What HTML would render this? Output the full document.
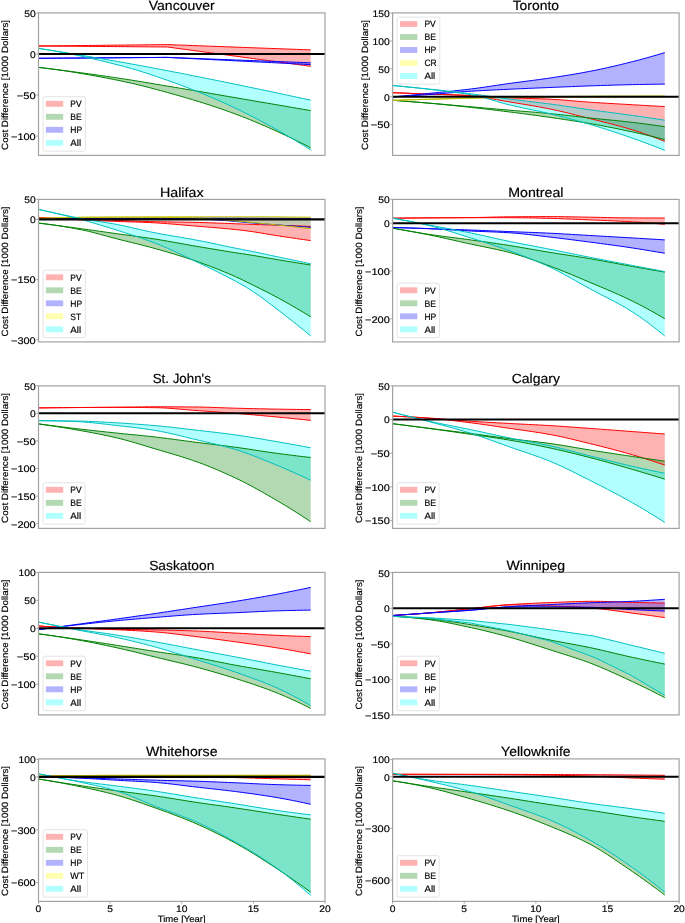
<!DOCTYPE html>
<html><head><meta charset="utf-8"><style>
html,body{margin:0;padding:0;background:#fff;}
svg{display:block;}
text{font-family:"Liberation Sans",sans-serif;fill:#000;stroke:#000;stroke-width:0.18px;text-rendering:geometricPrecision;}
svg{will-change:transform;}
</style></head><body>
<svg width="685" height="923" viewBox="0 0 685 923">
<rect x="0" y="0" width="685" height="923" fill="#fff"/>
<g>
<clipPath id="c00"><rect x="38.5" y="12.9" width="286.5" height="142.5"/></clipPath>
<g clip-path="url(#c00)">
<polygon points="38.5,46 42.08,45.96 45.66,45.92 49.24,45.88 52.83,45.84 56.41,45.81 59.99,45.77 63.57,45.73 67.15,45.69 70.73,45.65 74.31,45.61 77.89,45.57 81.47,45.53 85.06,45.49 88.64,45.46 92.22,45.42 95.8,45.38 99.38,45.34 102.96,45.3 106.54,45.26 110.12,45.22 113.71,45.18 117.29,45.14 120.87,45.11 124.45,45.07 128.03,45.03 131.61,44.99 135.19,44.95 138.77,44.91 142.36,44.87 145.94,44.83 149.52,44.79 153.1,44.76 156.68,44.72 160.26,44.68 163.84,44.64 167.42,44.6 171.01,44.73 174.59,44.87 178.17,45 181.75,45.13 185.33,45.26 188.91,45.4 192.49,45.53 196.07,45.66 199.66,45.79 203.24,45.92 206.82,46.06 210.4,46.19 213.98,46.32 217.56,46.45 221.14,46.59 224.72,46.72 228.31,46.85 231.89,46.98 235.47,47.12 239.05,47.25 242.63,47.38 246.21,47.52 249.79,47.65 253.38,47.78 256.96,47.91 260.54,48.05 264.12,48.18 267.7,48.31 271.28,48.44 274.86,48.58 278.44,48.71 282.02,48.84 285.61,48.97 289.19,49.1 292.77,49.24 296.35,49.37 299.93,49.5 303.51,49.63 307.09,49.77 310.68,49.9 310.68,66.3 307.09,65.82 303.51,65.33 299.93,64.85 296.35,64.37 292.77,63.89 289.19,63.41 285.61,62.92 282.02,62.44 278.44,61.96 274.86,61.47 271.28,60.99 267.7,60.51 264.12,60.03 260.54,59.55 256.96,59.06 253.38,58.58 249.79,58.1 246.21,57.61 242.63,57.13 239.05,56.65 235.47,56.17 231.89,55.69 228.31,55.2 224.72,54.72 221.14,54.24 217.56,53.75 213.98,53.27 210.4,52.79 206.82,52.31 203.24,51.83 199.66,51.34 196.07,50.86 192.49,50.38 188.91,49.89 185.33,49.41 181.75,48.93 178.17,48.45 174.59,47.97 171.01,47.48 167.42,47 163.84,46.97 160.26,46.94 156.68,46.92 153.1,46.89 149.52,46.86 145.94,46.83 142.36,46.81 138.77,46.78 135.19,46.75 131.61,46.72 128.03,46.69 124.45,46.67 120.87,46.64 117.29,46.61 113.71,46.58 110.12,46.56 106.54,46.53 102.96,46.5 99.38,46.47 95.8,46.44 92.22,46.42 88.64,46.39 85.06,46.36 81.47,46.33 77.89,46.31 74.31,46.28 70.73,46.25 67.15,46.22 63.57,46.19 59.99,46.17 56.41,46.14 52.83,46.11 49.24,46.08 45.66,46.06 42.08,46.03 38.5,46" fill="#ff0000" fill-opacity="0.3" stroke="none"/>
<polygon points="38.5,67.4 42.08,67.82 45.66,68.25 49.24,68.68 52.83,69.12 56.41,69.56 59.99,70.02 63.57,70.47 67.15,70.94 70.73,71.41 74.31,71.88 77.89,72.36 81.47,72.85 85.06,73.34 88.64,73.83 92.22,74.33 95.8,74.84 99.38,75.35 102.96,75.86 106.54,76.38 110.12,76.9 113.71,77.42 117.29,77.95 120.87,78.49 124.45,79.03 128.03,79.58 131.61,80.15 135.19,80.72 138.77,81.31 142.36,81.9 145.94,82.49 149.52,83.09 153.1,83.69 156.68,84.3 160.26,84.9 163.84,85.5 167.42,86.1 171.01,86.7 174.59,87.3 178.17,87.9 181.75,88.51 185.33,89.12 188.91,89.73 192.49,90.34 196.07,90.95 199.66,91.56 203.24,92.18 206.82,92.79 210.4,93.41 213.98,94.02 217.56,94.64 221.14,95.25 224.72,95.87 228.31,96.48 231.89,97.09 235.47,97.71 239.05,98.32 242.63,98.93 246.21,99.54 249.79,100.16 253.38,100.77 256.96,101.38 260.54,102 264.12,102.61 267.7,103.22 271.28,103.84 274.86,104.45 278.44,105.07 282.02,105.68 285.61,106.29 289.19,106.91 292.77,107.52 296.35,108.14 299.93,108.75 303.51,109.37 307.09,109.98 310.68,110.6 310.68,147.8 307.09,145.96 303.51,144.14 299.93,142.34 296.35,140.57 292.77,138.82 289.19,137.09 285.61,135.38 282.02,133.7 278.44,132.04 274.86,130.4 271.28,128.79 267.7,127.2 264.12,125.64 260.54,124.11 256.96,122.59 253.38,121.11 249.79,119.64 246.21,118.21 242.63,116.8 239.05,115.42 235.47,114.06 231.89,112.73 228.31,111.43 224.72,110.15 221.14,108.9 217.56,107.67 213.98,106.47 210.4,105.29 206.82,104.13 203.24,102.99 199.66,101.87 196.07,100.77 192.49,99.68 188.91,98.62 185.33,97.56 181.75,96.53 178.17,95.5 174.59,94.49 171.01,93.49 167.42,92.5 163.84,91.52 160.26,90.54 156.68,89.57 153.1,88.61 149.52,87.67 145.94,86.74 142.36,85.83 138.77,84.95 135.19,84.08 131.61,83.25 128.03,82.44 124.45,81.66 120.87,80.92 117.29,80.2 113.71,79.49 110.12,78.78 106.54,78.09 102.96,77.4 99.38,76.73 95.8,76.06 92.22,75.41 88.64,74.77 85.06,74.14 81.47,73.52 77.89,72.92 74.31,72.33 70.73,71.76 67.15,71.2 63.57,70.66 59.99,70.14 56.41,69.63 52.83,69.15 49.24,68.68 45.66,68.23 42.08,67.81 38.5,67.4" fill="#008000" fill-opacity="0.3" stroke="none"/>
<polygon points="38.5,58.3 42.08,58.27 45.66,58.25 49.24,58.22 52.83,58.2 56.41,58.17 59.99,58.15 63.57,58.12 67.15,58.1 70.73,58.07 74.31,58.05 77.89,58.02 81.47,58 85.06,57.97 88.64,57.95 92.22,57.92 95.8,57.9 99.38,57.88 102.96,57.85 106.54,57.82 110.12,57.8 113.71,57.77 117.29,57.75 120.87,57.73 124.45,57.7 128.03,57.67 131.61,57.65 135.19,57.62 138.77,57.6 142.36,57.57 145.94,57.55 149.52,57.52 153.1,57.5 156.68,57.48 160.26,57.45 163.84,57.42 167.42,57.4 171.01,57.53 174.59,57.67 178.17,57.8 181.75,57.94 185.33,58.07 188.91,58.21 192.49,58.34 196.07,58.48 199.66,58.61 203.24,58.75 206.82,58.88 210.4,59.02 213.98,59.16 217.56,59.29 221.14,59.42 224.72,59.56 228.31,59.7 231.89,59.83 235.47,59.96 239.05,60.1 242.63,60.23 246.21,60.37 249.79,60.5 253.38,60.64 256.96,60.77 260.54,60.91 264.12,61.04 267.7,61.18 271.28,61.31 274.86,61.45 278.44,61.58 282.02,61.72 285.61,61.85 289.19,61.99 292.77,62.12 296.35,62.26 299.93,62.39 303.51,62.53 307.09,62.66 310.68,62.8 310.68,64.6 307.09,64.42 303.51,64.24 299.93,64.06 296.35,63.88 292.77,63.7 289.19,63.52 285.61,63.34 282.02,63.16 278.44,62.98 274.86,62.8 271.28,62.62 267.7,62.44 264.12,62.26 260.54,62.08 256.96,61.9 253.38,61.72 249.79,61.54 246.21,61.36 242.63,61.18 239.05,61 235.47,60.82 231.89,60.64 228.31,60.46 224.72,60.28 221.14,60.1 217.56,59.92 213.98,59.74 210.4,59.56 206.82,59.38 203.24,59.2 199.66,59.02 196.07,58.84 192.49,58.66 188.91,58.48 185.33,58.3 181.75,58.12 178.17,57.94 174.59,57.76 171.01,57.58 167.42,57.4 163.84,57.42 160.26,57.45 156.68,57.48 153.1,57.5 149.52,57.52 145.94,57.55 142.36,57.57 138.77,57.6 135.19,57.62 131.61,57.65 128.03,57.67 124.45,57.7 120.87,57.73 117.29,57.75 113.71,57.77 110.12,57.8 106.54,57.82 102.96,57.85 99.38,57.88 95.8,57.9 92.22,57.92 88.64,57.95 85.06,57.97 81.47,58 77.89,58.02 74.31,58.05 70.73,58.07 67.15,58.1 63.57,58.12 59.99,58.15 56.41,58.17 52.83,58.2 49.24,58.22 45.66,58.25 42.08,58.27 38.5,58.3" fill="#0000ff" fill-opacity="0.3" stroke="none"/>
<polygon points="38.5,48.4 42.08,48.96 45.66,49.52 49.24,50.08 52.83,50.65 56.41,51.22 59.99,51.8 63.57,52.38 67.15,52.96 70.73,53.55 74.31,54.14 77.89,54.73 81.47,55.33 85.06,55.93 88.64,56.54 92.22,57.14 95.8,57.75 99.38,58.37 102.96,58.98 106.54,59.6 110.12,60.22 113.71,60.85 117.29,61.47 120.87,62.1 124.45,62.73 128.03,63.37 131.61,64.02 135.19,64.67 138.77,65.32 142.36,65.98 145.94,66.64 149.52,67.31 153.1,67.98 156.68,68.66 160.26,69.34 163.84,70.02 167.42,70.7 171.01,71.39 174.59,72.08 178.17,72.77 181.75,73.47 185.33,74.17 188.91,74.88 192.49,75.59 196.07,76.3 199.66,77.02 203.24,77.73 206.82,78.45 210.4,79.18 213.98,79.9 217.56,80.63 221.14,81.36 224.72,82.09 228.31,82.82 231.89,83.55 235.47,84.29 239.05,85.02 242.63,85.76 246.21,86.5 249.79,87.25 253.38,87.99 256.96,88.74 260.54,89.49 264.12,90.24 267.7,90.99 271.28,91.75 274.86,92.51 278.44,93.27 282.02,94.03 285.61,94.79 289.19,95.56 292.77,96.33 296.35,97.1 299.93,97.87 303.51,98.64 307.09,99.42 310.68,100.2 310.68,149.9 307.09,147.66 303.51,145.44 299.93,143.24 296.35,141.07 292.77,138.93 289.19,136.81 285.61,134.71 282.02,132.64 278.44,130.6 274.86,128.58 271.28,126.59 267.7,124.63 264.12,122.69 260.54,120.78 256.96,118.9 253.38,117.05 249.79,115.22 246.21,113.42 242.63,111.65 239.05,109.9 235.47,108.19 231.89,106.5 228.31,104.84 224.72,103.21 221.14,101.6 217.56,100.02 213.98,98.46 210.4,96.93 206.82,95.42 203.24,93.93 199.66,92.47 196.07,91.03 192.49,89.62 188.91,88.22 185.33,86.85 181.75,85.5 178.17,84.17 174.59,82.86 171.01,81.57 167.42,80.3 163.84,79.05 160.26,77.8 156.68,76.58 153.1,75.36 149.52,74.17 145.94,73 142.36,71.86 138.77,70.74 135.19,69.65 131.61,68.59 128.03,67.57 124.45,66.59 120.87,65.65 117.29,64.73 113.71,63.83 110.12,62.94 106.54,62.05 102.96,61.18 99.38,60.32 95.8,59.48 92.22,58.65 88.64,57.83 85.06,57.03 81.47,56.24 77.89,55.47 74.31,54.72 70.73,53.99 67.15,53.28 63.57,52.59 59.99,51.92 56.41,51.27 52.83,50.65 49.24,50.05 45.66,49.47 42.08,48.92 38.5,48.4" fill="#00ffff" fill-opacity="0.3" stroke="none"/>
<polyline points="38.5,46 42.08,45.96 45.66,45.92 49.24,45.88 52.83,45.84 56.41,45.81 59.99,45.77 63.57,45.73 67.15,45.69 70.73,45.65 74.31,45.61 77.89,45.57 81.47,45.53 85.06,45.49 88.64,45.46 92.22,45.42 95.8,45.38 99.38,45.34 102.96,45.3 106.54,45.26 110.12,45.22 113.71,45.18 117.29,45.14 120.87,45.11 124.45,45.07 128.03,45.03 131.61,44.99 135.19,44.95 138.77,44.91 142.36,44.87 145.94,44.83 149.52,44.79 153.1,44.76 156.68,44.72 160.26,44.68 163.84,44.64 167.42,44.6 171.01,44.73 174.59,44.87 178.17,45 181.75,45.13 185.33,45.26 188.91,45.4 192.49,45.53 196.07,45.66 199.66,45.79 203.24,45.92 206.82,46.06 210.4,46.19 213.98,46.32 217.56,46.45 221.14,46.59 224.72,46.72 228.31,46.85 231.89,46.98 235.47,47.12 239.05,47.25 242.63,47.38 246.21,47.52 249.79,47.65 253.38,47.78 256.96,47.91 260.54,48.05 264.12,48.18 267.7,48.31 271.28,48.44 274.86,48.58 278.44,48.71 282.02,48.84 285.61,48.97 289.19,49.1 292.77,49.24 296.35,49.37 299.93,49.5 303.51,49.63 307.09,49.77 310.68,49.9" fill="none" stroke="#ff0000" stroke-width="1.0" stroke-linejoin="round"/>
<polyline points="38.5,46 42.08,46.03 45.66,46.06 49.24,46.08 52.83,46.11 56.41,46.14 59.99,46.17 63.57,46.19 67.15,46.22 70.73,46.25 74.31,46.28 77.89,46.31 81.47,46.33 85.06,46.36 88.64,46.39 92.22,46.42 95.8,46.44 99.38,46.47 102.96,46.5 106.54,46.53 110.12,46.56 113.71,46.58 117.29,46.61 120.87,46.64 124.45,46.67 128.03,46.69 131.61,46.72 135.19,46.75 138.77,46.78 142.36,46.81 145.94,46.83 149.52,46.86 153.1,46.89 156.68,46.92 160.26,46.94 163.84,46.97 167.42,47 171.01,47.48 174.59,47.97 178.17,48.45 181.75,48.93 185.33,49.41 188.91,49.89 192.49,50.38 196.07,50.86 199.66,51.34 203.24,51.83 206.82,52.31 210.4,52.79 213.98,53.27 217.56,53.75 221.14,54.24 224.72,54.72 228.31,55.2 231.89,55.69 235.47,56.17 239.05,56.65 242.63,57.13 246.21,57.61 249.79,58.1 253.38,58.58 256.96,59.06 260.54,59.55 264.12,60.03 267.7,60.51 271.28,60.99 274.86,61.47 278.44,61.96 282.02,62.44 285.61,62.92 289.19,63.41 292.77,63.89 296.35,64.37 299.93,64.85 303.51,65.33 307.09,65.82 310.68,66.3" fill="none" stroke="#ff0000" stroke-width="1.0" stroke-linejoin="round"/>
<polyline points="38.5,67.4 42.08,67.82 45.66,68.25 49.24,68.68 52.83,69.12 56.41,69.56 59.99,70.02 63.57,70.47 67.15,70.94 70.73,71.41 74.31,71.88 77.89,72.36 81.47,72.85 85.06,73.34 88.64,73.83 92.22,74.33 95.8,74.84 99.38,75.35 102.96,75.86 106.54,76.38 110.12,76.9 113.71,77.42 117.29,77.95 120.87,78.49 124.45,79.03 128.03,79.58 131.61,80.15 135.19,80.72 138.77,81.31 142.36,81.9 145.94,82.49 149.52,83.09 153.1,83.69 156.68,84.3 160.26,84.9 163.84,85.5 167.42,86.1 171.01,86.7 174.59,87.3 178.17,87.9 181.75,88.51 185.33,89.12 188.91,89.73 192.49,90.34 196.07,90.95 199.66,91.56 203.24,92.18 206.82,92.79 210.4,93.41 213.98,94.02 217.56,94.64 221.14,95.25 224.72,95.87 228.31,96.48 231.89,97.09 235.47,97.71 239.05,98.32 242.63,98.93 246.21,99.54 249.79,100.16 253.38,100.77 256.96,101.38 260.54,102 264.12,102.61 267.7,103.22 271.28,103.84 274.86,104.45 278.44,105.07 282.02,105.68 285.61,106.29 289.19,106.91 292.77,107.52 296.35,108.14 299.93,108.75 303.51,109.37 307.09,109.98 310.68,110.6" fill="none" stroke="#008000" stroke-width="1.0" stroke-linejoin="round"/>
<polyline points="38.5,67.4 42.08,67.81 45.66,68.23 49.24,68.68 52.83,69.15 56.41,69.63 59.99,70.14 63.57,70.66 67.15,71.2 70.73,71.76 74.31,72.33 77.89,72.92 81.47,73.52 85.06,74.14 88.64,74.77 92.22,75.41 95.8,76.06 99.38,76.73 102.96,77.4 106.54,78.09 110.12,78.78 113.71,79.49 117.29,80.2 120.87,80.92 124.45,81.66 128.03,82.44 131.61,83.25 135.19,84.08 138.77,84.95 142.36,85.83 145.94,86.74 149.52,87.67 153.1,88.61 156.68,89.57 160.26,90.54 163.84,91.52 167.42,92.5 171.01,93.49 174.59,94.49 178.17,95.5 181.75,96.53 185.33,97.56 188.91,98.62 192.49,99.68 196.07,100.77 199.66,101.87 203.24,102.99 206.82,104.13 210.4,105.29 213.98,106.47 217.56,107.67 221.14,108.9 224.72,110.15 228.31,111.43 231.89,112.73 235.47,114.06 239.05,115.42 242.63,116.8 246.21,118.21 249.79,119.64 253.38,121.11 256.96,122.59 260.54,124.11 264.12,125.64 267.7,127.2 271.28,128.79 274.86,130.4 278.44,132.04 282.02,133.7 285.61,135.38 289.19,137.09 292.77,138.82 296.35,140.57 299.93,142.34 303.51,144.14 307.09,145.96 310.68,147.8" fill="none" stroke="#008000" stroke-width="1.0" stroke-linejoin="round"/>
<polyline points="38.5,58.3 42.08,58.27 45.66,58.25 49.24,58.22 52.83,58.2 56.41,58.17 59.99,58.15 63.57,58.12 67.15,58.1 70.73,58.07 74.31,58.05 77.89,58.02 81.47,58 85.06,57.97 88.64,57.95 92.22,57.92 95.8,57.9 99.38,57.88 102.96,57.85 106.54,57.82 110.12,57.8 113.71,57.77 117.29,57.75 120.87,57.73 124.45,57.7 128.03,57.67 131.61,57.65 135.19,57.62 138.77,57.6 142.36,57.57 145.94,57.55 149.52,57.52 153.1,57.5 156.68,57.48 160.26,57.45 163.84,57.42 167.42,57.4 171.01,57.53 174.59,57.67 178.17,57.8 181.75,57.94 185.33,58.07 188.91,58.21 192.49,58.34 196.07,58.48 199.66,58.61 203.24,58.75 206.82,58.88 210.4,59.02 213.98,59.16 217.56,59.29 221.14,59.42 224.72,59.56 228.31,59.7 231.89,59.83 235.47,59.96 239.05,60.1 242.63,60.23 246.21,60.37 249.79,60.5 253.38,60.64 256.96,60.77 260.54,60.91 264.12,61.04 267.7,61.18 271.28,61.31 274.86,61.45 278.44,61.58 282.02,61.72 285.61,61.85 289.19,61.99 292.77,62.12 296.35,62.26 299.93,62.39 303.51,62.53 307.09,62.66 310.68,62.8" fill="none" stroke="#0000ff" stroke-width="1.0" stroke-linejoin="round"/>
<polyline points="38.5,58.3 42.08,58.27 45.66,58.25 49.24,58.22 52.83,58.2 56.41,58.17 59.99,58.15 63.57,58.12 67.15,58.1 70.73,58.07 74.31,58.05 77.89,58.02 81.47,58 85.06,57.97 88.64,57.95 92.22,57.92 95.8,57.9 99.38,57.88 102.96,57.85 106.54,57.82 110.12,57.8 113.71,57.77 117.29,57.75 120.87,57.73 124.45,57.7 128.03,57.67 131.61,57.65 135.19,57.62 138.77,57.6 142.36,57.57 145.94,57.55 149.52,57.52 153.1,57.5 156.68,57.48 160.26,57.45 163.84,57.42 167.42,57.4 171.01,57.58 174.59,57.76 178.17,57.94 181.75,58.12 185.33,58.3 188.91,58.48 192.49,58.66 196.07,58.84 199.66,59.02 203.24,59.2 206.82,59.38 210.4,59.56 213.98,59.74 217.56,59.92 221.14,60.1 224.72,60.28 228.31,60.46 231.89,60.64 235.47,60.82 239.05,61 242.63,61.18 246.21,61.36 249.79,61.54 253.38,61.72 256.96,61.9 260.54,62.08 264.12,62.26 267.7,62.44 271.28,62.62 274.86,62.8 278.44,62.98 282.02,63.16 285.61,63.34 289.19,63.52 292.77,63.7 296.35,63.88 299.93,64.06 303.51,64.24 307.09,64.42 310.68,64.6" fill="none" stroke="#0000ff" stroke-width="1.0" stroke-linejoin="round"/>
<polyline points="38.5,48.4 42.08,48.96 45.66,49.52 49.24,50.08 52.83,50.65 56.41,51.22 59.99,51.8 63.57,52.38 67.15,52.96 70.73,53.55 74.31,54.14 77.89,54.73 81.47,55.33 85.06,55.93 88.64,56.54 92.22,57.14 95.8,57.75 99.38,58.37 102.96,58.98 106.54,59.6 110.12,60.22 113.71,60.85 117.29,61.47 120.87,62.1 124.45,62.73 128.03,63.37 131.61,64.02 135.19,64.67 138.77,65.32 142.36,65.98 145.94,66.64 149.52,67.31 153.1,67.98 156.68,68.66 160.26,69.34 163.84,70.02 167.42,70.7 171.01,71.39 174.59,72.08 178.17,72.77 181.75,73.47 185.33,74.17 188.91,74.88 192.49,75.59 196.07,76.3 199.66,77.02 203.24,77.73 206.82,78.45 210.4,79.18 213.98,79.9 217.56,80.63 221.14,81.36 224.72,82.09 228.31,82.82 231.89,83.55 235.47,84.29 239.05,85.02 242.63,85.76 246.21,86.5 249.79,87.25 253.38,87.99 256.96,88.74 260.54,89.49 264.12,90.24 267.7,90.99 271.28,91.75 274.86,92.51 278.44,93.27 282.02,94.03 285.61,94.79 289.19,95.56 292.77,96.33 296.35,97.1 299.93,97.87 303.51,98.64 307.09,99.42 310.68,100.2" fill="none" stroke="#00bfbf" stroke-width="1.0" stroke-linejoin="round"/>
<polyline points="38.5,48.4 42.08,48.92 45.66,49.47 49.24,50.05 52.83,50.65 56.41,51.27 59.99,51.92 63.57,52.59 67.15,53.28 70.73,53.99 74.31,54.72 77.89,55.47 81.47,56.24 85.06,57.03 88.64,57.83 92.22,58.65 95.8,59.48 99.38,60.32 102.96,61.18 106.54,62.05 110.12,62.94 113.71,63.83 117.29,64.73 120.87,65.65 124.45,66.59 128.03,67.57 131.61,68.59 135.19,69.65 138.77,70.74 142.36,71.86 145.94,73 149.52,74.17 153.1,75.36 156.68,76.58 160.26,77.8 163.84,79.05 167.42,80.3 171.01,81.57 174.59,82.86 178.17,84.17 181.75,85.5 185.33,86.85 188.91,88.22 192.49,89.62 196.07,91.03 199.66,92.47 203.24,93.93 206.82,95.42 210.4,96.93 213.98,98.46 217.56,100.02 221.14,101.6 224.72,103.21 228.31,104.84 231.89,106.5 235.47,108.19 239.05,109.9 242.63,111.65 246.21,113.42 249.79,115.22 253.38,117.05 256.96,118.9 260.54,120.78 264.12,122.69 267.7,124.63 271.28,126.59 274.86,128.58 278.44,130.6 282.02,132.64 285.61,134.71 289.19,136.81 292.77,138.93 296.35,141.07 299.93,143.24 303.51,145.44 307.09,147.66 310.68,149.9" fill="none" stroke="#00bfbf" stroke-width="1.0" stroke-linejoin="round"/>
<line x1="38.5" y1="54" x2="325" y2="54" stroke="#000" stroke-width="2.1"/>
</g>
<rect x="38.5" y="12.9" width="286.5" height="142.5" fill="none" stroke="#a2a2a2" stroke-width="1.2"/>
<line x1="36.3" y1="12.97" x2="38.5" y2="12.97" stroke="#a2a2a2" stroke-width="1"/>
<text x="35.7" y="16.77" font-size="9.54" text-anchor="end" textLength="11.45" lengthAdjust="spacingAndGlyphs">50</text>
<line x1="36.3" y1="54" x2="38.5" y2="54" stroke="#a2a2a2" stroke-width="1"/>
<text x="35.7" y="57.8" font-size="9.54" text-anchor="end" textLength="5.73" lengthAdjust="spacingAndGlyphs">0</text>
<line x1="36.3" y1="95.03" x2="38.5" y2="95.03" stroke="#a2a2a2" stroke-width="1"/>
<text x="35.7" y="98.83" font-size="9.54" text-anchor="end" textLength="18.99" lengthAdjust="spacingAndGlyphs">−50</text>
<line x1="36.3" y1="136.07" x2="38.5" y2="136.07" stroke="#a2a2a2" stroke-width="1"/>
<text x="35.7" y="139.87" font-size="9.54" text-anchor="end" textLength="24.72" lengthAdjust="spacingAndGlyphs">−100</text>
<text x="181.75" y="10.3" font-size="13.3" text-anchor="middle" textLength="66.1" lengthAdjust="spacingAndGlyphs">Vancouver</text>
<text x="7.8" y="84.95" font-size="9.09" text-anchor="middle" textLength="129.9" lengthAdjust="spacingAndGlyphs" transform="rotate(-90 7.8 84.95)">Cost Difference [1000 Dollars]</text>
<rect x="43.1" y="96.7" width="42.26" height="54.5" rx="2" ry="2" fill="#fff" fill-opacity="0.8" stroke="#d9d9d9" stroke-opacity="0.8" stroke-width="0.9"/>
<rect x="45.9" y="100.85" width="17.3" height="5.9" fill="#ff0000" fill-opacity="0.3"/>
<text x="70.3" y="107" font-size="9.28" text-anchor="start" textLength="11.26" lengthAdjust="spacingAndGlyphs">PV</text>
<rect x="45.9" y="113.85" width="17.3" height="5.9" fill="#008000" fill-opacity="0.3"/>
<text x="70.3" y="120" font-size="9.28" text-anchor="start" textLength="11.53" lengthAdjust="spacingAndGlyphs">BE</text>
<rect x="45.9" y="126.85" width="17.3" height="5.9" fill="#0000ff" fill-opacity="0.3"/>
<text x="70.3" y="133" font-size="9.28" text-anchor="start" textLength="11.86" lengthAdjust="spacingAndGlyphs">HP</text>
<rect x="45.9" y="139.85" width="17.3" height="5.9" fill="#00ffff" fill-opacity="0.3"/>
<text x="70.3" y="146" font-size="9.28" text-anchor="start" textLength="10.85" lengthAdjust="spacingAndGlyphs">All</text>
</g>
<g>
<clipPath id="c10"><rect x="392.6" y="12.9" width="286.5" height="142.5"/></clipPath>
<g clip-path="url(#c10)">
<polygon points="392.6,92.7 396.18,92.84 399.76,92.98 403.34,93.12 406.93,93.26 410.51,93.39 414.09,93.53 417.67,93.66 421.25,93.79 424.83,93.92 428.41,94.04 431.99,94.17 435.58,94.28 439.16,94.4 442.74,94.5 446.32,94.61 449.9,94.71 453.48,94.82 457.06,94.93 460.64,95.05 464.23,95.17 467.81,95.31 471.39,95.46 474.97,95.64 478.55,95.84 482.13,96.07 485.71,96.3 489.29,96.55 492.88,96.79 496.46,97.03 500.04,97.26 503.62,97.48 507.2,97.67 510.78,97.84 514.36,97.98 517.94,98.11 521.52,98.23 525.11,98.34 528.69,98.44 532.27,98.55 535.85,98.66 539.43,98.78 543.01,98.9 546.59,99.05 550.17,99.21 553.76,99.4 557.34,99.62 560.92,99.88 564.5,100.15 568.08,100.44 571.66,100.74 575.24,101.05 578.83,101.35 582.41,101.64 585.99,101.92 589.57,102.17 593.15,102.41 596.73,102.64 600.31,102.86 603.89,103.08 607.48,103.29 611.06,103.5 614.64,103.71 618.22,103.92 621.8,104.13 625.38,104.33 628.96,104.54 632.54,104.75 636.12,104.96 639.71,105.17 643.29,105.38 646.87,105.58 650.45,105.79 654.03,105.99 657.61,106.2 661.19,106.4 664.78,106.6 664.78,141.4 661.19,140 657.61,138.62 654.03,137.27 650.45,135.95 646.87,134.67 643.29,133.42 639.71,132.2 636.12,131.03 632.54,129.89 628.96,128.8 625.38,127.75 621.8,126.73 618.22,125.75 614.64,124.8 611.06,123.87 607.48,122.96 603.89,122.06 600.31,121.16 596.73,120.28 593.15,119.39 589.57,118.49 585.99,117.59 582.41,116.68 578.83,115.77 575.24,114.86 571.66,113.96 568.08,113.08 564.5,112.22 560.92,111.37 557.34,110.56 553.76,109.77 550.17,109.03 546.59,108.32 543.01,107.63 539.43,106.97 535.85,106.33 532.27,105.7 528.69,105.09 525.11,104.49 521.52,103.9 517.94,103.31 514.36,102.73 510.78,102.14 507.2,101.54 503.62,100.91 500.04,100.25 496.46,99.59 492.88,98.94 489.29,98.3 485.71,97.7 482.13,97.15 478.55,96.65 474.97,96.23 471.39,95.9 467.81,95.66 464.23,95.45 460.64,95.27 457.06,95.1 453.48,94.95 449.9,94.81 446.32,94.68 442.74,94.56 439.16,94.44 435.58,94.31 431.99,94.18 428.41,94.04 424.83,93.9 421.25,93.76 417.67,93.62 414.09,93.48 410.51,93.35 406.93,93.22 403.34,93.08 399.76,92.95 396.18,92.83 392.6,92.7" fill="#ff0000" fill-opacity="0.3" stroke="none"/>
<polygon points="392.6,100.3 396.18,100.56 399.76,100.83 403.34,101.1 406.93,101.37 410.51,101.64 414.09,101.92 417.67,102.21 421.25,102.49 424.83,102.78 428.41,103.07 431.99,103.37 435.58,103.67 439.16,103.97 442.74,104.28 446.32,104.6 449.9,104.92 453.48,105.24 457.06,105.56 460.64,105.88 464.23,106.19 467.81,106.51 471.39,106.83 474.97,107.14 478.55,107.45 482.13,107.77 485.71,108.09 489.29,108.4 492.88,108.72 496.46,109.03 500.04,109.34 503.62,109.65 507.2,109.97 510.78,110.27 514.36,110.58 517.94,110.87 521.52,111.17 525.11,111.46 528.69,111.75 532.27,112.04 535.85,112.34 539.43,112.64 543.01,112.95 546.59,113.28 550.17,113.61 553.76,113.97 557.34,114.34 560.92,114.72 564.5,115.12 568.08,115.53 571.66,115.94 575.24,116.35 578.83,116.76 582.41,117.17 585.99,117.57 589.57,117.95 593.15,118.33 596.73,118.7 600.31,119.05 603.89,119.41 607.48,119.76 611.06,120.11 614.64,120.46 618.22,120.83 621.8,121.2 625.38,121.58 628.96,121.98 632.54,122.4 636.12,122.83 639.71,123.28 643.29,123.73 646.87,124.2 650.45,124.68 654.03,125.17 657.61,125.67 661.19,126.18 664.78,126.7 664.78,139.6 661.19,138.7 657.61,137.8 654.03,136.92 650.45,136.06 646.87,135.21 643.29,134.37 639.71,133.55 636.12,132.74 632.54,131.96 628.96,131.19 625.38,130.43 621.8,129.68 618.22,128.94 614.64,128.22 611.06,127.51 607.48,126.81 603.89,126.12 600.31,125.45 596.73,124.79 593.15,124.15 589.57,123.53 585.99,122.92 582.41,122.32 578.83,121.74 575.24,121.17 571.66,120.61 568.08,120.06 564.5,119.52 560.92,118.99 557.34,118.46 553.76,117.94 550.17,117.42 546.59,116.91 543.01,116.4 539.43,115.9 535.85,115.4 532.27,114.92 528.69,114.43 525.11,113.96 521.52,113.49 517.94,113.02 514.36,112.56 510.78,112.11 507.2,111.66 503.62,111.22 500.04,110.78 496.46,110.34 492.88,109.91 489.29,109.49 485.71,109.07 482.13,108.66 478.55,108.25 474.97,107.85 471.39,107.46 467.81,107.07 464.23,106.68 460.64,106.31 457.06,105.93 453.48,105.56 449.9,105.2 446.32,104.84 442.74,104.49 439.16,104.14 435.58,103.81 431.99,103.48 428.41,103.16 424.83,102.85 421.25,102.54 417.67,102.24 414.09,101.94 410.51,101.65 406.93,101.37 403.34,101.09 399.76,100.82 396.18,100.56 392.6,100.3" fill="#008000" fill-opacity="0.3" stroke="none"/>
<polygon points="392.6,96.9 396.18,96.57 399.76,96.23 403.34,95.9 406.93,95.56 410.51,95.22 414.09,94.87 417.67,94.52 421.25,94.17 424.83,93.82 428.41,93.46 431.99,93.1 435.58,92.74 439.16,92.39 442.74,92.03 446.32,91.67 449.9,91.31 453.48,90.94 457.06,90.56 460.64,90.17 464.23,89.77 467.81,89.36 471.39,88.92 474.97,88.47 478.55,87.98 482.13,87.48 485.71,86.96 489.29,86.43 492.88,85.9 496.46,85.36 500.04,84.83 503.62,84.3 507.2,83.78 510.78,83.28 514.36,82.79 517.94,82.32 521.52,81.85 525.11,81.39 528.69,80.92 532.27,80.46 535.85,79.98 539.43,79.5 543.01,79.01 546.59,78.5 550.17,77.98 553.76,77.44 557.34,76.89 560.92,76.33 564.5,75.76 568.08,75.18 571.66,74.59 575.24,73.98 578.83,73.36 582.41,72.72 585.99,72.06 589.57,71.38 593.15,70.68 596.73,69.96 600.31,69.21 603.89,68.44 607.48,67.65 611.06,66.84 614.64,66.01 618.22,65.17 621.8,64.31 625.38,63.44 628.96,62.55 632.54,61.65 636.12,60.73 639.71,59.78 643.29,58.81 646.87,57.82 650.45,56.82 654.03,55.79 657.61,54.74 661.19,53.68 664.78,52.6 664.78,84.1 661.19,84.14 657.61,84.19 654.03,84.24 650.45,84.3 646.87,84.36 643.29,84.43 639.71,84.5 636.12,84.57 632.54,84.64 628.96,84.72 625.38,84.81 621.8,84.9 618.22,84.99 614.64,85.1 611.06,85.2 607.48,85.32 603.89,85.43 600.31,85.55 596.73,85.67 593.15,85.79 589.57,85.91 585.99,86.04 582.41,86.17 578.83,86.31 575.24,86.45 571.66,86.6 568.08,86.75 564.5,86.89 560.92,87.05 557.34,87.2 553.76,87.35 550.17,87.49 546.59,87.64 543.01,87.79 539.43,87.93 535.85,88.08 532.27,88.23 528.69,88.37 525.11,88.53 521.52,88.68 517.94,88.84 514.36,89 510.78,89.16 507.2,89.33 503.62,89.5 500.04,89.67 496.46,89.84 492.88,90.02 489.29,90.2 485.71,90.39 482.13,90.58 478.55,90.78 474.97,90.99 471.39,91.21 467.81,91.44 464.23,91.7 460.64,91.97 457.06,92.26 453.48,92.56 449.9,92.87 446.32,93.18 442.74,93.49 439.16,93.79 435.58,94.08 431.99,94.35 428.41,94.61 424.83,94.86 421.25,95.11 417.67,95.35 414.09,95.59 410.51,95.82 406.93,96.05 403.34,96.27 399.76,96.48 396.18,96.69 392.6,96.9" fill="#0000ff" fill-opacity="0.3" stroke="none"/>
<polygon points="392.6,100.3 396.18,100.18 399.76,100.06 403.34,99.94 406.93,99.82 410.51,99.7 414.09,99.59 417.67,99.48 421.25,99.36 424.83,99.25 428.41,99.15 431.99,99.04 435.58,98.94 439.16,98.84 442.74,98.74 446.32,98.64 449.9,98.54 453.48,98.44 457.06,98.35 460.64,98.25 464.23,98.15 467.81,98.06 471.39,97.96 474.97,97.86 478.55,97.74 482.13,97.63 485.71,97.52 489.29,97.41 492.88,97.3 496.46,97.21 500.04,97.12 503.62,97.05 507.2,97 510.78,96.96 514.36,96.92 517.94,96.88 521.52,96.84 525.11,96.8 528.69,96.76 532.27,96.72 535.85,96.69 539.43,96.65 543.01,96.62 546.59,96.58 550.17,96.55 553.76,96.52 557.34,96.49 560.92,96.46 564.5,96.43 568.08,96.4 571.66,96.37 575.24,96.34 578.83,96.32 582.41,96.29 585.99,96.27 589.57,96.25 593.15,96.22 596.73,96.2 600.31,96.18 603.89,96.16 607.48,96.14 611.06,96.13 614.64,96.11 618.22,96.1 621.8,96.08 625.38,96.07 628.96,96.06 632.54,96.05 636.12,96.04 639.71,96.03 643.29,96.02 646.87,96.01 650.45,96.01 654.03,96.01 657.61,96 661.19,96 664.78,96 664.78,96.8 661.19,96.8 657.61,96.8 654.03,96.8 650.45,96.8 646.87,96.81 643.29,96.81 639.71,96.81 636.12,96.82 632.54,96.82 628.96,96.83 625.38,96.84 621.8,96.84 618.22,96.85 614.64,96.86 611.06,96.87 607.48,96.88 603.89,96.89 600.31,96.9 596.73,96.91 593.15,96.92 589.57,96.93 585.99,96.95 582.41,96.96 578.83,96.98 575.24,96.99 571.66,97.01 568.08,97.02 564.5,97.04 560.92,97.06 557.34,97.08 553.76,97.09 550.17,97.11 546.59,97.13 543.01,97.16 539.43,97.18 535.85,97.2 532.27,97.22 528.69,97.25 525.11,97.27 521.52,97.29 517.94,97.32 514.36,97.35 510.78,97.37 507.2,97.4 503.62,97.44 500.04,97.5 496.46,97.57 492.88,97.66 489.29,97.75 485.71,97.85 482.13,97.96 478.55,98.07 474.97,98.17 471.39,98.26 467.81,98.35 464.23,98.44 460.64,98.53 457.06,98.62 453.48,98.71 449.9,98.8 446.32,98.88 442.74,98.97 439.16,99.07 435.58,99.16 431.99,99.25 428.41,99.34 424.83,99.43 421.25,99.53 417.67,99.62 414.09,99.72 410.51,99.81 406.93,99.91 403.34,100.01 399.76,100.1 396.18,100.2 392.6,100.3" fill="#ffff00" fill-opacity="0.3" stroke="none"/>
<polygon points="392.6,85.5 396.18,85.83 399.76,86.17 403.34,86.51 406.93,86.86 410.51,87.21 414.09,87.57 417.67,87.93 421.25,88.29 424.83,88.66 428.41,89.03 431.99,89.41 435.58,89.79 439.16,90.18 442.74,90.56 446.32,90.96 449.9,91.35 453.48,91.76 457.06,92.17 460.64,92.58 464.23,93.01 467.81,93.44 471.39,93.88 474.97,94.33 478.55,94.81 482.13,95.29 485.71,95.78 489.29,96.28 492.88,96.78 496.46,97.28 500.04,97.78 503.62,98.27 507.2,98.75 510.78,99.21 514.36,99.66 517.94,100.1 521.52,100.53 525.11,100.95 528.69,101.38 532.27,101.8 535.85,102.23 539.43,102.66 543.01,103.1 546.59,103.55 550.17,104.02 553.76,104.5 557.34,105.01 560.92,105.52 564.5,106.05 568.08,106.58 571.66,107.12 575.24,107.65 578.83,108.19 582.41,108.72 585.99,109.23 589.57,109.74 593.15,110.23 596.73,110.71 600.31,111.19 603.89,111.66 607.48,112.12 611.06,112.59 614.64,113.05 618.22,113.52 621.8,113.99 625.38,114.47 628.96,114.96 632.54,115.46 636.12,115.97 639.71,116.48 643.29,117 646.87,117.52 650.45,118.04 654.03,118.58 657.61,119.11 661.19,119.65 664.78,120.2 664.78,150.4 661.19,148.97 657.61,147.56 654.03,146.16 650.45,144.79 646.87,143.43 643.29,142.09 639.71,140.77 636.12,139.48 632.54,138.2 628.96,136.95 625.38,135.71 621.8,134.49 618.22,133.28 614.64,132.09 611.06,130.91 607.48,129.76 603.89,128.62 600.31,127.5 596.73,126.4 593.15,125.33 589.57,124.27 585.99,123.24 582.41,122.23 578.83,121.23 575.24,120.25 571.66,119.28 568.08,118.34 564.5,117.4 560.92,116.49 557.34,115.59 553.76,114.7 550.17,113.83 546.59,112.99 543.01,112.18 539.43,111.39 535.85,110.63 532.27,109.87 528.69,109.12 525.11,108.37 521.52,107.61 517.94,106.83 514.36,106.03 510.78,105.2 507.2,104.33 503.62,103.39 500.04,102.39 496.46,101.37 492.88,100.33 489.29,99.29 485.71,98.28 482.13,97.31 478.55,96.41 474.97,95.58 471.39,94.86 467.81,94.24 464.23,93.66 460.64,93.13 457.06,92.63 453.48,92.15 449.9,91.7 446.32,91.27 442.74,90.85 439.16,90.44 435.58,90.04 431.99,89.63 428.41,89.22 424.83,88.81 421.25,88.41 417.67,88.02 414.09,87.63 410.51,87.26 406.93,86.89 403.34,86.53 399.76,86.18 396.18,85.83 392.6,85.5" fill="#00ffff" fill-opacity="0.3" stroke="none"/>
<polyline points="392.6,92.7 396.18,92.84 399.76,92.98 403.34,93.12 406.93,93.26 410.51,93.39 414.09,93.53 417.67,93.66 421.25,93.79 424.83,93.92 428.41,94.04 431.99,94.17 435.58,94.28 439.16,94.4 442.74,94.5 446.32,94.61 449.9,94.71 453.48,94.82 457.06,94.93 460.64,95.05 464.23,95.17 467.81,95.31 471.39,95.46 474.97,95.64 478.55,95.84 482.13,96.07 485.71,96.3 489.29,96.55 492.88,96.79 496.46,97.03 500.04,97.26 503.62,97.48 507.2,97.67 510.78,97.84 514.36,97.98 517.94,98.11 521.52,98.23 525.11,98.34 528.69,98.44 532.27,98.55 535.85,98.66 539.43,98.78 543.01,98.9 546.59,99.05 550.17,99.21 553.76,99.4 557.34,99.62 560.92,99.88 564.5,100.15 568.08,100.44 571.66,100.74 575.24,101.05 578.83,101.35 582.41,101.64 585.99,101.92 589.57,102.17 593.15,102.41 596.73,102.64 600.31,102.86 603.89,103.08 607.48,103.29 611.06,103.5 614.64,103.71 618.22,103.92 621.8,104.13 625.38,104.33 628.96,104.54 632.54,104.75 636.12,104.96 639.71,105.17 643.29,105.38 646.87,105.58 650.45,105.79 654.03,105.99 657.61,106.2 661.19,106.4 664.78,106.6" fill="none" stroke="#ff0000" stroke-width="1.0" stroke-linejoin="round"/>
<polyline points="392.6,92.7 396.18,92.83 399.76,92.95 403.34,93.08 406.93,93.22 410.51,93.35 414.09,93.48 417.67,93.62 421.25,93.76 424.83,93.9 428.41,94.04 431.99,94.18 435.58,94.31 439.16,94.44 442.74,94.56 446.32,94.68 449.9,94.81 453.48,94.95 457.06,95.1 460.64,95.27 464.23,95.45 467.81,95.66 471.39,95.9 474.97,96.23 478.55,96.65 482.13,97.15 485.71,97.7 489.29,98.3 492.88,98.94 496.46,99.59 500.04,100.25 503.62,100.91 507.2,101.54 510.78,102.14 514.36,102.73 517.94,103.31 521.52,103.9 525.11,104.49 528.69,105.09 532.27,105.7 535.85,106.33 539.43,106.97 543.01,107.63 546.59,108.32 550.17,109.03 553.76,109.77 557.34,110.56 560.92,111.37 564.5,112.22 568.08,113.08 571.66,113.96 575.24,114.86 578.83,115.77 582.41,116.68 585.99,117.59 589.57,118.49 593.15,119.39 596.73,120.28 600.31,121.16 603.89,122.06 607.48,122.96 611.06,123.87 614.64,124.8 618.22,125.75 621.8,126.73 625.38,127.75 628.96,128.8 632.54,129.89 636.12,131.03 639.71,132.2 643.29,133.42 646.87,134.67 650.45,135.95 654.03,137.27 657.61,138.62 661.19,140 664.78,141.4" fill="none" stroke="#ff0000" stroke-width="1.0" stroke-linejoin="round"/>
<polyline points="392.6,100.3 396.18,100.56 399.76,100.83 403.34,101.1 406.93,101.37 410.51,101.64 414.09,101.92 417.67,102.21 421.25,102.49 424.83,102.78 428.41,103.07 431.99,103.37 435.58,103.67 439.16,103.97 442.74,104.28 446.32,104.6 449.9,104.92 453.48,105.24 457.06,105.56 460.64,105.88 464.23,106.19 467.81,106.51 471.39,106.83 474.97,107.14 478.55,107.45 482.13,107.77 485.71,108.09 489.29,108.4 492.88,108.72 496.46,109.03 500.04,109.34 503.62,109.65 507.2,109.97 510.78,110.27 514.36,110.58 517.94,110.87 521.52,111.17 525.11,111.46 528.69,111.75 532.27,112.04 535.85,112.34 539.43,112.64 543.01,112.95 546.59,113.28 550.17,113.61 553.76,113.97 557.34,114.34 560.92,114.72 564.5,115.12 568.08,115.53 571.66,115.94 575.24,116.35 578.83,116.76 582.41,117.17 585.99,117.57 589.57,117.95 593.15,118.33 596.73,118.7 600.31,119.05 603.89,119.41 607.48,119.76 611.06,120.11 614.64,120.46 618.22,120.83 621.8,121.2 625.38,121.58 628.96,121.98 632.54,122.4 636.12,122.83 639.71,123.28 643.29,123.73 646.87,124.2 650.45,124.68 654.03,125.17 657.61,125.67 661.19,126.18 664.78,126.7" fill="none" stroke="#008000" stroke-width="1.0" stroke-linejoin="round"/>
<polyline points="392.6,100.3 396.18,100.56 399.76,100.82 403.34,101.09 406.93,101.37 410.51,101.65 414.09,101.94 417.67,102.24 421.25,102.54 424.83,102.85 428.41,103.16 431.99,103.48 435.58,103.81 439.16,104.14 442.74,104.49 446.32,104.84 449.9,105.2 453.48,105.56 457.06,105.93 460.64,106.31 464.23,106.68 467.81,107.07 471.39,107.46 474.97,107.85 478.55,108.25 482.13,108.66 485.71,109.07 489.29,109.49 492.88,109.91 496.46,110.34 500.04,110.78 503.62,111.22 507.2,111.66 510.78,112.11 514.36,112.56 517.94,113.02 521.52,113.49 525.11,113.96 528.69,114.43 532.27,114.92 535.85,115.4 539.43,115.9 543.01,116.4 546.59,116.91 550.17,117.42 553.76,117.94 557.34,118.46 560.92,118.99 564.5,119.52 568.08,120.06 571.66,120.61 575.24,121.17 578.83,121.74 582.41,122.32 585.99,122.92 589.57,123.53 593.15,124.15 596.73,124.79 600.31,125.45 603.89,126.12 607.48,126.81 611.06,127.51 614.64,128.22 618.22,128.94 621.8,129.68 625.38,130.43 628.96,131.19 632.54,131.96 636.12,132.74 639.71,133.55 643.29,134.37 646.87,135.21 650.45,136.06 654.03,136.92 657.61,137.8 661.19,138.7 664.78,139.6" fill="none" stroke="#008000" stroke-width="1.0" stroke-linejoin="round"/>
<polyline points="392.6,96.9 396.18,96.57 399.76,96.23 403.34,95.9 406.93,95.56 410.51,95.22 414.09,94.87 417.67,94.52 421.25,94.17 424.83,93.82 428.41,93.46 431.99,93.1 435.58,92.74 439.16,92.39 442.74,92.03 446.32,91.67 449.9,91.31 453.48,90.94 457.06,90.56 460.64,90.17 464.23,89.77 467.81,89.36 471.39,88.92 474.97,88.47 478.55,87.98 482.13,87.48 485.71,86.96 489.29,86.43 492.88,85.9 496.46,85.36 500.04,84.83 503.62,84.3 507.2,83.78 510.78,83.28 514.36,82.79 517.94,82.32 521.52,81.85 525.11,81.39 528.69,80.92 532.27,80.46 535.85,79.98 539.43,79.5 543.01,79.01 546.59,78.5 550.17,77.98 553.76,77.44 557.34,76.89 560.92,76.33 564.5,75.76 568.08,75.18 571.66,74.59 575.24,73.98 578.83,73.36 582.41,72.72 585.99,72.06 589.57,71.38 593.15,70.68 596.73,69.96 600.31,69.21 603.89,68.44 607.48,67.65 611.06,66.84 614.64,66.01 618.22,65.17 621.8,64.31 625.38,63.44 628.96,62.55 632.54,61.65 636.12,60.73 639.71,59.78 643.29,58.81 646.87,57.82 650.45,56.82 654.03,55.79 657.61,54.74 661.19,53.68 664.78,52.6" fill="none" stroke="#0000ff" stroke-width="1.0" stroke-linejoin="round"/>
<polyline points="392.6,96.9 396.18,96.69 399.76,96.48 403.34,96.27 406.93,96.05 410.51,95.82 414.09,95.59 417.67,95.35 421.25,95.11 424.83,94.86 428.41,94.61 431.99,94.35 435.58,94.08 439.16,93.79 442.74,93.49 446.32,93.18 449.9,92.87 453.48,92.56 457.06,92.26 460.64,91.97 464.23,91.7 467.81,91.44 471.39,91.21 474.97,90.99 478.55,90.78 482.13,90.58 485.71,90.39 489.29,90.2 492.88,90.02 496.46,89.84 500.04,89.67 503.62,89.5 507.2,89.33 510.78,89.16 514.36,89 517.94,88.84 521.52,88.68 525.11,88.53 528.69,88.37 532.27,88.23 535.85,88.08 539.43,87.93 543.01,87.79 546.59,87.64 550.17,87.49 553.76,87.35 557.34,87.2 560.92,87.05 564.5,86.89 568.08,86.75 571.66,86.6 575.24,86.45 578.83,86.31 582.41,86.17 585.99,86.04 589.57,85.91 593.15,85.79 596.73,85.67 600.31,85.55 603.89,85.43 607.48,85.32 611.06,85.2 614.64,85.1 618.22,84.99 621.8,84.9 625.38,84.81 628.96,84.72 632.54,84.64 636.12,84.57 639.71,84.5 643.29,84.43 646.87,84.36 650.45,84.3 654.03,84.24 657.61,84.19 661.19,84.14 664.78,84.1" fill="none" stroke="#0000ff" stroke-width="1.0" stroke-linejoin="round"/>
<polyline points="392.6,100.3 396.18,100.18 399.76,100.06 403.34,99.94 406.93,99.82 410.51,99.7 414.09,99.59 417.67,99.48 421.25,99.36 424.83,99.25 428.41,99.15 431.99,99.04 435.58,98.94 439.16,98.84 442.74,98.74 446.32,98.64 449.9,98.54 453.48,98.44 457.06,98.35 460.64,98.25 464.23,98.15 467.81,98.06 471.39,97.96 474.97,97.86 478.55,97.74 482.13,97.63 485.71,97.52 489.29,97.41 492.88,97.3 496.46,97.21 500.04,97.12 503.62,97.05 507.2,97 510.78,96.96 514.36,96.92 517.94,96.88 521.52,96.84 525.11,96.8 528.69,96.76 532.27,96.72 535.85,96.69 539.43,96.65 543.01,96.62 546.59,96.58 550.17,96.55 553.76,96.52 557.34,96.49 560.92,96.46 564.5,96.43 568.08,96.4 571.66,96.37 575.24,96.34 578.83,96.32 582.41,96.29 585.99,96.27 589.57,96.25 593.15,96.22 596.73,96.2 600.31,96.18 603.89,96.16 607.48,96.14 611.06,96.13 614.64,96.11 618.22,96.1 621.8,96.08 625.38,96.07 628.96,96.06 632.54,96.05 636.12,96.04 639.71,96.03 643.29,96.02 646.87,96.01 650.45,96.01 654.03,96.01 657.61,96 661.19,96 664.78,96" fill="none" stroke="#bfbf00" stroke-width="1.0" stroke-linejoin="round"/>
<polyline points="392.6,100.3 396.18,100.2 399.76,100.1 403.34,100.01 406.93,99.91 410.51,99.81 414.09,99.72 417.67,99.62 421.25,99.53 424.83,99.43 428.41,99.34 431.99,99.25 435.58,99.16 439.16,99.07 442.74,98.97 446.32,98.88 449.9,98.8 453.48,98.71 457.06,98.62 460.64,98.53 464.23,98.44 467.81,98.35 471.39,98.26 474.97,98.17 478.55,98.07 482.13,97.96 485.71,97.85 489.29,97.75 492.88,97.66 496.46,97.57 500.04,97.5 503.62,97.44 507.2,97.4 510.78,97.37 514.36,97.35 517.94,97.32 521.52,97.29 525.11,97.27 528.69,97.25 532.27,97.22 535.85,97.2 539.43,97.18 543.01,97.16 546.59,97.13 550.17,97.11 553.76,97.09 557.34,97.08 560.92,97.06 564.5,97.04 568.08,97.02 571.66,97.01 575.24,96.99 578.83,96.98 582.41,96.96 585.99,96.95 589.57,96.93 593.15,96.92 596.73,96.91 600.31,96.9 603.89,96.89 607.48,96.88 611.06,96.87 614.64,96.86 618.22,96.85 621.8,96.84 625.38,96.84 628.96,96.83 632.54,96.82 636.12,96.82 639.71,96.81 643.29,96.81 646.87,96.81 650.45,96.8 654.03,96.8 657.61,96.8 661.19,96.8 664.78,96.8" fill="none" stroke="#bfbf00" stroke-width="1.0" stroke-linejoin="round"/>
<polyline points="392.6,85.5 396.18,85.83 399.76,86.17 403.34,86.51 406.93,86.86 410.51,87.21 414.09,87.57 417.67,87.93 421.25,88.29 424.83,88.66 428.41,89.03 431.99,89.41 435.58,89.79 439.16,90.18 442.74,90.56 446.32,90.96 449.9,91.35 453.48,91.76 457.06,92.17 460.64,92.58 464.23,93.01 467.81,93.44 471.39,93.88 474.97,94.33 478.55,94.81 482.13,95.29 485.71,95.78 489.29,96.28 492.88,96.78 496.46,97.28 500.04,97.78 503.62,98.27 507.2,98.75 510.78,99.21 514.36,99.66 517.94,100.1 521.52,100.53 525.11,100.95 528.69,101.38 532.27,101.8 535.85,102.23 539.43,102.66 543.01,103.1 546.59,103.55 550.17,104.02 553.76,104.5 557.34,105.01 560.92,105.52 564.5,106.05 568.08,106.58 571.66,107.12 575.24,107.65 578.83,108.19 582.41,108.72 585.99,109.23 589.57,109.74 593.15,110.23 596.73,110.71 600.31,111.19 603.89,111.66 607.48,112.12 611.06,112.59 614.64,113.05 618.22,113.52 621.8,113.99 625.38,114.47 628.96,114.96 632.54,115.46 636.12,115.97 639.71,116.48 643.29,117 646.87,117.52 650.45,118.04 654.03,118.58 657.61,119.11 661.19,119.65 664.78,120.2" fill="none" stroke="#00bfbf" stroke-width="1.0" stroke-linejoin="round"/>
<polyline points="392.6,85.5 396.18,85.83 399.76,86.18 403.34,86.53 406.93,86.89 410.51,87.26 414.09,87.63 417.67,88.02 421.25,88.41 424.83,88.81 428.41,89.22 431.99,89.63 435.58,90.04 439.16,90.44 442.74,90.85 446.32,91.27 449.9,91.7 453.48,92.15 457.06,92.63 460.64,93.13 464.23,93.66 467.81,94.24 471.39,94.86 474.97,95.58 478.55,96.41 482.13,97.31 485.71,98.28 489.29,99.29 492.88,100.33 496.46,101.37 500.04,102.39 503.62,103.39 507.2,104.33 510.78,105.2 514.36,106.03 517.94,106.83 521.52,107.61 525.11,108.37 528.69,109.12 532.27,109.87 535.85,110.63 539.43,111.39 543.01,112.18 546.59,112.99 550.17,113.83 553.76,114.7 557.34,115.59 560.92,116.49 564.5,117.4 568.08,118.34 571.66,119.28 575.24,120.25 578.83,121.23 582.41,122.23 585.99,123.24 589.57,124.27 593.15,125.33 596.73,126.4 600.31,127.5 603.89,128.62 607.48,129.76 611.06,130.91 614.64,132.09 618.22,133.28 621.8,134.49 625.38,135.71 628.96,136.95 632.54,138.2 636.12,139.48 639.71,140.77 643.29,142.09 646.87,143.43 650.45,144.79 654.03,146.16 657.61,147.56 661.19,148.97 664.78,150.4" fill="none" stroke="#00bfbf" stroke-width="1.0" stroke-linejoin="round"/>
<line x1="392.6" y1="96.7" x2="679.1" y2="96.7" stroke="#000" stroke-width="2.1"/>
</g>
<rect x="392.6" y="12.9" width="286.5" height="142.5" fill="none" stroke="#a2a2a2" stroke-width="1.2"/>
<line x1="390.4" y1="13" x2="392.6" y2="13" stroke="#a2a2a2" stroke-width="1"/>
<text x="389.8" y="16.8" font-size="9.54" text-anchor="end" textLength="17.18" lengthAdjust="spacingAndGlyphs">150</text>
<line x1="390.4" y1="40.9" x2="392.6" y2="40.9" stroke="#a2a2a2" stroke-width="1"/>
<text x="389.8" y="44.7" font-size="9.54" text-anchor="end" textLength="17.18" lengthAdjust="spacingAndGlyphs">100</text>
<line x1="390.4" y1="68.8" x2="392.6" y2="68.8" stroke="#a2a2a2" stroke-width="1"/>
<text x="389.8" y="72.6" font-size="9.54" text-anchor="end" textLength="11.45" lengthAdjust="spacingAndGlyphs">50</text>
<line x1="390.4" y1="96.7" x2="392.6" y2="96.7" stroke="#a2a2a2" stroke-width="1"/>
<text x="389.8" y="100.5" font-size="9.54" text-anchor="end" textLength="5.73" lengthAdjust="spacingAndGlyphs">0</text>
<line x1="390.4" y1="124.6" x2="392.6" y2="124.6" stroke="#a2a2a2" stroke-width="1"/>
<text x="389.8" y="128.4" font-size="9.54" text-anchor="end" textLength="18.99" lengthAdjust="spacingAndGlyphs">−50</text>
<text x="535.85" y="10.3" font-size="13.3" text-anchor="middle" textLength="46.33" lengthAdjust="spacingAndGlyphs">Toronto</text>
<text x="367.6" y="84.95" font-size="9.09" text-anchor="middle" textLength="129.9" lengthAdjust="spacingAndGlyphs" transform="rotate(-90 367.6 84.95)">Cost Difference [1000 Dollars]</text>
<rect x="397.2" y="17.1" width="42.59" height="67.1" rx="2" ry="2" fill="#fff" fill-opacity="0.8" stroke="#d9d9d9" stroke-opacity="0.8" stroke-width="0.9"/>
<rect x="400" y="21.05" width="17.3" height="5.9" fill="#ff0000" fill-opacity="0.3"/>
<text x="424.4" y="27.2" font-size="9.28" text-anchor="start" textLength="11.26" lengthAdjust="spacingAndGlyphs">PV</text>
<rect x="400" y="34.05" width="17.3" height="5.9" fill="#008000" fill-opacity="0.3"/>
<text x="424.4" y="40.2" font-size="9.28" text-anchor="start" textLength="11.53" lengthAdjust="spacingAndGlyphs">BE</text>
<rect x="400" y="47.05" width="17.3" height="5.9" fill="#0000ff" fill-opacity="0.3"/>
<text x="424.4" y="53.2" font-size="9.28" text-anchor="start" textLength="11.86" lengthAdjust="spacingAndGlyphs">HP</text>
<rect x="400" y="60.05" width="17.3" height="5.9" fill="#ffff00" fill-opacity="0.3"/>
<text x="424.4" y="66.2" font-size="9.28" text-anchor="start" textLength="12.19" lengthAdjust="spacingAndGlyphs">CR</text>
<rect x="400" y="73.05" width="17.3" height="5.9" fill="#00ffff" fill-opacity="0.3"/>
<text x="424.4" y="79.2" font-size="9.28" text-anchor="start" textLength="10.85" lengthAdjust="spacingAndGlyphs">All</text>
</g>
<g>
<clipPath id="c01"><rect x="38.5" y="199.4" width="286.5" height="142.5"/></clipPath>
<g clip-path="url(#c01)">
<polygon points="38.5,217.6 42.08,217.72 45.66,217.84 49.24,217.95 52.83,218.07 56.41,218.2 59.99,218.32 63.57,218.44 67.15,218.56 70.73,218.69 74.31,218.81 77.89,218.94 81.47,219.06 85.06,219.19 88.64,219.31 92.22,219.44 95.8,219.57 99.38,219.7 102.96,219.83 106.54,219.96 110.12,220.09 113.71,220.22 117.29,220.35 120.87,220.49 124.45,220.64 128.03,220.79 131.61,220.94 135.19,221.09 138.77,221.23 142.36,221.36 145.94,221.48 149.52,221.58 153.1,221.67 156.68,221.74 160.26,221.81 163.84,221.87 167.42,221.92 171.01,221.98 174.59,222.03 178.17,222.08 181.75,222.13 185.33,222.19 188.91,222.25 192.49,222.32 196.07,222.4 199.66,222.49 203.24,222.59 206.82,222.7 210.4,222.82 213.98,222.94 217.56,223.07 221.14,223.2 224.72,223.34 228.31,223.48 231.89,223.62 235.47,223.76 239.05,223.9 242.63,224.03 246.21,224.17 249.79,224.29 253.38,224.42 256.96,224.54 260.54,224.67 264.12,224.79 267.7,224.92 271.28,225.04 274.86,225.17 278.44,225.29 282.02,225.41 285.61,225.54 289.19,225.66 292.77,225.78 296.35,225.91 299.93,226.03 303.51,226.15 307.09,226.28 310.68,226.4 310.68,240.6 307.09,240.1 303.51,239.59 299.93,239.08 296.35,238.56 292.77,238.03 289.19,237.5 285.61,236.96 282.02,236.42 278.44,235.87 274.86,235.32 271.28,234.74 267.7,234.15 264.12,233.54 260.54,232.94 256.96,232.35 253.38,231.79 249.79,231.28 246.21,230.8 242.63,230.35 239.05,229.93 235.47,229.54 231.89,229.18 228.31,228.83 224.72,228.5 221.14,228.18 217.56,227.87 213.98,227.57 210.4,227.27 206.82,226.98 203.24,226.69 199.66,226.4 196.07,226.11 192.49,225.81 188.91,225.51 185.33,225.2 181.75,224.89 178.17,224.58 174.59,224.28 171.01,223.98 167.42,223.7 163.84,223.43 160.26,223.18 156.68,222.95 153.1,222.74 149.52,222.57 145.94,222.41 142.36,222.27 138.77,222.15 135.19,222.03 131.61,221.92 128.03,221.81 124.45,221.7 120.87,221.58 117.29,221.45 113.71,221.31 110.12,221.16 106.54,221.01 102.96,220.86 99.38,220.7 95.8,220.55 92.22,220.39 88.64,220.22 85.06,220.06 81.47,219.89 77.89,219.71 74.31,219.54 70.73,219.36 67.15,219.18 63.57,218.99 59.99,218.8 56.41,218.61 52.83,218.41 49.24,218.22 45.66,218.01 42.08,217.81 38.5,217.6" fill="#ff0000" fill-opacity="0.3" stroke="none"/>
<polygon points="38.5,223.1 42.08,223.55 45.66,224 49.24,224.46 52.83,224.92 56.41,225.39 59.99,225.85 63.57,226.32 67.15,226.8 70.73,227.28 74.31,227.76 77.89,228.24 81.47,228.72 85.06,229.21 88.64,229.71 92.22,230.21 95.8,230.72 99.38,231.23 102.96,231.74 106.54,232.26 110.12,232.77 113.71,233.28 117.29,233.78 120.87,234.28 124.45,234.77 128.03,235.25 131.61,235.73 135.19,236.22 138.77,236.71 142.36,237.2 145.94,237.71 149.52,238.23 153.1,238.76 156.68,239.31 160.26,239.89 163.84,240.49 167.42,241.11 171.01,241.74 174.59,242.38 178.17,243.03 181.75,243.69 185.33,244.33 188.91,244.98 192.49,245.61 196.07,246.22 199.66,246.83 203.24,247.44 206.82,248.04 210.4,248.64 213.98,249.23 217.56,249.83 221.14,250.41 224.72,251 228.31,251.57 231.89,252.15 235.47,252.71 239.05,253.26 242.63,253.79 246.21,254.32 249.79,254.88 253.38,255.46 256.96,256.07 260.54,256.7 264.12,257.33 267.7,257.96 271.28,258.59 274.86,259.21 278.44,259.81 282.02,260.4 285.61,260.99 289.19,261.58 292.77,262.16 296.35,262.74 299.93,263.31 303.51,263.88 307.09,264.44 310.68,265 310.68,316.8 307.09,314.6 303.51,312.44 299.93,310.31 296.35,308.2 292.77,306.13 289.19,304.08 285.61,302.06 282.02,300.07 278.44,298.12 274.86,296.19 271.28,294.3 267.7,292.45 264.12,290.63 260.54,288.84 256.96,287.06 253.38,285.29 249.79,283.53 246.21,281.75 242.63,279.98 239.05,278.27 235.47,276.65 231.89,275.09 228.31,273.56 224.72,272.06 221.14,270.59 217.56,269.15 213.98,267.74 210.4,266.36 206.82,265.01 203.24,263.69 199.66,262.4 196.07,261.15 192.49,259.93 188.91,258.73 185.33,257.56 181.75,256.42 178.17,255.3 174.59,254.2 171.01,253.13 167.42,252.07 163.84,251.03 160.26,250.01 156.68,249 153.1,248.01 149.52,247.05 145.94,246.11 142.36,245.19 138.77,244.28 135.19,243.39 131.61,242.5 128.03,241.61 124.45,240.72 120.87,239.83 117.29,238.93 113.71,238.01 110.12,237.05 106.54,236.07 102.96,235.09 99.38,234.11 95.8,233.16 92.22,232.24 88.64,231.37 85.06,230.57 81.47,229.85 77.89,229.15 74.31,228.47 70.73,227.81 67.15,227.17 63.57,226.56 59.99,225.97 56.41,225.41 52.83,224.88 49.24,224.38 45.66,223.91 42.08,223.49 38.5,223.1" fill="#008000" fill-opacity="0.3" stroke="none"/>
<polygon points="38.5,219.4 42.08,219.32 45.66,219.24 49.24,219.15 52.83,219.07 56.41,219 59.99,218.92 63.57,218.85 67.15,218.78 70.73,218.71 74.31,218.65 77.89,218.59 81.47,218.54 85.06,218.5 88.64,218.46 92.22,218.43 95.8,218.4 99.38,218.38 102.96,218.36 106.54,218.34 110.12,218.32 113.71,218.3 117.29,218.28 120.87,218.26 124.45,218.24 128.03,218.23 131.61,218.21 135.19,218.2 138.77,218.18 142.36,218.17 145.94,218.16 149.52,218.15 153.1,218.14 156.68,218.13 160.26,218.12 163.84,218.12 167.42,218.11 171.01,218.11 174.59,218.1 178.17,218.1 181.75,218.1 185.33,218.1 188.91,218.1 192.49,218.1 196.07,218.1 199.66,218.1 203.24,218.1 206.82,218.11 210.4,218.11 213.98,218.11 217.56,218.11 221.14,218.12 224.72,218.12 228.31,218.13 231.89,218.13 235.47,218.14 239.05,218.14 242.63,218.15 246.21,218.16 249.79,218.16 253.38,218.17 256.96,218.18 260.54,218.19 264.12,218.2 267.7,218.21 271.28,218.22 274.86,218.23 278.44,218.25 282.02,218.26 285.61,218.28 289.19,218.29 292.77,218.31 296.35,218.32 299.93,218.34 303.51,218.36 307.09,218.38 310.68,218.4 310.68,227.3 307.09,227.06 303.51,226.82 299.93,226.57 296.35,226.32 292.77,226.07 289.19,225.81 285.61,225.55 282.02,225.29 278.44,225.02 274.86,224.75 271.28,224.48 267.7,224.2 264.12,223.92 260.54,223.64 256.96,223.36 253.38,223.08 249.79,222.79 246.21,222.48 242.63,222.15 239.05,221.81 235.47,221.46 231.89,221.12 228.31,220.79 224.72,220.49 221.14,220.22 217.56,220 213.98,219.8 210.4,219.61 206.82,219.41 203.24,219.23 199.66,219.06 196.07,218.91 192.49,218.78 188.91,218.68 185.33,218.62 181.75,218.6 178.17,218.6 174.59,218.6 171.01,218.6 167.42,218.6 163.84,218.6 160.26,218.6 156.68,218.6 153.1,218.6 149.52,218.6 145.94,218.6 142.36,218.6 138.77,218.6 135.19,218.6 131.61,218.6 128.03,218.6 124.45,218.6 120.87,218.6 117.29,218.6 113.71,218.6 110.12,218.6 106.54,218.6 102.96,218.6 99.38,218.6 95.8,218.6 92.22,218.6 88.64,218.62 85.06,218.64 81.47,218.67 77.89,218.71 74.31,218.75 70.73,218.8 67.15,218.86 63.57,218.92 59.99,218.98 56.41,219.05 52.83,219.12 49.24,219.19 45.66,219.26 42.08,219.33 38.5,219.4" fill="#0000ff" fill-opacity="0.3" stroke="none"/>
<polygon points="38.5,218.4 42.08,218.29 45.66,218.18 49.24,218.08 52.83,217.97 56.41,217.87 59.99,217.77 63.57,217.67 67.15,217.58 70.73,217.49 74.31,217.41 77.89,217.34 81.47,217.27 85.06,217.22 88.64,217.17 92.22,217.13 95.8,217.1 99.38,217.08 102.96,217.06 106.54,217.03 110.12,217.01 113.71,216.99 117.29,216.98 120.87,216.96 124.45,216.94 128.03,216.92 131.61,216.91 135.19,216.9 138.77,216.88 142.36,216.87 145.94,216.86 149.52,216.85 153.1,216.84 156.68,216.83 160.26,216.82 163.84,216.81 167.42,216.81 171.01,216.81 174.59,216.8 178.17,216.8 181.75,216.8 185.33,216.8 188.91,216.8 192.49,216.8 196.07,216.8 199.66,216.8 203.24,216.8 206.82,216.8 210.4,216.8 213.98,216.8 217.56,216.8 221.14,216.8 224.72,216.8 228.31,216.8 231.89,216.8 235.47,216.8 239.05,216.8 242.63,216.8 246.21,216.8 249.79,216.8 253.38,216.8 256.96,216.8 260.54,216.8 264.12,216.8 267.7,216.81 271.28,216.83 274.86,216.85 278.44,216.87 282.02,216.9 285.61,216.93 289.19,216.96 292.77,217 296.35,217.04 299.93,217.08 303.51,217.12 307.09,217.16 310.68,217.2 310.68,228.7 307.09,228.28 303.51,227.86 299.93,227.45 296.35,227.05 292.77,226.65 289.19,226.26 285.61,225.87 282.02,225.48 278.44,225.11 274.86,224.73 271.28,224.37 267.7,224.01 264.12,223.65 260.54,223.3 256.96,222.95 253.38,222.6 249.79,222.25 246.21,221.91 242.63,221.57 239.05,221.23 235.47,220.91 231.89,220.6 228.31,220.3 224.72,220.01 221.14,219.75 217.56,219.5 213.98,219.26 210.4,219.01 206.82,218.76 203.24,218.52 199.66,218.29 196.07,218.08 192.49,217.9 188.91,217.76 185.33,217.65 181.75,217.6 178.17,217.57 174.59,217.55 171.01,217.53 167.42,217.5 163.84,217.48 160.26,217.46 156.68,217.44 153.1,217.43 149.52,217.41 145.94,217.4 142.36,217.38 138.77,217.37 135.19,217.36 131.61,217.35 128.03,217.34 124.45,217.33 120.87,217.32 117.29,217.32 113.71,217.31 110.12,217.31 106.54,217.3 102.96,217.3 99.38,217.3 95.8,217.3 92.22,217.31 88.64,217.33 85.06,217.36 81.47,217.4 77.89,217.45 74.31,217.51 70.73,217.57 67.15,217.65 63.57,217.73 59.99,217.81 56.41,217.91 52.83,218 49.24,218.1 45.66,218.2 42.08,218.3 38.5,218.4" fill="#ffff00" fill-opacity="0.3" stroke="none"/>
<polygon points="38.5,209.4 42.08,210.25 45.66,211.08 49.24,211.9 52.83,212.7 56.41,213.49 59.99,214.26 63.57,215.02 67.15,215.76 70.73,216.48 74.31,217.19 77.89,217.88 81.47,218.56 85.06,219.21 88.64,219.83 92.22,220.42 95.8,220.98 99.38,221.54 102.96,222.1 106.54,222.67 110.12,223.26 113.71,223.88 117.29,224.54 120.87,225.26 124.45,226.01 128.03,226.8 131.61,227.61 135.19,228.43 138.77,229.26 142.36,230.08 145.94,230.89 149.52,231.68 153.1,232.43 156.68,233.14 160.26,233.81 163.84,234.46 167.42,235.08 171.01,235.69 174.59,236.29 178.17,236.89 181.75,237.49 185.33,238.1 188.91,238.72 192.49,239.36 196.07,240.03 199.66,240.72 203.24,241.44 206.82,242.17 210.4,242.92 213.98,243.67 217.56,244.44 221.14,245.2 224.72,245.96 228.31,246.72 231.89,247.46 235.47,248.19 239.05,248.89 242.63,249.58 246.21,250.27 249.79,250.97 253.38,251.7 256.96,252.45 260.54,253.2 264.12,253.96 267.7,254.73 271.28,255.5 274.86,256.26 278.44,257.01 282.02,257.77 285.61,258.52 289.19,259.28 292.77,260.03 296.35,260.79 299.93,261.54 303.51,262.29 307.09,263.05 310.68,263.8 310.68,335.9 307.09,332.93 303.51,330 299.93,327.09 296.35,324.21 292.77,321.37 289.19,318.54 285.61,315.75 282.02,312.99 278.44,310.25 274.86,307.53 271.28,304.81 267.7,302.09 264.12,299.4 260.54,296.77 256.96,294.21 253.38,291.75 249.79,289.41 246.21,287.21 242.63,285.13 239.05,283.14 235.47,281.19 231.89,279.28 228.31,277.4 224.72,275.55 221.14,273.74 217.56,271.94 213.98,270.17 210.4,268.42 206.82,266.69 203.24,264.97 199.66,263.27 196.07,261.57 192.49,259.87 188.91,258.17 185.33,256.47 181.75,254.77 178.17,253.1 174.59,251.45 171.01,249.83 167.42,248.24 163.84,246.7 160.26,245.21 156.68,243.78 153.1,242.4 149.52,241.07 145.94,239.78 142.36,238.52 138.77,237.29 135.19,236.08 131.61,234.9 128.03,233.74 124.45,232.59 120.87,231.45 117.29,230.31 113.71,229.17 110.12,228.05 106.54,226.93 102.96,225.83 99.38,224.74 95.8,223.67 92.22,222.63 88.64,221.61 85.06,220.62 81.47,219.66 77.89,218.71 74.31,217.78 70.73,216.86 67.15,215.96 63.57,215.08 59.99,214.21 56.41,213.36 52.83,212.53 49.24,211.71 45.66,210.92 42.08,210.15 38.5,209.4" fill="#00ffff" fill-opacity="0.3" stroke="none"/>
<polyline points="38.5,217.6 42.08,217.72 45.66,217.84 49.24,217.95 52.83,218.07 56.41,218.2 59.99,218.32 63.57,218.44 67.15,218.56 70.73,218.69 74.31,218.81 77.89,218.94 81.47,219.06 85.06,219.19 88.64,219.31 92.22,219.44 95.8,219.57 99.38,219.7 102.96,219.83 106.54,219.96 110.12,220.09 113.71,220.22 117.29,220.35 120.87,220.49 124.45,220.64 128.03,220.79 131.61,220.94 135.19,221.09 138.77,221.23 142.36,221.36 145.94,221.48 149.52,221.58 153.1,221.67 156.68,221.74 160.26,221.81 163.84,221.87 167.42,221.92 171.01,221.98 174.59,222.03 178.17,222.08 181.75,222.13 185.33,222.19 188.91,222.25 192.49,222.32 196.07,222.4 199.66,222.49 203.24,222.59 206.82,222.7 210.4,222.82 213.98,222.94 217.56,223.07 221.14,223.2 224.72,223.34 228.31,223.48 231.89,223.62 235.47,223.76 239.05,223.9 242.63,224.03 246.21,224.17 249.79,224.29 253.38,224.42 256.96,224.54 260.54,224.67 264.12,224.79 267.7,224.92 271.28,225.04 274.86,225.17 278.44,225.29 282.02,225.41 285.61,225.54 289.19,225.66 292.77,225.78 296.35,225.91 299.93,226.03 303.51,226.15 307.09,226.28 310.68,226.4" fill="none" stroke="#ff0000" stroke-width="1.0" stroke-linejoin="round"/>
<polyline points="38.5,217.6 42.08,217.81 45.66,218.01 49.24,218.22 52.83,218.41 56.41,218.61 59.99,218.8 63.57,218.99 67.15,219.18 70.73,219.36 74.31,219.54 77.89,219.71 81.47,219.89 85.06,220.06 88.64,220.22 92.22,220.39 95.8,220.55 99.38,220.7 102.96,220.86 106.54,221.01 110.12,221.16 113.71,221.31 117.29,221.45 120.87,221.58 124.45,221.7 128.03,221.81 131.61,221.92 135.19,222.03 138.77,222.15 142.36,222.27 145.94,222.41 149.52,222.57 153.1,222.74 156.68,222.95 160.26,223.18 163.84,223.43 167.42,223.7 171.01,223.98 174.59,224.28 178.17,224.58 181.75,224.89 185.33,225.2 188.91,225.51 192.49,225.81 196.07,226.11 199.66,226.4 203.24,226.69 206.82,226.98 210.4,227.27 213.98,227.57 217.56,227.87 221.14,228.18 224.72,228.5 228.31,228.83 231.89,229.18 235.47,229.54 239.05,229.93 242.63,230.35 246.21,230.8 249.79,231.28 253.38,231.79 256.96,232.35 260.54,232.94 264.12,233.54 267.7,234.15 271.28,234.74 274.86,235.32 278.44,235.87 282.02,236.42 285.61,236.96 289.19,237.5 292.77,238.03 296.35,238.56 299.93,239.08 303.51,239.59 307.09,240.1 310.68,240.6" fill="none" stroke="#ff0000" stroke-width="1.0" stroke-linejoin="round"/>
<polyline points="38.5,223.1 42.08,223.55 45.66,224 49.24,224.46 52.83,224.92 56.41,225.39 59.99,225.85 63.57,226.32 67.15,226.8 70.73,227.28 74.31,227.76 77.89,228.24 81.47,228.72 85.06,229.21 88.64,229.71 92.22,230.21 95.8,230.72 99.38,231.23 102.96,231.74 106.54,232.26 110.12,232.77 113.71,233.28 117.29,233.78 120.87,234.28 124.45,234.77 128.03,235.25 131.61,235.73 135.19,236.22 138.77,236.71 142.36,237.2 145.94,237.71 149.52,238.23 153.1,238.76 156.68,239.31 160.26,239.89 163.84,240.49 167.42,241.11 171.01,241.74 174.59,242.38 178.17,243.03 181.75,243.69 185.33,244.33 188.91,244.98 192.49,245.61 196.07,246.22 199.66,246.83 203.24,247.44 206.82,248.04 210.4,248.64 213.98,249.23 217.56,249.83 221.14,250.41 224.72,251 228.31,251.57 231.89,252.15 235.47,252.71 239.05,253.26 242.63,253.79 246.21,254.32 249.79,254.88 253.38,255.46 256.96,256.07 260.54,256.7 264.12,257.33 267.7,257.96 271.28,258.59 274.86,259.21 278.44,259.81 282.02,260.4 285.61,260.99 289.19,261.58 292.77,262.16 296.35,262.74 299.93,263.31 303.51,263.88 307.09,264.44 310.68,265" fill="none" stroke="#008000" stroke-width="1.0" stroke-linejoin="round"/>
<polyline points="38.5,223.1 42.08,223.49 45.66,223.91 49.24,224.38 52.83,224.88 56.41,225.41 59.99,225.97 63.57,226.56 67.15,227.17 70.73,227.81 74.31,228.47 77.89,229.15 81.47,229.85 85.06,230.57 88.64,231.37 92.22,232.24 95.8,233.16 99.38,234.11 102.96,235.09 106.54,236.07 110.12,237.05 113.71,238.01 117.29,238.93 120.87,239.83 124.45,240.72 128.03,241.61 131.61,242.5 135.19,243.39 138.77,244.28 142.36,245.19 145.94,246.11 149.52,247.05 153.1,248.01 156.68,249 160.26,250.01 163.84,251.03 167.42,252.07 171.01,253.13 174.59,254.2 178.17,255.3 181.75,256.42 185.33,257.56 188.91,258.73 192.49,259.93 196.07,261.15 199.66,262.4 203.24,263.69 206.82,265.01 210.4,266.36 213.98,267.74 217.56,269.15 221.14,270.59 224.72,272.06 228.31,273.56 231.89,275.09 235.47,276.65 239.05,278.27 242.63,279.98 246.21,281.75 249.79,283.53 253.38,285.29 256.96,287.06 260.54,288.84 264.12,290.63 267.7,292.45 271.28,294.3 274.86,296.19 278.44,298.12 282.02,300.07 285.61,302.06 289.19,304.08 292.77,306.13 296.35,308.2 299.93,310.31 303.51,312.44 307.09,314.6 310.68,316.8" fill="none" stroke="#008000" stroke-width="1.0" stroke-linejoin="round"/>
<polyline points="38.5,219.4 42.08,219.32 45.66,219.24 49.24,219.15 52.83,219.07 56.41,219 59.99,218.92 63.57,218.85 67.15,218.78 70.73,218.71 74.31,218.65 77.89,218.59 81.47,218.54 85.06,218.5 88.64,218.46 92.22,218.43 95.8,218.4 99.38,218.38 102.96,218.36 106.54,218.34 110.12,218.32 113.71,218.3 117.29,218.28 120.87,218.26 124.45,218.24 128.03,218.23 131.61,218.21 135.19,218.2 138.77,218.18 142.36,218.17 145.94,218.16 149.52,218.15 153.1,218.14 156.68,218.13 160.26,218.12 163.84,218.12 167.42,218.11 171.01,218.11 174.59,218.1 178.17,218.1 181.75,218.1 185.33,218.1 188.91,218.1 192.49,218.1 196.07,218.1 199.66,218.1 203.24,218.1 206.82,218.11 210.4,218.11 213.98,218.11 217.56,218.11 221.14,218.12 224.72,218.12 228.31,218.13 231.89,218.13 235.47,218.14 239.05,218.14 242.63,218.15 246.21,218.16 249.79,218.16 253.38,218.17 256.96,218.18 260.54,218.19 264.12,218.2 267.7,218.21 271.28,218.22 274.86,218.23 278.44,218.25 282.02,218.26 285.61,218.28 289.19,218.29 292.77,218.31 296.35,218.32 299.93,218.34 303.51,218.36 307.09,218.38 310.68,218.4" fill="none" stroke="#0000ff" stroke-width="1.0" stroke-linejoin="round"/>
<polyline points="38.5,219.4 42.08,219.33 45.66,219.26 49.24,219.19 52.83,219.12 56.41,219.05 59.99,218.98 63.57,218.92 67.15,218.86 70.73,218.8 74.31,218.75 77.89,218.71 81.47,218.67 85.06,218.64 88.64,218.62 92.22,218.6 95.8,218.6 99.38,218.6 102.96,218.6 106.54,218.6 110.12,218.6 113.71,218.6 117.29,218.6 120.87,218.6 124.45,218.6 128.03,218.6 131.61,218.6 135.19,218.6 138.77,218.6 142.36,218.6 145.94,218.6 149.52,218.6 153.1,218.6 156.68,218.6 160.26,218.6 163.84,218.6 167.42,218.6 171.01,218.6 174.59,218.6 178.17,218.6 181.75,218.6 185.33,218.62 188.91,218.68 192.49,218.78 196.07,218.91 199.66,219.06 203.24,219.23 206.82,219.41 210.4,219.61 213.98,219.8 217.56,220 221.14,220.22 224.72,220.49 228.31,220.79 231.89,221.12 235.47,221.46 239.05,221.81 242.63,222.15 246.21,222.48 249.79,222.79 253.38,223.08 256.96,223.36 260.54,223.64 264.12,223.92 267.7,224.2 271.28,224.48 274.86,224.75 278.44,225.02 282.02,225.29 285.61,225.55 289.19,225.81 292.77,226.07 296.35,226.32 299.93,226.57 303.51,226.82 307.09,227.06 310.68,227.3" fill="none" stroke="#0000ff" stroke-width="1.0" stroke-linejoin="round"/>
<polyline points="38.5,218.4 42.08,218.29 45.66,218.18 49.24,218.08 52.83,217.97 56.41,217.87 59.99,217.77 63.57,217.67 67.15,217.58 70.73,217.49 74.31,217.41 77.89,217.34 81.47,217.27 85.06,217.22 88.64,217.17 92.22,217.13 95.8,217.1 99.38,217.08 102.96,217.06 106.54,217.03 110.12,217.01 113.71,216.99 117.29,216.98 120.87,216.96 124.45,216.94 128.03,216.92 131.61,216.91 135.19,216.9 138.77,216.88 142.36,216.87 145.94,216.86 149.52,216.85 153.1,216.84 156.68,216.83 160.26,216.82 163.84,216.81 167.42,216.81 171.01,216.81 174.59,216.8 178.17,216.8 181.75,216.8 185.33,216.8 188.91,216.8 192.49,216.8 196.07,216.8 199.66,216.8 203.24,216.8 206.82,216.8 210.4,216.8 213.98,216.8 217.56,216.8 221.14,216.8 224.72,216.8 228.31,216.8 231.89,216.8 235.47,216.8 239.05,216.8 242.63,216.8 246.21,216.8 249.79,216.8 253.38,216.8 256.96,216.8 260.54,216.8 264.12,216.8 267.7,216.81 271.28,216.83 274.86,216.85 278.44,216.87 282.02,216.9 285.61,216.93 289.19,216.96 292.77,217 296.35,217.04 299.93,217.08 303.51,217.12 307.09,217.16 310.68,217.2" fill="none" stroke="#bfbf00" stroke-width="1.0" stroke-linejoin="round"/>
<polyline points="38.5,218.4 42.08,218.3 45.66,218.2 49.24,218.1 52.83,218 56.41,217.91 59.99,217.81 63.57,217.73 67.15,217.65 70.73,217.57 74.31,217.51 77.89,217.45 81.47,217.4 85.06,217.36 88.64,217.33 92.22,217.31 95.8,217.3 99.38,217.3 102.96,217.3 106.54,217.3 110.12,217.31 113.71,217.31 117.29,217.32 120.87,217.32 124.45,217.33 128.03,217.34 131.61,217.35 135.19,217.36 138.77,217.37 142.36,217.38 145.94,217.4 149.52,217.41 153.1,217.43 156.68,217.44 160.26,217.46 163.84,217.48 167.42,217.5 171.01,217.53 174.59,217.55 178.17,217.57 181.75,217.6 185.33,217.65 188.91,217.76 192.49,217.9 196.07,218.08 199.66,218.29 203.24,218.52 206.82,218.76 210.4,219.01 213.98,219.26 217.56,219.5 221.14,219.75 224.72,220.01 228.31,220.3 231.89,220.6 235.47,220.91 239.05,221.23 242.63,221.57 246.21,221.91 249.79,222.25 253.38,222.6 256.96,222.95 260.54,223.3 264.12,223.65 267.7,224.01 271.28,224.37 274.86,224.73 278.44,225.11 282.02,225.48 285.61,225.87 289.19,226.26 292.77,226.65 296.35,227.05 299.93,227.45 303.51,227.86 307.09,228.28 310.68,228.7" fill="none" stroke="#bfbf00" stroke-width="1.0" stroke-linejoin="round"/>
<polyline points="38.5,209.4 42.08,210.25 45.66,211.08 49.24,211.9 52.83,212.7 56.41,213.49 59.99,214.26 63.57,215.02 67.15,215.76 70.73,216.48 74.31,217.19 77.89,217.88 81.47,218.56 85.06,219.21 88.64,219.83 92.22,220.42 95.8,220.98 99.38,221.54 102.96,222.1 106.54,222.67 110.12,223.26 113.71,223.88 117.29,224.54 120.87,225.26 124.45,226.01 128.03,226.8 131.61,227.61 135.19,228.43 138.77,229.26 142.36,230.08 145.94,230.89 149.52,231.68 153.1,232.43 156.68,233.14 160.26,233.81 163.84,234.46 167.42,235.08 171.01,235.69 174.59,236.29 178.17,236.89 181.75,237.49 185.33,238.1 188.91,238.72 192.49,239.36 196.07,240.03 199.66,240.72 203.24,241.44 206.82,242.17 210.4,242.92 213.98,243.67 217.56,244.44 221.14,245.2 224.72,245.96 228.31,246.72 231.89,247.46 235.47,248.19 239.05,248.89 242.63,249.58 246.21,250.27 249.79,250.97 253.38,251.7 256.96,252.45 260.54,253.2 264.12,253.96 267.7,254.73 271.28,255.5 274.86,256.26 278.44,257.01 282.02,257.77 285.61,258.52 289.19,259.28 292.77,260.03 296.35,260.79 299.93,261.54 303.51,262.29 307.09,263.05 310.68,263.8" fill="none" stroke="#00bfbf" stroke-width="1.0" stroke-linejoin="round"/>
<polyline points="38.5,209.4 42.08,210.15 45.66,210.92 49.24,211.71 52.83,212.53 56.41,213.36 59.99,214.21 63.57,215.08 67.15,215.96 70.73,216.86 74.31,217.78 77.89,218.71 81.47,219.66 85.06,220.62 88.64,221.61 92.22,222.63 95.8,223.67 99.38,224.74 102.96,225.83 106.54,226.93 110.12,228.05 113.71,229.17 117.29,230.31 120.87,231.45 124.45,232.59 128.03,233.74 131.61,234.9 135.19,236.08 138.77,237.29 142.36,238.52 145.94,239.78 149.52,241.07 153.1,242.4 156.68,243.78 160.26,245.21 163.84,246.7 167.42,248.24 171.01,249.83 174.59,251.45 178.17,253.1 181.75,254.77 185.33,256.47 188.91,258.17 192.49,259.87 196.07,261.57 199.66,263.27 203.24,264.97 206.82,266.69 210.4,268.42 213.98,270.17 217.56,271.94 221.14,273.74 224.72,275.55 228.31,277.4 231.89,279.28 235.47,281.19 239.05,283.14 242.63,285.13 246.21,287.21 249.79,289.41 253.38,291.75 256.96,294.21 260.54,296.77 264.12,299.4 267.7,302.09 271.28,304.81 274.86,307.53 278.44,310.25 282.02,312.99 285.61,315.75 289.19,318.54 292.77,321.37 296.35,324.21 299.93,327.09 303.51,330 307.09,332.93 310.68,335.9" fill="none" stroke="#00bfbf" stroke-width="1.0" stroke-linejoin="round"/>
<line x1="38.5" y1="219.4" x2="325" y2="219.4" stroke="#000" stroke-width="2.1"/>
</g>
<rect x="38.5" y="199.4" width="286.5" height="142.5" fill="none" stroke="#a2a2a2" stroke-width="1.2"/>
<line x1="36.3" y1="199.34" x2="38.5" y2="199.34" stroke="#a2a2a2" stroke-width="1"/>
<text x="35.7" y="203.14" font-size="9.54" text-anchor="end" textLength="11.45" lengthAdjust="spacingAndGlyphs">50</text>
<line x1="36.3" y1="219.4" x2="38.5" y2="219.4" stroke="#a2a2a2" stroke-width="1"/>
<text x="35.7" y="223.2" font-size="9.54" text-anchor="end" textLength="5.73" lengthAdjust="spacingAndGlyphs">0</text>
<line x1="36.3" y1="279.6" x2="38.5" y2="279.6" stroke="#a2a2a2" stroke-width="1"/>
<text x="35.7" y="283.4" font-size="9.54" text-anchor="end" textLength="24.72" lengthAdjust="spacingAndGlyphs">−150</text>
<line x1="36.3" y1="339.79" x2="38.5" y2="339.79" stroke="#a2a2a2" stroke-width="1"/>
<text x="35.7" y="343.59" font-size="9.54" text-anchor="end" textLength="24.72" lengthAdjust="spacingAndGlyphs">−300</text>
<text x="181.75" y="196.8" font-size="13.3" text-anchor="middle" textLength="43.64" lengthAdjust="spacingAndGlyphs">Halifax</text>
<text x="7.8" y="271.45" font-size="9.09" text-anchor="middle" textLength="129.9" lengthAdjust="spacingAndGlyphs" transform="rotate(-90 7.8 271.45)">Cost Difference [1000 Dollars]</text>
<rect x="43.1" y="270.2" width="42.26" height="67.5" rx="2" ry="2" fill="#fff" fill-opacity="0.8" stroke="#d9d9d9" stroke-opacity="0.8" stroke-width="0.9"/>
<rect x="45.9" y="274.35" width="17.3" height="5.9" fill="#ff0000" fill-opacity="0.3"/>
<text x="70.3" y="280.5" font-size="9.28" text-anchor="start" textLength="11.26" lengthAdjust="spacingAndGlyphs">PV</text>
<rect x="45.9" y="287.35" width="17.3" height="5.9" fill="#008000" fill-opacity="0.3"/>
<text x="70.3" y="293.5" font-size="9.28" text-anchor="start" textLength="11.53" lengthAdjust="spacingAndGlyphs">BE</text>
<rect x="45.9" y="300.35" width="17.3" height="5.9" fill="#0000ff" fill-opacity="0.3"/>
<text x="70.3" y="306.5" font-size="9.28" text-anchor="start" textLength="11.86" lengthAdjust="spacingAndGlyphs">HP</text>
<rect x="45.9" y="313.35" width="17.3" height="5.9" fill="#ffff00" fill-opacity="0.3"/>
<text x="70.3" y="319.5" font-size="9.28" text-anchor="start" textLength="10.9" lengthAdjust="spacingAndGlyphs">ST</text>
<rect x="45.9" y="326.35" width="17.3" height="5.9" fill="#00ffff" fill-opacity="0.3"/>
<text x="70.3" y="332.5" font-size="9.28" text-anchor="start" textLength="10.85" lengthAdjust="spacingAndGlyphs">All</text>
</g>
<g>
<clipPath id="c11"><rect x="392.6" y="199.4" width="286.5" height="142.5"/></clipPath>
<g clip-path="url(#c11)">
<polygon points="392.6,218.2 396.18,218.17 399.76,218.14 403.34,218.11 406.93,218.08 410.51,218.05 414.09,218.03 417.67,218 421.25,217.97 424.83,217.94 428.41,217.91 431.99,217.88 435.58,217.86 439.16,217.84 442.74,217.81 446.32,217.79 449.9,217.77 453.48,217.74 457.06,217.72 460.64,217.69 464.23,217.66 467.81,217.62 471.39,217.58 474.97,217.53 478.55,217.46 482.13,217.38 485.71,217.29 489.29,217.2 492.88,217.11 496.46,217.03 500.04,216.95 503.62,216.88 507.2,216.83 510.78,216.79 514.36,216.77 517.94,216.74 521.52,216.71 525.11,216.69 528.69,216.67 532.27,216.65 535.85,216.63 539.43,216.62 543.01,216.61 546.59,216.6 550.17,216.6 553.76,216.61 557.34,216.64 560.92,216.67 564.5,216.72 568.08,216.78 571.66,216.85 575.24,216.92 578.83,216.99 582.41,217.06 585.99,217.13 589.57,217.19 593.15,217.25 596.73,217.32 600.31,217.4 603.89,217.48 607.48,217.55 611.06,217.63 614.64,217.7 618.22,217.77 621.8,217.82 625.38,217.86 628.96,217.89 632.54,217.91 636.12,217.93 639.71,217.94 643.29,217.96 646.87,217.97 650.45,217.98 654.03,217.99 657.61,217.99 661.19,218 664.78,218 664.78,224.3 661.19,223.99 657.61,223.68 654.03,223.38 650.45,223.1 646.87,222.82 643.29,222.56 639.71,222.31 636.12,222.07 632.54,221.85 628.96,221.64 625.38,221.45 621.8,221.27 618.22,221.09 614.64,220.93 611.06,220.77 607.48,220.62 603.89,220.47 600.31,220.32 596.73,220.17 593.15,220.03 589.57,219.88 585.99,219.73 582.41,219.58 578.83,219.43 575.24,219.28 571.66,219.13 568.08,218.99 564.5,218.85 560.92,218.72 557.34,218.6 553.76,218.5 550.17,218.4 546.59,218.32 543.01,218.23 539.43,218.14 535.85,218.06 532.27,217.98 528.69,217.9 525.11,217.84 521.52,217.78 517.94,217.74 514.36,217.71 510.78,217.7 507.2,217.7 503.62,217.7 500.04,217.7 496.46,217.7 492.88,217.7 489.29,217.7 485.71,217.7 482.13,217.7 478.55,217.7 474.97,217.7 471.39,217.7 467.81,217.7 464.23,217.7 460.64,217.71 457.06,217.72 453.48,217.73 449.9,217.74 446.32,217.76 442.74,217.78 439.16,217.8 435.58,217.82 431.99,217.84 428.41,217.87 424.83,217.89 421.25,217.92 417.67,217.95 414.09,217.99 410.51,218.02 406.93,218.05 403.34,218.09 399.76,218.12 396.18,218.16 392.6,218.2" fill="#ff0000" fill-opacity="0.3" stroke="none"/>
<polygon points="392.6,228.1 396.18,228.77 399.76,229.44 403.34,230.09 406.93,230.73 410.51,231.35 414.09,231.96 417.67,232.56 421.25,233.14 424.83,233.71 428.41,234.26 431.99,234.8 435.58,235.31 439.16,235.8 442.74,236.27 446.32,236.74 449.9,237.2 453.48,237.65 457.06,238.1 460.64,238.56 464.23,239.03 467.81,239.51 471.39,240 474.97,240.5 478.55,241 482.13,241.5 485.71,242.01 489.29,242.52 492.88,243.04 496.46,243.56 500.04,244.09 503.62,244.63 507.2,245.18 510.78,245.73 514.36,246.31 517.94,246.9 521.52,247.5 525.11,248.12 528.69,248.74 532.27,249.36 535.85,249.99 539.43,250.61 543.01,251.23 546.59,251.83 550.17,252.42 553.76,253 557.34,253.57 560.92,254.12 564.5,254.68 568.08,255.22 571.66,255.77 575.24,256.33 578.83,256.88 582.41,257.45 585.99,258.03 589.57,258.63 593.15,259.24 596.73,259.87 600.31,260.52 603.89,261.17 607.48,261.83 611.06,262.5 614.64,263.17 618.22,263.84 621.8,264.51 625.38,265.17 628.96,265.82 632.54,266.46 636.12,267.1 639.71,267.73 643.29,268.36 646.87,268.99 650.45,269.62 654.03,270.24 657.61,270.86 661.19,271.48 664.78,272.1 664.78,318.7 661.19,316.61 657.61,314.55 654.03,312.53 650.45,310.54 646.87,308.58 643.29,306.66 639.71,304.79 636.12,302.95 632.54,301.16 628.96,299.42 625.38,297.72 621.8,296.06 618.22,294.44 614.64,292.86 611.06,291.3 607.48,289.76 603.89,288.24 600.31,286.74 596.73,285.23 593.15,283.73 589.57,282.22 585.99,280.7 582.41,279.19 578.83,277.67 575.24,276.16 571.66,274.67 568.08,273.18 564.5,271.72 560.92,270.28 557.34,268.87 553.76,267.49 550.17,266.15 546.59,264.83 543.01,263.51 539.43,262.2 535.85,260.9 532.27,259.63 528.69,258.38 525.11,257.17 521.52,256.01 517.94,254.89 514.36,253.83 510.78,252.83 507.2,251.9 503.62,251.02 500.04,250.19 496.46,249.4 492.88,248.63 489.29,247.89 485.71,247.16 482.13,246.44 478.55,245.71 474.97,244.97 471.39,244.21 467.81,243.43 464.23,242.63 460.64,241.83 457.06,241.02 453.48,240.21 449.9,239.4 446.32,238.6 442.74,237.8 439.16,237.02 435.58,236.26 431.99,235.51 428.41,234.78 424.83,234.07 421.25,233.36 417.67,232.67 414.09,231.98 410.51,231.31 406.93,230.64 403.34,229.99 399.76,229.35 396.18,228.72 392.6,228.1" fill="#008000" fill-opacity="0.3" stroke="none"/>
<polygon points="392.6,227.5 396.18,227.61 399.76,227.73 403.34,227.84 406.93,227.96 410.51,228.07 414.09,228.19 417.67,228.3 421.25,228.42 424.83,228.53 428.41,228.65 431.99,228.76 435.58,228.88 439.16,228.99 442.74,229.1 446.32,229.22 449.9,229.33 453.48,229.44 457.06,229.56 460.64,229.68 464.23,229.8 467.81,229.92 471.39,230.05 474.97,230.18 478.55,230.32 482.13,230.46 485.71,230.61 489.29,230.75 492.88,230.9 496.46,231.05 500.04,231.2 503.62,231.34 507.2,231.49 510.78,231.63 514.36,231.77 517.94,231.91 521.52,232.05 525.11,232.18 528.69,232.32 532.27,232.45 535.85,232.59 539.43,232.74 543.01,232.89 546.59,233.04 550.17,233.21 553.76,233.38 557.34,233.57 560.92,233.77 564.5,233.97 568.08,234.18 571.66,234.4 575.24,234.62 578.83,234.83 582.41,235.05 585.99,235.27 589.57,235.48 593.15,235.68 596.73,235.89 600.31,236.09 603.89,236.3 607.48,236.5 611.06,236.7 614.64,236.91 618.22,237.12 621.8,237.32 625.38,237.53 628.96,237.74 632.54,237.95 636.12,238.16 639.71,238.38 643.29,238.59 646.87,238.81 650.45,239.02 654.03,239.24 657.61,239.46 661.19,239.68 664.78,239.9 664.78,253.3 661.19,252.67 657.61,252.06 654.03,251.45 650.45,250.85 646.87,250.25 643.29,249.67 639.71,249.1 636.12,248.54 632.54,247.99 628.96,247.45 625.38,246.92 621.8,246.4 618.22,245.9 614.64,245.4 611.06,244.9 607.48,244.42 603.89,243.93 600.31,243.46 596.73,242.98 593.15,242.51 589.57,242.04 585.99,241.58 582.41,241.11 578.83,240.65 575.24,240.19 571.66,239.73 568.08,239.28 564.5,238.83 560.92,238.39 557.34,237.96 553.76,237.53 550.17,237.12 546.59,236.7 543.01,236.26 539.43,235.83 535.85,235.39 532.27,234.96 528.69,234.54 525.11,234.14 521.52,233.77 517.94,233.42 514.36,233.12 510.78,232.86 507.2,232.63 503.62,232.44 500.04,232.26 496.46,232.1 492.88,231.95 489.29,231.81 485.71,231.67 482.13,231.53 478.55,231.39 474.97,231.24 471.39,231.07 467.81,230.89 464.23,230.69 460.64,230.48 457.06,230.25 453.48,230.03 449.9,229.8 446.32,229.57 442.74,229.36 439.16,229.15 435.58,228.96 431.99,228.79 428.41,228.64 424.83,228.49 421.25,228.35 417.67,228.22 414.09,228.09 410.51,227.97 406.93,227.86 403.34,227.76 399.76,227.66 396.18,227.58 392.6,227.5" fill="#0000ff" fill-opacity="0.3" stroke="none"/>
<polygon points="392.6,218.2 396.18,218.87 399.76,219.53 403.34,220.2 406.93,220.87 410.51,221.54 414.09,222.21 417.67,222.88 421.25,223.55 424.83,224.23 428.41,224.9 431.99,225.58 435.58,226.25 439.16,226.91 442.74,227.58 446.32,228.25 449.9,228.92 453.48,229.59 457.06,230.27 460.64,230.96 464.23,231.66 467.81,232.37 471.39,233.09 474.97,233.84 478.55,234.61 482.13,235.4 485.71,236.19 489.29,236.99 492.88,237.8 496.46,238.6 500.04,239.39 503.62,240.17 507.2,240.93 510.78,241.68 514.36,242.4 517.94,243.11 521.52,243.81 525.11,244.51 528.69,245.19 532.27,245.88 535.85,246.56 539.43,247.25 543.01,247.93 546.59,248.63 550.17,249.33 553.76,250.04 557.34,250.75 560.92,251.47 564.5,252.19 568.08,252.91 571.66,253.64 575.24,254.36 578.83,255.08 582.41,255.8 585.99,256.51 589.57,257.22 593.15,257.92 596.73,258.62 600.31,259.31 603.89,260 607.48,260.69 611.06,261.38 614.64,262.07 618.22,262.76 621.8,263.44 625.38,264.12 628.96,264.81 632.54,265.49 636.12,266.18 639.71,266.86 643.29,267.54 646.87,268.22 650.45,268.9 654.03,269.57 657.61,270.25 661.19,270.93 664.78,271.6 664.78,336 661.19,333.07 657.61,330.19 654.03,327.38 650.45,324.63 646.87,321.96 643.29,319.35 639.71,316.83 636.12,314.39 632.54,312.04 628.96,309.78 625.38,307.62 621.8,305.55 618.22,303.56 614.64,301.62 611.06,299.74 607.48,297.88 603.89,296.04 600.31,294.21 596.73,292.36 593.15,290.48 589.57,288.57 585.99,286.6 582.41,284.61 578.83,282.59 575.24,280.56 571.66,278.54 568.08,276.54 564.5,274.57 560.92,272.64 557.34,270.78 553.76,268.98 550.17,267.27 546.59,265.63 543.01,264.03 539.43,262.48 535.85,260.96 532.27,259.48 528.69,258.03 525.11,256.62 521.52,255.23 517.94,253.87 514.36,252.53 510.78,251.21 507.2,249.92 503.62,248.65 500.04,247.41 496.46,246.2 492.88,245.01 489.29,243.83 485.71,242.68 482.13,241.53 478.55,240.4 474.97,239.27 471.39,238.15 467.81,237.02 464.23,235.89 460.64,234.75 457.06,233.61 453.48,232.48 449.9,231.37 446.32,230.28 442.74,229.22 439.16,228.2 435.58,227.22 431.99,226.29 428.41,225.42 424.83,224.58 421.25,223.76 417.67,222.96 414.09,222.19 410.51,221.45 406.93,220.73 403.34,220.05 399.76,219.4 396.18,218.78 392.6,218.2" fill="#00ffff" fill-opacity="0.3" stroke="none"/>
<polyline points="392.6,218.2 396.18,218.17 399.76,218.14 403.34,218.11 406.93,218.08 410.51,218.05 414.09,218.03 417.67,218 421.25,217.97 424.83,217.94 428.41,217.91 431.99,217.88 435.58,217.86 439.16,217.84 442.74,217.81 446.32,217.79 449.9,217.77 453.48,217.74 457.06,217.72 460.64,217.69 464.23,217.66 467.81,217.62 471.39,217.58 474.97,217.53 478.55,217.46 482.13,217.38 485.71,217.29 489.29,217.2 492.88,217.11 496.46,217.03 500.04,216.95 503.62,216.88 507.2,216.83 510.78,216.79 514.36,216.77 517.94,216.74 521.52,216.71 525.11,216.69 528.69,216.67 532.27,216.65 535.85,216.63 539.43,216.62 543.01,216.61 546.59,216.6 550.17,216.6 553.76,216.61 557.34,216.64 560.92,216.67 564.5,216.72 568.08,216.78 571.66,216.85 575.24,216.92 578.83,216.99 582.41,217.06 585.99,217.13 589.57,217.19 593.15,217.25 596.73,217.32 600.31,217.4 603.89,217.48 607.48,217.55 611.06,217.63 614.64,217.7 618.22,217.77 621.8,217.82 625.38,217.86 628.96,217.89 632.54,217.91 636.12,217.93 639.71,217.94 643.29,217.96 646.87,217.97 650.45,217.98 654.03,217.99 657.61,217.99 661.19,218 664.78,218" fill="none" stroke="#ff0000" stroke-width="1.0" stroke-linejoin="round"/>
<polyline points="392.6,218.2 396.18,218.16 399.76,218.12 403.34,218.09 406.93,218.05 410.51,218.02 414.09,217.99 417.67,217.95 421.25,217.92 424.83,217.89 428.41,217.87 431.99,217.84 435.58,217.82 439.16,217.8 442.74,217.78 446.32,217.76 449.9,217.74 453.48,217.73 457.06,217.72 460.64,217.71 464.23,217.7 467.81,217.7 471.39,217.7 474.97,217.7 478.55,217.7 482.13,217.7 485.71,217.7 489.29,217.7 492.88,217.7 496.46,217.7 500.04,217.7 503.62,217.7 507.2,217.7 510.78,217.7 514.36,217.71 517.94,217.74 521.52,217.78 525.11,217.84 528.69,217.9 532.27,217.98 535.85,218.06 539.43,218.14 543.01,218.23 546.59,218.32 550.17,218.4 553.76,218.5 557.34,218.6 560.92,218.72 564.5,218.85 568.08,218.99 571.66,219.13 575.24,219.28 578.83,219.43 582.41,219.58 585.99,219.73 589.57,219.88 593.15,220.03 596.73,220.17 600.31,220.32 603.89,220.47 607.48,220.62 611.06,220.77 614.64,220.93 618.22,221.09 621.8,221.27 625.38,221.45 628.96,221.64 632.54,221.85 636.12,222.07 639.71,222.31 643.29,222.56 646.87,222.82 650.45,223.1 654.03,223.38 657.61,223.68 661.19,223.99 664.78,224.3" fill="none" stroke="#ff0000" stroke-width="1.0" stroke-linejoin="round"/>
<polyline points="392.6,228.1 396.18,228.77 399.76,229.44 403.34,230.09 406.93,230.73 410.51,231.35 414.09,231.96 417.67,232.56 421.25,233.14 424.83,233.71 428.41,234.26 431.99,234.8 435.58,235.31 439.16,235.8 442.74,236.27 446.32,236.74 449.9,237.2 453.48,237.65 457.06,238.1 460.64,238.56 464.23,239.03 467.81,239.51 471.39,240 474.97,240.5 478.55,241 482.13,241.5 485.71,242.01 489.29,242.52 492.88,243.04 496.46,243.56 500.04,244.09 503.62,244.63 507.2,245.18 510.78,245.73 514.36,246.31 517.94,246.9 521.52,247.5 525.11,248.12 528.69,248.74 532.27,249.36 535.85,249.99 539.43,250.61 543.01,251.23 546.59,251.83 550.17,252.42 553.76,253 557.34,253.57 560.92,254.12 564.5,254.68 568.08,255.22 571.66,255.77 575.24,256.33 578.83,256.88 582.41,257.45 585.99,258.03 589.57,258.63 593.15,259.24 596.73,259.87 600.31,260.52 603.89,261.17 607.48,261.83 611.06,262.5 614.64,263.17 618.22,263.84 621.8,264.51 625.38,265.17 628.96,265.82 632.54,266.46 636.12,267.1 639.71,267.73 643.29,268.36 646.87,268.99 650.45,269.62 654.03,270.24 657.61,270.86 661.19,271.48 664.78,272.1" fill="none" stroke="#008000" stroke-width="1.0" stroke-linejoin="round"/>
<polyline points="392.6,228.1 396.18,228.72 399.76,229.35 403.34,229.99 406.93,230.64 410.51,231.31 414.09,231.98 417.67,232.67 421.25,233.36 424.83,234.07 428.41,234.78 431.99,235.51 435.58,236.26 439.16,237.02 442.74,237.8 446.32,238.6 449.9,239.4 453.48,240.21 457.06,241.02 460.64,241.83 464.23,242.63 467.81,243.43 471.39,244.21 474.97,244.97 478.55,245.71 482.13,246.44 485.71,247.16 489.29,247.89 492.88,248.63 496.46,249.4 500.04,250.19 503.62,251.02 507.2,251.9 510.78,252.83 514.36,253.83 517.94,254.89 521.52,256.01 525.11,257.17 528.69,258.38 532.27,259.63 535.85,260.9 539.43,262.2 543.01,263.51 546.59,264.83 550.17,266.15 553.76,267.49 557.34,268.87 560.92,270.28 564.5,271.72 568.08,273.18 571.66,274.67 575.24,276.16 578.83,277.67 582.41,279.19 585.99,280.7 589.57,282.22 593.15,283.73 596.73,285.23 600.31,286.74 603.89,288.24 607.48,289.76 611.06,291.3 614.64,292.86 618.22,294.44 621.8,296.06 625.38,297.72 628.96,299.42 632.54,301.16 636.12,302.95 639.71,304.79 643.29,306.66 646.87,308.58 650.45,310.54 654.03,312.53 657.61,314.55 661.19,316.61 664.78,318.7" fill="none" stroke="#008000" stroke-width="1.0" stroke-linejoin="round"/>
<polyline points="392.6,227.5 396.18,227.61 399.76,227.73 403.34,227.84 406.93,227.96 410.51,228.07 414.09,228.19 417.67,228.3 421.25,228.42 424.83,228.53 428.41,228.65 431.99,228.76 435.58,228.88 439.16,228.99 442.74,229.1 446.32,229.22 449.9,229.33 453.48,229.44 457.06,229.56 460.64,229.68 464.23,229.8 467.81,229.92 471.39,230.05 474.97,230.18 478.55,230.32 482.13,230.46 485.71,230.61 489.29,230.75 492.88,230.9 496.46,231.05 500.04,231.2 503.62,231.34 507.2,231.49 510.78,231.63 514.36,231.77 517.94,231.91 521.52,232.05 525.11,232.18 528.69,232.32 532.27,232.45 535.85,232.59 539.43,232.74 543.01,232.89 546.59,233.04 550.17,233.21 553.76,233.38 557.34,233.57 560.92,233.77 564.5,233.97 568.08,234.18 571.66,234.4 575.24,234.62 578.83,234.83 582.41,235.05 585.99,235.27 589.57,235.48 593.15,235.68 596.73,235.89 600.31,236.09 603.89,236.3 607.48,236.5 611.06,236.7 614.64,236.91 618.22,237.12 621.8,237.32 625.38,237.53 628.96,237.74 632.54,237.95 636.12,238.16 639.71,238.38 643.29,238.59 646.87,238.81 650.45,239.02 654.03,239.24 657.61,239.46 661.19,239.68 664.78,239.9" fill="none" stroke="#0000ff" stroke-width="1.0" stroke-linejoin="round"/>
<polyline points="392.6,227.5 396.18,227.58 399.76,227.66 403.34,227.76 406.93,227.86 410.51,227.97 414.09,228.09 417.67,228.22 421.25,228.35 424.83,228.49 428.41,228.64 431.99,228.79 435.58,228.96 439.16,229.15 442.74,229.36 446.32,229.57 449.9,229.8 453.48,230.03 457.06,230.25 460.64,230.48 464.23,230.69 467.81,230.89 471.39,231.07 474.97,231.24 478.55,231.39 482.13,231.53 485.71,231.67 489.29,231.81 492.88,231.95 496.46,232.1 500.04,232.26 503.62,232.44 507.2,232.63 510.78,232.86 514.36,233.12 517.94,233.42 521.52,233.77 525.11,234.14 528.69,234.54 532.27,234.96 535.85,235.39 539.43,235.83 543.01,236.26 546.59,236.7 550.17,237.12 553.76,237.53 557.34,237.96 560.92,238.39 564.5,238.83 568.08,239.28 571.66,239.73 575.24,240.19 578.83,240.65 582.41,241.11 585.99,241.58 589.57,242.04 593.15,242.51 596.73,242.98 600.31,243.46 603.89,243.93 607.48,244.42 611.06,244.9 614.64,245.4 618.22,245.9 621.8,246.4 625.38,246.92 628.96,247.45 632.54,247.99 636.12,248.54 639.71,249.1 643.29,249.67 646.87,250.25 650.45,250.85 654.03,251.45 657.61,252.06 661.19,252.67 664.78,253.3" fill="none" stroke="#0000ff" stroke-width="1.0" stroke-linejoin="round"/>
<polyline points="392.6,218.2 396.18,218.87 399.76,219.53 403.34,220.2 406.93,220.87 410.51,221.54 414.09,222.21 417.67,222.88 421.25,223.55 424.83,224.23 428.41,224.9 431.99,225.58 435.58,226.25 439.16,226.91 442.74,227.58 446.32,228.25 449.9,228.92 453.48,229.59 457.06,230.27 460.64,230.96 464.23,231.66 467.81,232.37 471.39,233.09 474.97,233.84 478.55,234.61 482.13,235.4 485.71,236.19 489.29,236.99 492.88,237.8 496.46,238.6 500.04,239.39 503.62,240.17 507.2,240.93 510.78,241.68 514.36,242.4 517.94,243.11 521.52,243.81 525.11,244.51 528.69,245.19 532.27,245.88 535.85,246.56 539.43,247.25 543.01,247.93 546.59,248.63 550.17,249.33 553.76,250.04 557.34,250.75 560.92,251.47 564.5,252.19 568.08,252.91 571.66,253.64 575.24,254.36 578.83,255.08 582.41,255.8 585.99,256.51 589.57,257.22 593.15,257.92 596.73,258.62 600.31,259.31 603.89,260 607.48,260.69 611.06,261.38 614.64,262.07 618.22,262.76 621.8,263.44 625.38,264.12 628.96,264.81 632.54,265.49 636.12,266.18 639.71,266.86 643.29,267.54 646.87,268.22 650.45,268.9 654.03,269.57 657.61,270.25 661.19,270.93 664.78,271.6" fill="none" stroke="#00bfbf" stroke-width="1.0" stroke-linejoin="round"/>
<polyline points="392.6,218.2 396.18,218.78 399.76,219.4 403.34,220.05 406.93,220.73 410.51,221.45 414.09,222.19 417.67,222.96 421.25,223.76 424.83,224.58 428.41,225.42 431.99,226.29 435.58,227.22 439.16,228.2 442.74,229.22 446.32,230.28 449.9,231.37 453.48,232.48 457.06,233.61 460.64,234.75 464.23,235.89 467.81,237.02 471.39,238.15 474.97,239.27 478.55,240.4 482.13,241.53 485.71,242.68 489.29,243.83 492.88,245.01 496.46,246.2 500.04,247.41 503.62,248.65 507.2,249.92 510.78,251.21 514.36,252.53 517.94,253.87 521.52,255.23 525.11,256.62 528.69,258.03 532.27,259.48 535.85,260.96 539.43,262.48 543.01,264.03 546.59,265.63 550.17,267.27 553.76,268.98 557.34,270.78 560.92,272.64 564.5,274.57 568.08,276.54 571.66,278.54 575.24,280.56 578.83,282.59 582.41,284.61 585.99,286.6 589.57,288.57 593.15,290.48 596.73,292.36 600.31,294.21 603.89,296.04 607.48,297.88 611.06,299.74 614.64,301.62 618.22,303.56 621.8,305.55 625.38,307.62 628.96,309.78 632.54,312.04 636.12,314.39 639.71,316.83 643.29,319.35 646.87,321.96 650.45,324.63 654.03,327.38 657.61,330.19 661.19,333.07 664.78,336" fill="none" stroke="#00bfbf" stroke-width="1.0" stroke-linejoin="round"/>
<line x1="392.6" y1="223.2" x2="679.1" y2="223.2" stroke="#000" stroke-width="2.1"/>
</g>
<rect x="392.6" y="199.4" width="286.5" height="142.5" fill="none" stroke="#a2a2a2" stroke-width="1.2"/>
<line x1="390.4" y1="199.3" x2="392.6" y2="199.3" stroke="#a2a2a2" stroke-width="1"/>
<text x="389.8" y="203.1" font-size="9.54" text-anchor="end" textLength="11.45" lengthAdjust="spacingAndGlyphs">50</text>
<line x1="390.4" y1="223.2" x2="392.6" y2="223.2" stroke="#a2a2a2" stroke-width="1"/>
<text x="389.8" y="227" font-size="9.54" text-anchor="end" textLength="5.73" lengthAdjust="spacingAndGlyphs">0</text>
<line x1="390.4" y1="271" x2="392.6" y2="271" stroke="#a2a2a2" stroke-width="1"/>
<text x="389.8" y="274.8" font-size="9.54" text-anchor="end" textLength="24.72" lengthAdjust="spacingAndGlyphs">−100</text>
<line x1="390.4" y1="318.8" x2="392.6" y2="318.8" stroke="#a2a2a2" stroke-width="1"/>
<text x="389.8" y="322.6" font-size="9.54" text-anchor="end" textLength="24.72" lengthAdjust="spacingAndGlyphs">−200</text>
<text x="535.85" y="196.8" font-size="13.3" text-anchor="middle" textLength="55.16" lengthAdjust="spacingAndGlyphs">Montreal</text>
<text x="361.9" y="271.45" font-size="9.09" text-anchor="middle" textLength="129.9" lengthAdjust="spacingAndGlyphs" transform="rotate(-90 361.9 271.45)">Cost Difference [1000 Dollars]</text>
<rect x="397.2" y="283.2" width="42.26" height="54.5" rx="2" ry="2" fill="#fff" fill-opacity="0.8" stroke="#d9d9d9" stroke-opacity="0.8" stroke-width="0.9"/>
<rect x="400" y="287.35" width="17.3" height="5.9" fill="#ff0000" fill-opacity="0.3"/>
<text x="424.4" y="293.5" font-size="9.28" text-anchor="start" textLength="11.26" lengthAdjust="spacingAndGlyphs">PV</text>
<rect x="400" y="300.35" width="17.3" height="5.9" fill="#008000" fill-opacity="0.3"/>
<text x="424.4" y="306.5" font-size="9.28" text-anchor="start" textLength="11.53" lengthAdjust="spacingAndGlyphs">BE</text>
<rect x="400" y="313.35" width="17.3" height="5.9" fill="#0000ff" fill-opacity="0.3"/>
<text x="424.4" y="319.5" font-size="9.28" text-anchor="start" textLength="11.86" lengthAdjust="spacingAndGlyphs">HP</text>
<rect x="400" y="326.35" width="17.3" height="5.9" fill="#00ffff" fill-opacity="0.3"/>
<text x="424.4" y="332.5" font-size="9.28" text-anchor="start" textLength="10.85" lengthAdjust="spacingAndGlyphs">All</text>
</g>
<g>
<clipPath id="c02"><rect x="38.5" y="385.9" width="286.5" height="142.5"/></clipPath>
<g clip-path="url(#c02)">
<polygon points="38.5,407.9 42.08,407.87 45.66,407.85 49.24,407.82 52.83,407.79 56.41,407.77 59.99,407.74 63.57,407.71 67.15,407.68 70.73,407.65 74.31,407.62 77.89,407.58 81.47,407.55 85.06,407.52 88.64,407.48 92.22,407.44 95.8,407.41 99.38,407.37 102.96,407.33 106.54,407.3 110.12,407.26 113.71,407.22 117.29,407.19 120.87,407.15 124.45,407.1 128.03,407.05 131.61,407.01 135.19,406.96 138.77,406.92 142.36,406.88 145.94,406.84 149.52,406.82 153.1,406.8 156.68,406.8 160.26,406.8 163.84,406.81 167.42,406.82 171.01,406.83 174.59,406.85 178.17,406.87 181.75,406.89 185.33,406.92 188.91,406.94 192.49,406.97 196.07,407 199.66,407.05 203.24,407.12 206.82,407.21 210.4,407.32 213.98,407.44 217.56,407.57 221.14,407.71 224.72,407.84 228.31,407.97 231.89,408.09 235.47,408.19 239.05,408.28 242.63,408.37 246.21,408.46 249.79,408.55 253.38,408.63 256.96,408.72 260.54,408.8 264.12,408.87 267.7,408.95 271.28,409.02 274.86,409.08 278.44,409.14 282.02,409.2 285.61,409.26 289.19,409.32 292.77,409.37 296.35,409.42 299.93,409.47 303.51,409.52 307.09,409.56 310.68,409.6 310.68,420.4 307.09,420.02 303.51,419.64 299.93,419.27 296.35,418.91 292.77,418.54 289.19,418.19 285.61,417.83 282.02,417.49 278.44,417.14 274.86,416.81 271.28,416.47 267.7,416.14 264.12,415.82 260.54,415.49 256.96,415.17 253.38,414.86 249.79,414.55 246.21,414.24 242.63,413.95 239.05,413.65 235.47,413.37 231.89,413.09 228.31,412.81 224.72,412.55 221.14,412.29 217.56,412.03 213.98,411.77 210.4,411.52 206.82,411.27 203.24,411.02 199.66,410.76 196.07,410.51 192.49,410.24 188.91,409.94 185.33,409.63 181.75,409.32 178.17,409 174.59,408.7 171.01,408.42 167.42,408.17 163.84,407.96 160.26,407.81 156.68,407.71 153.1,407.66 149.52,407.62 145.94,407.58 142.36,407.54 138.77,407.51 135.19,407.48 131.61,407.45 128.03,407.43 124.45,407.42 120.87,407.41 117.29,407.4 113.71,407.4 110.12,407.4 106.54,407.4 102.96,407.41 99.38,407.42 95.8,407.42 92.22,407.43 88.64,407.45 85.06,407.46 81.47,407.48 77.89,407.49 74.31,407.52 70.73,407.54 67.15,407.57 63.57,407.6 59.99,407.63 56.41,407.67 52.83,407.71 49.24,407.75 45.66,407.8 42.08,407.85 38.5,407.9" fill="#ff0000" fill-opacity="0.3" stroke="none"/>
<polygon points="38.5,423.9 42.08,424.37 45.66,424.84 49.24,425.3 52.83,425.76 56.41,426.21 59.99,426.66 63.57,427.1 67.15,427.54 70.73,427.97 74.31,428.4 77.89,428.82 81.47,429.23 85.06,429.64 88.64,430.04 92.22,430.44 95.8,430.83 99.38,431.22 102.96,431.61 106.54,431.99 110.12,432.38 113.71,432.76 117.29,433.14 120.87,433.51 124.45,433.87 128.03,434.22 131.61,434.58 135.19,434.93 138.77,435.28 142.36,435.64 145.94,436.01 149.52,436.39 153.1,436.78 156.68,437.18 160.26,437.61 163.84,438.05 167.42,438.51 171.01,438.98 174.59,439.45 178.17,439.94 181.75,440.42 185.33,440.9 188.91,441.38 192.49,441.86 196.07,442.32 199.66,442.77 203.24,443.21 206.82,443.65 210.4,444.09 213.98,444.53 217.56,444.96 221.14,445.4 224.72,445.85 228.31,446.3 231.89,446.77 235.47,447.24 239.05,447.74 242.63,448.25 246.21,448.78 249.79,449.32 253.38,449.87 256.96,450.42 260.54,450.97 264.12,451.51 267.7,452.05 271.28,452.57 274.86,453.06 278.44,453.54 282.02,454.02 285.61,454.48 289.19,454.94 292.77,455.38 296.35,455.82 299.93,456.25 303.51,456.68 307.09,457.09 310.68,457.5 310.68,521.7 307.09,519.33 303.51,516.99 299.93,514.67 296.35,512.38 292.77,510.13 289.19,507.9 285.61,505.7 282.02,503.54 278.44,501.41 274.86,499.32 271.28,497.24 267.7,495.17 264.12,493.12 260.54,491.09 256.96,489.09 253.38,487.13 249.79,485.2 246.21,483.32 242.63,481.49 239.05,479.71 235.47,478 231.89,476.33 228.31,474.68 224.72,473.08 221.14,471.5 217.56,469.97 213.98,468.46 210.4,467 206.82,465.58 203.24,464.19 199.66,462.85 196.07,461.55 192.49,460.3 188.91,459.09 185.33,457.92 181.75,456.79 178.17,455.68 174.59,454.6 171.01,453.53 167.42,452.47 163.84,451.42 160.26,450.37 156.68,449.31 153.1,448.24 149.52,447.16 145.94,446.07 142.36,444.99 138.77,443.91 135.19,442.85 131.61,441.81 128.03,440.8 124.45,439.82 120.87,438.89 117.29,438 113.71,437.17 110.12,436.37 106.54,435.59 102.96,434.85 99.38,434.12 95.8,433.42 92.22,432.73 88.64,432.06 85.06,431.4 81.47,430.76 77.89,430.13 74.31,429.5 70.73,428.88 67.15,428.28 63.57,427.69 59.99,427.11 56.41,426.54 52.83,425.98 49.24,425.44 45.66,424.91 42.08,424.4 38.5,423.9" fill="#008000" fill-opacity="0.3" stroke="none"/>
<polygon points="38.5,420.7 42.08,420.7 45.66,420.71 49.24,420.73 52.83,420.75 56.41,420.78 59.99,420.81 63.57,420.85 67.15,420.89 70.73,420.93 74.31,420.98 77.89,421.03 81.47,421.11 85.06,421.22 88.64,421.35 92.22,421.51 95.8,421.68 99.38,421.86 102.96,422.06 106.54,422.26 110.12,422.47 113.71,422.67 117.29,422.87 120.87,423.08 124.45,423.3 128.03,423.54 131.61,423.78 135.19,424.03 138.77,424.3 142.36,424.57 145.94,424.86 149.52,425.15 153.1,425.45 156.68,425.76 160.26,426.09 163.84,426.45 167.42,426.82 171.01,427.2 174.59,427.6 178.17,428.01 181.75,428.43 185.33,428.85 188.91,429.28 192.49,429.7 196.07,430.12 199.66,430.53 203.24,430.94 206.82,431.36 210.4,431.78 213.98,432.2 217.56,432.63 221.14,433.07 224.72,433.52 228.31,433.98 231.89,434.45 235.47,434.94 239.05,435.45 242.63,435.98 246.21,436.53 249.79,437.1 253.38,437.68 256.96,438.27 260.54,438.87 264.12,439.48 267.7,440.1 271.28,440.71 274.86,441.33 278.44,441.94 282.02,442.57 285.61,443.2 289.19,443.84 292.77,444.48 296.35,445.13 299.93,445.79 303.51,446.45 307.09,447.12 310.68,447.8 310.68,480.2 307.09,478.52 303.51,476.86 299.93,475.22 296.35,473.61 292.77,472.01 289.19,470.44 285.61,468.89 282.02,467.36 278.44,465.86 274.86,464.39 271.28,462.91 267.7,461.44 264.12,459.97 260.54,458.51 256.96,457.08 253.38,455.69 249.79,454.33 246.21,453.02 242.63,451.77 239.05,450.58 235.47,449.47 231.89,448.42 228.31,447.43 224.72,446.48 221.14,445.56 217.56,444.67 213.98,443.81 210.4,442.97 206.82,442.14 203.24,441.31 199.66,440.48 196.07,439.63 192.49,438.78 188.91,437.9 185.33,437.02 181.75,436.14 178.17,435.27 174.59,434.42 171.01,433.59 167.42,432.8 163.84,432.05 160.26,431.36 156.68,430.72 153.1,430.14 149.52,429.59 145.94,429.06 142.36,428.56 138.77,428.08 135.19,427.63 131.61,427.18 128.03,426.76 124.45,426.34 120.87,425.94 117.29,425.54 113.71,425.14 110.12,424.74 106.54,424.32 102.96,423.91 99.38,423.51 95.8,423.12 92.22,422.75 88.64,422.42 85.06,422.13 81.47,421.88 77.89,421.68 74.31,421.53 70.73,421.4 67.15,421.28 63.57,421.16 59.99,421.05 56.41,420.95 52.83,420.86 49.24,420.8 45.66,420.74 42.08,420.71 38.5,420.7" fill="#00ffff" fill-opacity="0.3" stroke="none"/>
<polyline points="38.5,407.9 42.08,407.87 45.66,407.85 49.24,407.82 52.83,407.79 56.41,407.77 59.99,407.74 63.57,407.71 67.15,407.68 70.73,407.65 74.31,407.62 77.89,407.58 81.47,407.55 85.06,407.52 88.64,407.48 92.22,407.44 95.8,407.41 99.38,407.37 102.96,407.33 106.54,407.3 110.12,407.26 113.71,407.22 117.29,407.19 120.87,407.15 124.45,407.1 128.03,407.05 131.61,407.01 135.19,406.96 138.77,406.92 142.36,406.88 145.94,406.84 149.52,406.82 153.1,406.8 156.68,406.8 160.26,406.8 163.84,406.81 167.42,406.82 171.01,406.83 174.59,406.85 178.17,406.87 181.75,406.89 185.33,406.92 188.91,406.94 192.49,406.97 196.07,407 199.66,407.05 203.24,407.12 206.82,407.21 210.4,407.32 213.98,407.44 217.56,407.57 221.14,407.71 224.72,407.84 228.31,407.97 231.89,408.09 235.47,408.19 239.05,408.28 242.63,408.37 246.21,408.46 249.79,408.55 253.38,408.63 256.96,408.72 260.54,408.8 264.12,408.87 267.7,408.95 271.28,409.02 274.86,409.08 278.44,409.14 282.02,409.2 285.61,409.26 289.19,409.32 292.77,409.37 296.35,409.42 299.93,409.47 303.51,409.52 307.09,409.56 310.68,409.6" fill="none" stroke="#ff0000" stroke-width="1.0" stroke-linejoin="round"/>
<polyline points="38.5,407.9 42.08,407.85 45.66,407.8 49.24,407.75 52.83,407.71 56.41,407.67 59.99,407.63 63.57,407.6 67.15,407.57 70.73,407.54 74.31,407.52 77.89,407.49 81.47,407.48 85.06,407.46 88.64,407.45 92.22,407.43 95.8,407.42 99.38,407.42 102.96,407.41 106.54,407.4 110.12,407.4 113.71,407.4 117.29,407.4 120.87,407.41 124.45,407.42 128.03,407.43 131.61,407.45 135.19,407.48 138.77,407.51 142.36,407.54 145.94,407.58 149.52,407.62 153.1,407.66 156.68,407.71 160.26,407.81 163.84,407.96 167.42,408.17 171.01,408.42 174.59,408.7 178.17,409 181.75,409.32 185.33,409.63 188.91,409.94 192.49,410.24 196.07,410.51 199.66,410.76 203.24,411.02 206.82,411.27 210.4,411.52 213.98,411.77 217.56,412.03 221.14,412.29 224.72,412.55 228.31,412.81 231.89,413.09 235.47,413.37 239.05,413.65 242.63,413.95 246.21,414.24 249.79,414.55 253.38,414.86 256.96,415.17 260.54,415.49 264.12,415.82 267.7,416.14 271.28,416.47 274.86,416.81 278.44,417.14 282.02,417.49 285.61,417.83 289.19,418.19 292.77,418.54 296.35,418.91 299.93,419.27 303.51,419.64 307.09,420.02 310.68,420.4" fill="none" stroke="#ff0000" stroke-width="1.0" stroke-linejoin="round"/>
<polyline points="38.5,423.9 42.08,424.37 45.66,424.84 49.24,425.3 52.83,425.76 56.41,426.21 59.99,426.66 63.57,427.1 67.15,427.54 70.73,427.97 74.31,428.4 77.89,428.82 81.47,429.23 85.06,429.64 88.64,430.04 92.22,430.44 95.8,430.83 99.38,431.22 102.96,431.61 106.54,431.99 110.12,432.38 113.71,432.76 117.29,433.14 120.87,433.51 124.45,433.87 128.03,434.22 131.61,434.58 135.19,434.93 138.77,435.28 142.36,435.64 145.94,436.01 149.52,436.39 153.1,436.78 156.68,437.18 160.26,437.61 163.84,438.05 167.42,438.51 171.01,438.98 174.59,439.45 178.17,439.94 181.75,440.42 185.33,440.9 188.91,441.38 192.49,441.86 196.07,442.32 199.66,442.77 203.24,443.21 206.82,443.65 210.4,444.09 213.98,444.53 217.56,444.96 221.14,445.4 224.72,445.85 228.31,446.3 231.89,446.77 235.47,447.24 239.05,447.74 242.63,448.25 246.21,448.78 249.79,449.32 253.38,449.87 256.96,450.42 260.54,450.97 264.12,451.51 267.7,452.05 271.28,452.57 274.86,453.06 278.44,453.54 282.02,454.02 285.61,454.48 289.19,454.94 292.77,455.38 296.35,455.82 299.93,456.25 303.51,456.68 307.09,457.09 310.68,457.5" fill="none" stroke="#008000" stroke-width="1.0" stroke-linejoin="round"/>
<polyline points="38.5,423.9 42.08,424.4 45.66,424.91 49.24,425.44 52.83,425.98 56.41,426.54 59.99,427.11 63.57,427.69 67.15,428.28 70.73,428.88 74.31,429.5 77.89,430.13 81.47,430.76 85.06,431.4 88.64,432.06 92.22,432.73 95.8,433.42 99.38,434.12 102.96,434.85 106.54,435.59 110.12,436.37 113.71,437.17 117.29,438 120.87,438.89 124.45,439.82 128.03,440.8 131.61,441.81 135.19,442.85 138.77,443.91 142.36,444.99 145.94,446.07 149.52,447.16 153.1,448.24 156.68,449.31 160.26,450.37 163.84,451.42 167.42,452.47 171.01,453.53 174.59,454.6 178.17,455.68 181.75,456.79 185.33,457.92 188.91,459.09 192.49,460.3 196.07,461.55 199.66,462.85 203.24,464.19 206.82,465.58 210.4,467 213.98,468.46 217.56,469.97 221.14,471.5 224.72,473.08 228.31,474.68 231.89,476.33 235.47,478 239.05,479.71 242.63,481.49 246.21,483.32 249.79,485.2 253.38,487.13 256.96,489.09 260.54,491.09 264.12,493.12 267.7,495.17 271.28,497.24 274.86,499.32 278.44,501.41 282.02,503.54 285.61,505.7 289.19,507.9 292.77,510.13 296.35,512.38 299.93,514.67 303.51,516.99 307.09,519.33 310.68,521.7" fill="none" stroke="#008000" stroke-width="1.0" stroke-linejoin="round"/>
<polyline points="38.5,420.7 42.08,420.7 45.66,420.71 49.24,420.73 52.83,420.75 56.41,420.78 59.99,420.81 63.57,420.85 67.15,420.89 70.73,420.93 74.31,420.98 77.89,421.03 81.47,421.11 85.06,421.22 88.64,421.35 92.22,421.51 95.8,421.68 99.38,421.86 102.96,422.06 106.54,422.26 110.12,422.47 113.71,422.67 117.29,422.87 120.87,423.08 124.45,423.3 128.03,423.54 131.61,423.78 135.19,424.03 138.77,424.3 142.36,424.57 145.94,424.86 149.52,425.15 153.1,425.45 156.68,425.76 160.26,426.09 163.84,426.45 167.42,426.82 171.01,427.2 174.59,427.6 178.17,428.01 181.75,428.43 185.33,428.85 188.91,429.28 192.49,429.7 196.07,430.12 199.66,430.53 203.24,430.94 206.82,431.36 210.4,431.78 213.98,432.2 217.56,432.63 221.14,433.07 224.72,433.52 228.31,433.98 231.89,434.45 235.47,434.94 239.05,435.45 242.63,435.98 246.21,436.53 249.79,437.1 253.38,437.68 256.96,438.27 260.54,438.87 264.12,439.48 267.7,440.1 271.28,440.71 274.86,441.33 278.44,441.94 282.02,442.57 285.61,443.2 289.19,443.84 292.77,444.48 296.35,445.13 299.93,445.79 303.51,446.45 307.09,447.12 310.68,447.8" fill="none" stroke="#00bfbf" stroke-width="1.0" stroke-linejoin="round"/>
<polyline points="38.5,420.7 42.08,420.71 45.66,420.74 49.24,420.8 52.83,420.86 56.41,420.95 59.99,421.05 63.57,421.16 67.15,421.28 70.73,421.4 74.31,421.53 77.89,421.68 81.47,421.88 85.06,422.13 88.64,422.42 92.22,422.75 95.8,423.12 99.38,423.51 102.96,423.91 106.54,424.32 110.12,424.74 113.71,425.14 117.29,425.54 120.87,425.94 124.45,426.34 128.03,426.76 131.61,427.18 135.19,427.63 138.77,428.08 142.36,428.56 145.94,429.06 149.52,429.59 153.1,430.14 156.68,430.72 160.26,431.36 163.84,432.05 167.42,432.8 171.01,433.59 174.59,434.42 178.17,435.27 181.75,436.14 185.33,437.02 188.91,437.9 192.49,438.78 196.07,439.63 199.66,440.48 203.24,441.31 206.82,442.14 210.4,442.97 213.98,443.81 217.56,444.67 221.14,445.56 224.72,446.48 228.31,447.43 231.89,448.42 235.47,449.47 239.05,450.58 242.63,451.77 246.21,453.02 249.79,454.33 253.38,455.69 256.96,457.08 260.54,458.51 264.12,459.97 267.7,461.44 271.28,462.91 274.86,464.39 278.44,465.86 282.02,467.36 285.61,468.89 289.19,470.44 292.77,472.01 296.35,473.61 299.93,475.22 303.51,476.86 307.09,478.52 310.68,480.2" fill="none" stroke="#00bfbf" stroke-width="1.0" stroke-linejoin="round"/>
<line x1="38.5" y1="413.3" x2="325" y2="413.3" stroke="#000" stroke-width="2.1"/>
</g>
<rect x="38.5" y="385.9" width="286.5" height="142.5" fill="none" stroke="#a2a2a2" stroke-width="1.2"/>
<line x1="36.3" y1="385.7" x2="38.5" y2="385.7" stroke="#a2a2a2" stroke-width="1"/>
<text x="35.7" y="389.5" font-size="9.54" text-anchor="end" textLength="11.45" lengthAdjust="spacingAndGlyphs">50</text>
<line x1="36.3" y1="413.3" x2="38.5" y2="413.3" stroke="#a2a2a2" stroke-width="1"/>
<text x="35.7" y="417.1" font-size="9.54" text-anchor="end" textLength="5.73" lengthAdjust="spacingAndGlyphs">0</text>
<line x1="36.3" y1="440.9" x2="38.5" y2="440.9" stroke="#a2a2a2" stroke-width="1"/>
<text x="35.7" y="444.7" font-size="9.54" text-anchor="end" textLength="18.99" lengthAdjust="spacingAndGlyphs">−50</text>
<line x1="36.3" y1="468.5" x2="38.5" y2="468.5" stroke="#a2a2a2" stroke-width="1"/>
<text x="35.7" y="472.3" font-size="9.54" text-anchor="end" textLength="24.72" lengthAdjust="spacingAndGlyphs">−100</text>
<line x1="36.3" y1="496.1" x2="38.5" y2="496.1" stroke="#a2a2a2" stroke-width="1"/>
<text x="35.7" y="499.9" font-size="9.54" text-anchor="end" textLength="24.72" lengthAdjust="spacingAndGlyphs">−150</text>
<line x1="36.3" y1="523.7" x2="38.5" y2="523.7" stroke="#a2a2a2" stroke-width="1"/>
<text x="35.7" y="527.5" font-size="9.54" text-anchor="end" textLength="24.72" lengthAdjust="spacingAndGlyphs">−200</text>
<text x="181.75" y="383.3" font-size="13.3" text-anchor="middle" textLength="58.14" lengthAdjust="spacingAndGlyphs">St. John's</text>
<text x="7.8" y="457.95" font-size="9.09" text-anchor="middle" textLength="129.9" lengthAdjust="spacingAndGlyphs" transform="rotate(-90 7.8 457.95)">Cost Difference [1000 Dollars]</text>
<rect x="43.1" y="482.7" width="41.93" height="41.5" rx="2" ry="2" fill="#fff" fill-opacity="0.8" stroke="#d9d9d9" stroke-opacity="0.8" stroke-width="0.9"/>
<rect x="45.9" y="486.85" width="17.3" height="5.9" fill="#ff0000" fill-opacity="0.3"/>
<text x="70.3" y="493" font-size="9.28" text-anchor="start" textLength="11.26" lengthAdjust="spacingAndGlyphs">PV</text>
<rect x="45.9" y="499.85" width="17.3" height="5.9" fill="#008000" fill-opacity="0.3"/>
<text x="70.3" y="506" font-size="9.28" text-anchor="start" textLength="11.53" lengthAdjust="spacingAndGlyphs">BE</text>
<rect x="45.9" y="512.85" width="17.3" height="5.9" fill="#00ffff" fill-opacity="0.3"/>
<text x="70.3" y="519" font-size="9.28" text-anchor="start" textLength="10.85" lengthAdjust="spacingAndGlyphs">All</text>
</g>
<g>
<clipPath id="c12"><rect x="392.6" y="385.9" width="286.5" height="142.5"/></clipPath>
<g clip-path="url(#c12)">
<polygon points="392.6,416.1 396.18,416.25 399.76,416.42 403.34,416.59 406.93,416.77 410.51,416.96 414.09,417.15 417.67,417.36 421.25,417.56 424.83,417.78 428.41,418 431.99,418.23 435.58,418.48 439.16,418.75 442.74,419.04 446.32,419.33 449.9,419.63 453.48,419.93 457.06,420.23 460.64,420.52 464.23,420.79 467.81,421.05 471.39,421.29 474.97,421.52 478.55,421.74 482.13,421.96 485.71,422.17 489.29,422.37 492.88,422.57 496.46,422.77 500.04,422.96 503.62,423.16 507.2,423.35 510.78,423.55 514.36,423.74 517.94,423.92 521.52,424.1 525.11,424.28 528.69,424.46 532.27,424.64 535.85,424.82 539.43,425.01 543.01,425.2 546.59,425.4 550.17,425.61 553.76,425.83 557.34,426.06 560.92,426.3 564.5,426.55 568.08,426.8 571.66,427.06 575.24,427.32 578.83,427.58 582.41,427.84 585.99,428.11 589.57,428.37 593.15,428.63 596.73,428.89 600.31,429.16 603.89,429.43 607.48,429.7 611.06,429.97 614.64,430.24 618.22,430.51 621.8,430.78 625.38,431.06 628.96,431.32 632.54,431.59 636.12,431.86 639.71,432.13 643.29,432.4 646.87,432.66 650.45,432.93 654.03,433.2 657.61,433.47 661.19,433.73 664.78,434 664.78,465.1 661.19,463.89 657.61,462.69 654.03,461.51 650.45,460.35 646.87,459.21 643.29,458.09 639.71,456.99 636.12,455.91 632.54,454.85 628.96,453.81 625.38,452.8 621.8,451.8 618.22,450.82 614.64,449.86 611.06,448.91 607.48,447.98 603.89,447.06 600.31,446.15 596.73,445.26 593.15,444.37 589.57,443.5 585.99,442.62 582.41,441.74 578.83,440.86 575.24,439.99 571.66,439.13 568.08,438.29 564.5,437.47 560.92,436.68 557.34,435.92 553.76,435.2 550.17,434.53 546.59,433.89 543.01,433.28 539.43,432.7 535.85,432.15 532.27,431.61 528.69,431.09 525.11,430.57 521.52,430.06 517.94,429.56 514.36,429.04 510.78,428.53 507.2,428 503.62,427.47 500.04,426.93 496.46,426.4 492.88,425.87 489.29,425.34 485.71,424.82 482.13,424.32 478.55,423.82 474.97,423.34 471.39,422.88 467.81,422.43 464.23,421.99 460.64,421.54 457.06,421.1 453.48,420.67 449.9,420.25 446.32,419.85 442.74,419.47 439.16,419.1 435.58,418.77 431.99,418.46 428.41,418.18 424.83,417.91 421.25,417.66 417.67,417.41 414.09,417.18 410.51,416.95 406.93,416.75 403.34,416.56 399.76,416.39 396.18,416.23 392.6,416.1" fill="#ff0000" fill-opacity="0.3" stroke="none"/>
<polygon points="392.6,423.7 396.18,424.15 399.76,424.6 403.34,425.05 406.93,425.5 410.51,425.95 414.09,426.4 417.67,426.85 421.25,427.3 424.83,427.75 428.41,428.2 431.99,428.65 435.58,429.1 439.16,429.54 442.74,429.99 446.32,430.43 449.9,430.87 453.48,431.32 457.06,431.77 460.64,432.22 464.23,432.67 467.81,433.12 471.39,433.59 474.97,434.05 478.55,434.53 482.13,435.01 485.71,435.49 489.29,435.98 492.88,436.46 496.46,436.94 500.04,437.42 503.62,437.89 507.2,438.35 510.78,438.81 514.36,439.25 517.94,439.67 521.52,440.08 525.11,440.49 528.69,440.89 532.27,441.3 535.85,441.71 539.43,442.14 543.01,442.58 546.59,443.04 550.17,443.52 553.76,444.03 557.34,444.57 560.92,445.14 564.5,445.72 568.08,446.32 571.66,446.93 575.24,447.55 578.83,448.16 582.41,448.76 585.99,449.36 589.57,449.93 593.15,450.49 596.73,451.05 600.31,451.61 603.89,452.16 607.48,452.71 611.06,453.25 614.64,453.8 618.22,454.34 621.8,454.88 625.38,455.41 628.96,455.95 632.54,456.48 636.12,457.02 639.71,457.55 643.29,458.08 646.87,458.6 650.45,459.13 654.03,459.65 657.61,460.17 661.19,460.68 664.78,461.2 664.78,479.2 661.19,478.08 657.61,476.97 654.03,475.87 650.45,474.78 646.87,473.7 643.29,472.62 639.71,471.55 636.12,470.5 632.54,469.45 628.96,468.41 625.38,467.38 621.8,466.34 618.22,465.32 614.64,464.3 611.06,463.29 607.48,462.29 603.89,461.3 600.31,460.33 596.73,459.37 593.15,458.42 589.57,457.49 585.99,456.57 582.41,455.66 578.83,454.76 575.24,453.87 571.66,452.99 568.08,452.12 564.5,451.27 560.92,450.43 557.34,449.61 553.76,448.81 550.17,448.03 546.59,447.27 543.01,446.51 539.43,445.77 535.85,445.04 532.27,444.32 528.69,443.62 525.11,442.93 521.52,442.26 517.94,441.61 514.36,440.97 510.78,440.35 507.2,439.74 503.62,439.16 500.04,438.6 496.46,438.05 492.88,437.51 489.29,436.98 485.71,436.46 482.13,435.95 478.55,435.43 474.97,434.92 471.39,434.41 467.81,433.89 464.23,433.37 460.64,432.86 457.06,432.35 453.48,431.85 449.9,431.34 446.32,430.84 442.74,430.35 439.16,429.85 435.58,429.36 431.99,428.87 428.41,428.39 424.83,427.9 421.25,427.43 417.67,426.95 414.09,426.48 410.51,426.01 406.93,425.54 403.34,425.07 399.76,424.61 396.18,424.16 392.6,423.7" fill="#008000" fill-opacity="0.3" stroke="none"/>
<polygon points="392.6,412.2 396.18,413.15 399.76,414.09 403.34,415.01 406.93,415.92 410.51,416.81 414.09,417.69 417.67,418.56 421.25,419.4 424.83,420.23 428.41,421.05 431.99,421.84 435.58,422.61 439.16,423.36 442.74,424.09 446.32,424.8 449.9,425.51 453.48,426.21 457.06,426.91 460.64,427.62 464.23,428.33 467.81,429.06 471.39,429.8 474.97,430.55 478.55,431.31 482.13,432.08 485.71,432.86 489.29,433.63 492.88,434.41 496.46,435.18 500.04,435.94 503.62,436.7 507.2,437.44 510.78,438.17 514.36,438.88 517.94,439.57 521.52,440.25 525.11,440.91 528.69,441.58 532.27,442.24 535.85,442.92 539.43,443.61 543.01,444.32 546.59,445.06 550.17,445.83 553.76,446.64 557.34,447.49 560.92,448.37 564.5,449.27 568.08,450.19 571.66,451.13 575.24,452.07 578.83,453.02 582.41,453.96 585.99,454.88 589.57,455.79 593.15,456.69 596.73,457.6 600.31,458.5 603.89,459.41 607.48,460.32 611.06,461.22 614.64,462.11 618.22,463 621.8,463.87 625.38,464.73 628.96,465.57 632.54,466.39 636.12,467.2 639.71,468 643.29,468.79 646.87,469.57 650.45,470.34 654.03,471.1 657.61,471.84 661.19,472.58 664.78,473.3 664.78,522.4 661.19,520.12 657.61,517.87 654.03,515.64 650.45,513.44 646.87,511.26 643.29,509.12 639.71,507 636.12,504.91 632.54,502.86 628.96,500.84 625.38,498.85 621.8,496.88 618.22,494.95 614.64,493.04 611.06,491.15 607.48,489.29 603.89,487.44 600.31,485.6 596.73,483.79 593.15,481.98 589.57,480.18 585.99,478.38 582.41,476.58 578.83,474.77 575.24,472.98 571.66,471.2 568.08,469.45 564.5,467.73 560.92,466.05 557.34,464.43 553.76,462.86 550.17,461.36 546.59,459.92 543.01,458.55 539.43,457.22 535.85,455.93 532.27,454.67 528.69,453.43 525.11,452.21 521.52,450.99 517.94,449.78 514.36,448.55 510.78,447.3 507.2,446.03 503.62,444.74 500.04,443.45 496.46,442.14 492.88,440.84 489.29,439.55 485.71,438.27 482.13,437.02 478.55,435.79 474.97,434.6 471.39,433.45 467.81,432.34 464.23,431.27 460.64,430.22 457.06,429.2 453.48,428.2 449.9,427.22 446.32,426.25 442.74,425.3 439.16,424.34 435.58,423.39 431.99,422.44 428.41,421.48 424.83,420.52 421.25,419.57 417.67,418.63 414.09,417.69 410.51,416.76 406.93,415.84 403.34,414.92 399.76,414.01 396.18,413.1 392.6,412.2" fill="#00ffff" fill-opacity="0.3" stroke="none"/>
<polyline points="392.6,416.1 396.18,416.25 399.76,416.42 403.34,416.59 406.93,416.77 410.51,416.96 414.09,417.15 417.67,417.36 421.25,417.56 424.83,417.78 428.41,418 431.99,418.23 435.58,418.48 439.16,418.75 442.74,419.04 446.32,419.33 449.9,419.63 453.48,419.93 457.06,420.23 460.64,420.52 464.23,420.79 467.81,421.05 471.39,421.29 474.97,421.52 478.55,421.74 482.13,421.96 485.71,422.17 489.29,422.37 492.88,422.57 496.46,422.77 500.04,422.96 503.62,423.16 507.2,423.35 510.78,423.55 514.36,423.74 517.94,423.92 521.52,424.1 525.11,424.28 528.69,424.46 532.27,424.64 535.85,424.82 539.43,425.01 543.01,425.2 546.59,425.4 550.17,425.61 553.76,425.83 557.34,426.06 560.92,426.3 564.5,426.55 568.08,426.8 571.66,427.06 575.24,427.32 578.83,427.58 582.41,427.84 585.99,428.11 589.57,428.37 593.15,428.63 596.73,428.89 600.31,429.16 603.89,429.43 607.48,429.7 611.06,429.97 614.64,430.24 618.22,430.51 621.8,430.78 625.38,431.06 628.96,431.32 632.54,431.59 636.12,431.86 639.71,432.13 643.29,432.4 646.87,432.66 650.45,432.93 654.03,433.2 657.61,433.47 661.19,433.73 664.78,434" fill="none" stroke="#ff0000" stroke-width="1.0" stroke-linejoin="round"/>
<polyline points="392.6,416.1 396.18,416.23 399.76,416.39 403.34,416.56 406.93,416.75 410.51,416.95 414.09,417.18 417.67,417.41 421.25,417.66 424.83,417.91 428.41,418.18 431.99,418.46 435.58,418.77 439.16,419.1 442.74,419.47 446.32,419.85 449.9,420.25 453.48,420.67 457.06,421.1 460.64,421.54 464.23,421.99 467.81,422.43 471.39,422.88 474.97,423.34 478.55,423.82 482.13,424.32 485.71,424.82 489.29,425.34 492.88,425.87 496.46,426.4 500.04,426.93 503.62,427.47 507.2,428 510.78,428.53 514.36,429.04 517.94,429.56 521.52,430.06 525.11,430.57 528.69,431.09 532.27,431.61 535.85,432.15 539.43,432.7 543.01,433.28 546.59,433.89 550.17,434.53 553.76,435.2 557.34,435.92 560.92,436.68 564.5,437.47 568.08,438.29 571.66,439.13 575.24,439.99 578.83,440.86 582.41,441.74 585.99,442.62 589.57,443.5 593.15,444.37 596.73,445.26 600.31,446.15 603.89,447.06 607.48,447.98 611.06,448.91 614.64,449.86 618.22,450.82 621.8,451.8 625.38,452.8 628.96,453.81 632.54,454.85 636.12,455.91 639.71,456.99 643.29,458.09 646.87,459.21 650.45,460.35 654.03,461.51 657.61,462.69 661.19,463.89 664.78,465.1" fill="none" stroke="#ff0000" stroke-width="1.0" stroke-linejoin="round"/>
<polyline points="392.6,423.7 396.18,424.15 399.76,424.6 403.34,425.05 406.93,425.5 410.51,425.95 414.09,426.4 417.67,426.85 421.25,427.3 424.83,427.75 428.41,428.2 431.99,428.65 435.58,429.1 439.16,429.54 442.74,429.99 446.32,430.43 449.9,430.87 453.48,431.32 457.06,431.77 460.64,432.22 464.23,432.67 467.81,433.12 471.39,433.59 474.97,434.05 478.55,434.53 482.13,435.01 485.71,435.49 489.29,435.98 492.88,436.46 496.46,436.94 500.04,437.42 503.62,437.89 507.2,438.35 510.78,438.81 514.36,439.25 517.94,439.67 521.52,440.08 525.11,440.49 528.69,440.89 532.27,441.3 535.85,441.71 539.43,442.14 543.01,442.58 546.59,443.04 550.17,443.52 553.76,444.03 557.34,444.57 560.92,445.14 564.5,445.72 568.08,446.32 571.66,446.93 575.24,447.55 578.83,448.16 582.41,448.76 585.99,449.36 589.57,449.93 593.15,450.49 596.73,451.05 600.31,451.61 603.89,452.16 607.48,452.71 611.06,453.25 614.64,453.8 618.22,454.34 621.8,454.88 625.38,455.41 628.96,455.95 632.54,456.48 636.12,457.02 639.71,457.55 643.29,458.08 646.87,458.6 650.45,459.13 654.03,459.65 657.61,460.17 661.19,460.68 664.78,461.2" fill="none" stroke="#008000" stroke-width="1.0" stroke-linejoin="round"/>
<polyline points="392.6,423.7 396.18,424.16 399.76,424.61 403.34,425.07 406.93,425.54 410.51,426.01 414.09,426.48 417.67,426.95 421.25,427.43 424.83,427.9 428.41,428.39 431.99,428.87 435.58,429.36 439.16,429.85 442.74,430.35 446.32,430.84 449.9,431.34 453.48,431.85 457.06,432.35 460.64,432.86 464.23,433.37 467.81,433.89 471.39,434.41 474.97,434.92 478.55,435.43 482.13,435.95 485.71,436.46 489.29,436.98 492.88,437.51 496.46,438.05 500.04,438.6 503.62,439.16 507.2,439.74 510.78,440.35 514.36,440.97 517.94,441.61 521.52,442.26 525.11,442.93 528.69,443.62 532.27,444.32 535.85,445.04 539.43,445.77 543.01,446.51 546.59,447.27 550.17,448.03 553.76,448.81 557.34,449.61 560.92,450.43 564.5,451.27 568.08,452.12 571.66,452.99 575.24,453.87 578.83,454.76 582.41,455.66 585.99,456.57 589.57,457.49 593.15,458.42 596.73,459.37 600.31,460.33 603.89,461.3 607.48,462.29 611.06,463.29 614.64,464.3 618.22,465.32 621.8,466.34 625.38,467.38 628.96,468.41 632.54,469.45 636.12,470.5 639.71,471.55 643.29,472.62 646.87,473.7 650.45,474.78 654.03,475.87 657.61,476.97 661.19,478.08 664.78,479.2" fill="none" stroke="#008000" stroke-width="1.0" stroke-linejoin="round"/>
<polyline points="392.6,412.2 396.18,413.15 399.76,414.09 403.34,415.01 406.93,415.92 410.51,416.81 414.09,417.69 417.67,418.56 421.25,419.4 424.83,420.23 428.41,421.05 431.99,421.84 435.58,422.61 439.16,423.36 442.74,424.09 446.32,424.8 449.9,425.51 453.48,426.21 457.06,426.91 460.64,427.62 464.23,428.33 467.81,429.06 471.39,429.8 474.97,430.55 478.55,431.31 482.13,432.08 485.71,432.86 489.29,433.63 492.88,434.41 496.46,435.18 500.04,435.94 503.62,436.7 507.2,437.44 510.78,438.17 514.36,438.88 517.94,439.57 521.52,440.25 525.11,440.91 528.69,441.58 532.27,442.24 535.85,442.92 539.43,443.61 543.01,444.32 546.59,445.06 550.17,445.83 553.76,446.64 557.34,447.49 560.92,448.37 564.5,449.27 568.08,450.19 571.66,451.13 575.24,452.07 578.83,453.02 582.41,453.96 585.99,454.88 589.57,455.79 593.15,456.69 596.73,457.6 600.31,458.5 603.89,459.41 607.48,460.32 611.06,461.22 614.64,462.11 618.22,463 621.8,463.87 625.38,464.73 628.96,465.57 632.54,466.39 636.12,467.2 639.71,468 643.29,468.79 646.87,469.57 650.45,470.34 654.03,471.1 657.61,471.84 661.19,472.58 664.78,473.3" fill="none" stroke="#00bfbf" stroke-width="1.0" stroke-linejoin="round"/>
<polyline points="392.6,412.2 396.18,413.1 399.76,414.01 403.34,414.92 406.93,415.84 410.51,416.76 414.09,417.69 417.67,418.63 421.25,419.57 424.83,420.52 428.41,421.48 431.99,422.44 435.58,423.39 439.16,424.34 442.74,425.3 446.32,426.25 449.9,427.22 453.48,428.2 457.06,429.2 460.64,430.22 464.23,431.27 467.81,432.34 471.39,433.45 474.97,434.6 478.55,435.79 482.13,437.02 485.71,438.27 489.29,439.55 492.88,440.84 496.46,442.14 500.04,443.45 503.62,444.74 507.2,446.03 510.78,447.3 514.36,448.55 517.94,449.78 521.52,450.99 525.11,452.21 528.69,453.43 532.27,454.67 535.85,455.93 539.43,457.22 543.01,458.55 546.59,459.92 550.17,461.36 553.76,462.86 557.34,464.43 560.92,466.05 564.5,467.73 568.08,469.45 571.66,471.2 575.24,472.98 578.83,474.77 582.41,476.58 585.99,478.38 589.57,480.18 593.15,481.98 596.73,483.79 600.31,485.6 603.89,487.44 607.48,489.29 611.06,491.15 614.64,493.04 618.22,494.95 621.8,496.88 625.38,498.85 628.96,500.84 632.54,502.86 636.12,504.91 639.71,507 643.29,509.12 646.87,511.26 650.45,513.44 654.03,515.64 657.61,517.87 661.19,520.12 664.78,522.4" fill="none" stroke="#00bfbf" stroke-width="1.0" stroke-linejoin="round"/>
<line x1="392.6" y1="419.5" x2="679.1" y2="419.5" stroke="#000" stroke-width="2.1"/>
</g>
<rect x="392.6" y="385.9" width="286.5" height="142.5" fill="none" stroke="#a2a2a2" stroke-width="1.2"/>
<line x1="390.4" y1="385.8" x2="392.6" y2="385.8" stroke="#a2a2a2" stroke-width="1"/>
<text x="389.8" y="389.6" font-size="9.54" text-anchor="end" textLength="11.45" lengthAdjust="spacingAndGlyphs">50</text>
<line x1="390.4" y1="419.5" x2="392.6" y2="419.5" stroke="#a2a2a2" stroke-width="1"/>
<text x="389.8" y="423.3" font-size="9.54" text-anchor="end" textLength="5.73" lengthAdjust="spacingAndGlyphs">0</text>
<line x1="390.4" y1="453.2" x2="392.6" y2="453.2" stroke="#a2a2a2" stroke-width="1"/>
<text x="389.8" y="457" font-size="9.54" text-anchor="end" textLength="18.99" lengthAdjust="spacingAndGlyphs">−50</text>
<line x1="390.4" y1="486.9" x2="392.6" y2="486.9" stroke="#a2a2a2" stroke-width="1"/>
<text x="389.8" y="490.7" font-size="9.54" text-anchor="end" textLength="24.72" lengthAdjust="spacingAndGlyphs">−100</text>
<line x1="390.4" y1="520.6" x2="392.6" y2="520.6" stroke="#a2a2a2" stroke-width="1"/>
<text x="389.8" y="524.4" font-size="9.54" text-anchor="end" textLength="24.72" lengthAdjust="spacingAndGlyphs">−150</text>
<text x="535.85" y="383.3" font-size="13.3" text-anchor="middle" textLength="48.18" lengthAdjust="spacingAndGlyphs">Calgary</text>
<text x="361.9" y="457.95" font-size="9.09" text-anchor="middle" textLength="129.9" lengthAdjust="spacingAndGlyphs" transform="rotate(-90 361.9 457.95)">Cost Difference [1000 Dollars]</text>
<rect x="397.2" y="482.7" width="41.93" height="41.5" rx="2" ry="2" fill="#fff" fill-opacity="0.8" stroke="#d9d9d9" stroke-opacity="0.8" stroke-width="0.9"/>
<rect x="400" y="486.85" width="17.3" height="5.9" fill="#ff0000" fill-opacity="0.3"/>
<text x="424.4" y="493" font-size="9.28" text-anchor="start" textLength="11.26" lengthAdjust="spacingAndGlyphs">PV</text>
<rect x="400" y="499.85" width="17.3" height="5.9" fill="#008000" fill-opacity="0.3"/>
<text x="424.4" y="506" font-size="9.28" text-anchor="start" textLength="11.53" lengthAdjust="spacingAndGlyphs">BE</text>
<rect x="400" y="512.85" width="17.3" height="5.9" fill="#00ffff" fill-opacity="0.3"/>
<text x="424.4" y="519" font-size="9.28" text-anchor="start" textLength="10.85" lengthAdjust="spacingAndGlyphs">All</text>
</g>
<g>
<clipPath id="c03"><rect x="38.5" y="572.4" width="286.5" height="142.5"/></clipPath>
<g clip-path="url(#c03)">
<polygon points="38.5,626 42.08,626.22 45.66,626.44 49.24,626.66 52.83,626.86 56.41,627.06 59.99,627.25 63.57,627.43 67.15,627.61 70.73,627.77 74.31,627.93 77.89,628.08 81.47,628.22 85.06,628.36 88.64,628.49 92.22,628.62 95.8,628.74 99.38,628.86 102.96,628.97 106.54,629.07 110.12,629.17 113.71,629.25 117.29,629.33 120.87,629.39 124.45,629.45 128.03,629.5 131.61,629.55 135.19,629.6 138.77,629.64 142.36,629.69 145.94,629.74 149.52,629.79 153.1,629.85 156.68,629.91 160.26,629.99 163.84,630.07 167.42,630.15 171.01,630.24 174.59,630.33 178.17,630.43 181.75,630.53 185.33,630.64 188.91,630.76 192.49,630.88 196.07,631.01 199.66,631.15 203.24,631.3 206.82,631.47 210.4,631.66 213.98,631.85 217.56,632.06 221.14,632.26 224.72,632.47 228.31,632.68 231.89,632.88 235.47,633.08 239.05,633.27 242.63,633.47 246.21,633.68 249.79,633.89 253.38,634.1 256.96,634.31 260.54,634.51 264.12,634.71 267.7,634.9 271.28,635.09 274.86,635.26 278.44,635.41 282.02,635.57 285.61,635.72 289.19,635.86 292.77,636 296.35,636.13 299.93,636.26 303.51,636.38 307.09,636.49 310.68,636.6 310.68,653.9 307.09,653.21 303.51,652.53 299.93,651.87 296.35,651.21 292.77,650.57 289.19,649.93 285.61,649.31 282.02,648.71 278.44,648.12 274.86,647.54 271.28,646.98 267.7,646.43 264.12,645.89 260.54,645.36 256.96,644.85 253.38,644.33 249.79,643.83 246.21,643.33 242.63,642.83 239.05,642.34 235.47,641.84 231.89,641.35 228.31,640.85 224.72,640.36 221.14,639.88 217.56,639.39 213.98,638.92 210.4,638.44 206.82,637.98 203.24,637.52 199.66,637.06 196.07,636.62 192.49,636.17 188.91,635.71 185.33,635.25 181.75,634.8 178.17,634.34 174.59,633.9 171.01,633.48 167.42,633.08 163.84,632.7 160.26,632.36 156.68,632.06 153.1,631.79 149.52,631.53 145.94,631.29 142.36,631.07 138.77,630.85 135.19,630.65 131.61,630.46 128.03,630.27 124.45,630.1 120.87,629.92 117.29,629.76 113.71,629.6 110.12,629.45 106.54,629.32 102.96,629.19 99.38,629.07 95.8,628.94 92.22,628.82 88.64,628.7 85.06,628.57 81.47,628.43 77.89,628.28 74.31,628.12 70.73,627.95 67.15,627.76 63.57,627.57 59.99,627.37 56.41,627.16 52.83,626.94 49.24,626.71 45.66,626.48 42.08,626.24 38.5,626" fill="#ff0000" fill-opacity="0.3" stroke="none"/>
<polygon points="38.5,633.8 42.08,634.29 45.66,634.78 49.24,635.28 52.83,635.77 56.41,636.28 59.99,636.78 63.57,637.29 67.15,637.81 70.73,638.33 74.31,638.85 77.89,639.37 81.47,639.9 85.06,640.44 88.64,640.98 92.22,641.52 95.8,642.07 99.38,642.62 102.96,643.17 106.54,643.73 110.12,644.28 113.71,644.84 117.29,645.4 120.87,645.97 124.45,646.54 128.03,647.12 131.61,647.7 135.19,648.28 138.77,648.86 142.36,649.44 145.94,650.02 149.52,650.59 153.1,651.15 156.68,651.71 160.26,652.25 163.84,652.78 167.42,653.31 171.01,653.82 174.59,654.34 178.17,654.85 181.75,655.38 185.33,655.91 188.91,656.46 192.49,657.03 196.07,657.62 199.66,658.25 203.24,658.9 206.82,659.58 210.4,660.28 213.98,660.99 217.56,661.71 221.14,662.43 224.72,663.15 228.31,663.86 231.89,664.55 235.47,665.22 239.05,665.87 242.63,666.51 246.21,667.14 249.79,667.76 253.38,668.38 256.96,669 260.54,669.61 264.12,670.23 267.7,670.85 271.28,671.48 274.86,672.12 278.44,672.77 282.02,673.42 285.61,674.08 289.19,674.74 292.77,675.41 296.35,676.08 299.93,676.75 303.51,677.43 307.09,678.11 310.68,678.8 310.68,708.4 307.09,706.6 303.51,704.83 299.93,703.09 296.35,701.39 292.77,699.74 289.19,698.12 285.61,696.54 282.02,695.02 278.44,693.53 274.86,692.1 271.28,690.72 267.7,689.37 264.12,688.06 260.54,686.77 256.96,685.52 253.38,684.3 249.79,683.09 246.21,681.91 242.63,680.75 239.05,679.6 235.47,678.46 231.89,677.34 228.31,676.24 224.72,675.15 221.14,674.08 217.56,673.03 213.98,671.99 210.4,670.97 206.82,669.96 203.24,668.97 199.66,668 196.07,667.04 192.49,666.1 188.91,665.18 185.33,664.28 181.75,663.39 178.17,662.52 174.59,661.66 171.01,660.8 167.42,659.95 163.84,659.09 160.26,658.24 156.68,657.37 153.1,656.5 149.52,655.62 145.94,654.74 142.36,653.85 138.77,652.97 135.19,652.09 131.61,651.21 128.03,650.36 124.45,649.51 120.87,648.69 117.29,647.88 113.71,647.1 110.12,646.33 106.54,645.56 102.96,644.81 99.38,644.07 95.8,643.34 92.22,642.62 88.64,641.92 85.06,641.24 81.47,640.57 77.89,639.93 74.31,639.3 70.73,638.69 67.15,638.09 63.57,637.5 59.99,636.93 56.41,636.37 52.83,635.83 49.24,635.3 45.66,634.78 42.08,634.28 38.5,633.8" fill="#008000" fill-opacity="0.3" stroke="none"/>
<polygon points="38.5,629.7 42.08,629.2 45.66,628.7 49.24,628.2 52.83,627.7 56.41,627.2 59.99,626.71 63.57,626.21 67.15,625.72 70.73,625.23 74.31,624.74 77.89,624.25 81.47,623.76 85.06,623.28 88.64,622.8 92.22,622.32 95.8,621.84 99.38,621.36 102.96,620.88 106.54,620.39 110.12,619.91 113.71,619.42 117.29,618.92 120.87,618.42 124.45,617.92 128.03,617.42 131.61,616.91 135.19,616.4 138.77,615.89 142.36,615.38 145.94,614.86 149.52,614.34 153.1,613.82 156.68,613.29 160.26,612.76 163.84,612.23 167.42,611.69 171.01,611.15 174.59,610.6 178.17,610.06 181.75,609.51 185.33,608.96 188.91,608.42 192.49,607.87 196.07,607.33 199.66,606.79 203.24,606.25 206.82,605.72 210.4,605.19 213.98,604.66 217.56,604.13 221.14,603.59 224.72,603.05 228.31,602.5 231.89,601.94 235.47,601.37 239.05,600.79 242.63,600.2 246.21,599.61 249.79,599.01 253.38,598.4 256.96,597.79 260.54,597.17 264.12,596.53 267.7,595.89 271.28,595.25 274.86,594.59 278.44,593.92 282.02,593.24 285.61,592.54 289.19,591.84 292.77,591.12 296.35,590.4 299.93,589.66 303.51,588.92 307.09,588.16 310.68,587.4 310.68,610.1 307.09,610.15 303.51,610.21 299.93,610.28 296.35,610.35 292.77,610.44 289.19,610.52 285.61,610.62 282.02,610.72 278.44,610.82 274.86,610.93 271.28,611.05 267.7,611.19 264.12,611.35 260.54,611.51 256.96,611.68 253.38,611.86 249.79,612.04 246.21,612.21 242.63,612.39 239.05,612.56 235.47,612.72 231.89,612.87 228.31,613.02 224.72,613.16 221.14,613.29 217.56,613.43 213.98,613.57 210.4,613.72 206.82,613.87 203.24,614.03 199.66,614.21 196.07,614.39 192.49,614.6 188.91,614.82 185.33,615.07 181.75,615.33 178.17,615.6 174.59,615.88 171.01,616.17 167.42,616.46 163.84,616.76 160.26,617.05 156.68,617.34 153.1,617.63 149.52,617.92 145.94,618.21 142.36,618.5 138.77,618.79 135.19,619.1 131.61,619.4 128.03,619.71 124.45,620.03 120.87,620.35 117.29,620.68 113.71,621.02 110.12,621.36 106.54,621.72 102.96,622.08 99.38,622.45 95.8,622.82 92.22,623.2 88.64,623.59 85.06,623.98 81.47,624.38 77.89,624.79 74.31,625.2 70.73,625.62 67.15,626.04 63.57,626.47 59.99,626.91 56.41,627.36 52.83,627.82 49.24,628.28 45.66,628.75 42.08,629.22 38.5,629.7" fill="#0000ff" fill-opacity="0.3" stroke="none"/>
<polygon points="38.5,622.1 42.08,622.83 45.66,623.55 49.24,624.25 52.83,624.95 56.41,625.63 59.99,626.29 63.57,626.95 67.15,627.59 70.73,628.21 74.31,628.81 77.89,629.4 81.47,629.97 85.06,630.51 88.64,631.03 92.22,631.54 95.8,632.05 99.38,632.55 102.96,633.06 106.54,633.57 110.12,634.1 113.71,634.64 117.29,635.21 120.87,635.79 124.45,636.38 128.03,636.98 131.61,637.59 135.19,638.2 138.77,638.83 142.36,639.46 145.94,640.1 149.52,640.74 153.1,641.38 156.68,642.03 160.26,642.69 163.84,643.35 167.42,644.03 171.01,644.71 174.59,645.4 178.17,646.09 181.75,646.78 185.33,647.47 188.91,648.16 192.49,648.85 196.07,649.53 199.66,650.2 203.24,650.87 206.82,651.54 210.4,652.21 213.98,652.88 217.56,653.55 221.14,654.21 224.72,654.88 228.31,655.56 231.89,656.24 235.47,656.92 239.05,657.61 242.63,658.3 246.21,659 249.79,659.71 253.38,660.42 256.96,661.12 260.54,661.83 264.12,662.53 267.7,663.23 271.28,663.92 274.86,664.61 278.44,665.29 282.02,665.96 285.61,666.63 289.19,667.29 292.77,667.95 296.35,668.61 299.93,669.26 303.51,669.91 307.09,670.56 310.68,671.2 310.68,705.6 307.09,703.52 303.51,701.49 299.93,699.5 296.35,697.55 292.77,695.66 289.19,693.82 285.61,692.04 282.02,690.31 278.44,688.65 274.86,687.06 271.28,685.52 267.7,684.04 264.12,682.6 260.54,681.2 256.96,679.84 253.38,678.51 249.79,677.21 246.21,675.93 242.63,674.66 239.05,673.4 235.47,672.15 231.89,670.92 228.31,669.71 224.72,668.52 221.14,667.35 217.56,666.2 213.98,665.06 210.4,663.93 206.82,662.81 203.24,661.69 199.66,660.57 196.07,659.44 192.49,658.32 188.91,657.18 185.33,656.05 181.75,654.92 178.17,653.79 174.59,652.68 171.01,651.58 167.42,650.49 163.84,649.43 160.26,648.4 156.68,647.4 153.1,646.42 149.52,645.46 145.94,644.51 142.36,643.58 138.77,642.66 135.19,641.76 131.61,640.88 128.03,640.02 124.45,639.19 120.87,638.37 117.29,637.58 113.71,636.81 110.12,636.08 106.54,635.37 102.96,634.69 99.38,634.02 95.8,633.37 92.22,632.72 88.64,632.06 85.06,631.41 81.47,630.74 77.89,630.06 74.31,629.36 70.73,628.66 67.15,627.94 63.57,627.23 59.99,626.51 56.41,625.78 52.83,625.05 49.24,624.32 45.66,623.59 42.08,622.84 38.5,622.1" fill="#00ffff" fill-opacity="0.3" stroke="none"/>
<polyline points="38.5,626 42.08,626.22 45.66,626.44 49.24,626.66 52.83,626.86 56.41,627.06 59.99,627.25 63.57,627.43 67.15,627.61 70.73,627.77 74.31,627.93 77.89,628.08 81.47,628.22 85.06,628.36 88.64,628.49 92.22,628.62 95.8,628.74 99.38,628.86 102.96,628.97 106.54,629.07 110.12,629.17 113.71,629.25 117.29,629.33 120.87,629.39 124.45,629.45 128.03,629.5 131.61,629.55 135.19,629.6 138.77,629.64 142.36,629.69 145.94,629.74 149.52,629.79 153.1,629.85 156.68,629.91 160.26,629.99 163.84,630.07 167.42,630.15 171.01,630.24 174.59,630.33 178.17,630.43 181.75,630.53 185.33,630.64 188.91,630.76 192.49,630.88 196.07,631.01 199.66,631.15 203.24,631.3 206.82,631.47 210.4,631.66 213.98,631.85 217.56,632.06 221.14,632.26 224.72,632.47 228.31,632.68 231.89,632.88 235.47,633.08 239.05,633.27 242.63,633.47 246.21,633.68 249.79,633.89 253.38,634.1 256.96,634.31 260.54,634.51 264.12,634.71 267.7,634.9 271.28,635.09 274.86,635.26 278.44,635.41 282.02,635.57 285.61,635.72 289.19,635.86 292.77,636 296.35,636.13 299.93,636.26 303.51,636.38 307.09,636.49 310.68,636.6" fill="none" stroke="#ff0000" stroke-width="1.0" stroke-linejoin="round"/>
<polyline points="38.5,626 42.08,626.24 45.66,626.48 49.24,626.71 52.83,626.94 56.41,627.16 59.99,627.37 63.57,627.57 67.15,627.76 70.73,627.95 74.31,628.12 77.89,628.28 81.47,628.43 85.06,628.57 88.64,628.7 92.22,628.82 95.8,628.94 99.38,629.07 102.96,629.19 106.54,629.32 110.12,629.45 113.71,629.6 117.29,629.76 120.87,629.92 124.45,630.1 128.03,630.27 131.61,630.46 135.19,630.65 138.77,630.85 142.36,631.07 145.94,631.29 149.52,631.53 153.1,631.79 156.68,632.06 160.26,632.36 163.84,632.7 167.42,633.08 171.01,633.48 174.59,633.9 178.17,634.34 181.75,634.8 185.33,635.25 188.91,635.71 192.49,636.17 196.07,636.62 199.66,637.06 203.24,637.52 206.82,637.98 210.4,638.44 213.98,638.92 217.56,639.39 221.14,639.88 224.72,640.36 228.31,640.85 231.89,641.35 235.47,641.84 239.05,642.34 242.63,642.83 246.21,643.33 249.79,643.83 253.38,644.33 256.96,644.85 260.54,645.36 264.12,645.89 267.7,646.43 271.28,646.98 274.86,647.54 278.44,648.12 282.02,648.71 285.61,649.31 289.19,649.93 292.77,650.57 296.35,651.21 299.93,651.87 303.51,652.53 307.09,653.21 310.68,653.9" fill="none" stroke="#ff0000" stroke-width="1.0" stroke-linejoin="round"/>
<polyline points="38.5,633.8 42.08,634.29 45.66,634.78 49.24,635.28 52.83,635.77 56.41,636.28 59.99,636.78 63.57,637.29 67.15,637.81 70.73,638.33 74.31,638.85 77.89,639.37 81.47,639.9 85.06,640.44 88.64,640.98 92.22,641.52 95.8,642.07 99.38,642.62 102.96,643.17 106.54,643.73 110.12,644.28 113.71,644.84 117.29,645.4 120.87,645.97 124.45,646.54 128.03,647.12 131.61,647.7 135.19,648.28 138.77,648.86 142.36,649.44 145.94,650.02 149.52,650.59 153.1,651.15 156.68,651.71 160.26,652.25 163.84,652.78 167.42,653.31 171.01,653.82 174.59,654.34 178.17,654.85 181.75,655.38 185.33,655.91 188.91,656.46 192.49,657.03 196.07,657.62 199.66,658.25 203.24,658.9 206.82,659.58 210.4,660.28 213.98,660.99 217.56,661.71 221.14,662.43 224.72,663.15 228.31,663.86 231.89,664.55 235.47,665.22 239.05,665.87 242.63,666.51 246.21,667.14 249.79,667.76 253.38,668.38 256.96,669 260.54,669.61 264.12,670.23 267.7,670.85 271.28,671.48 274.86,672.12 278.44,672.77 282.02,673.42 285.61,674.08 289.19,674.74 292.77,675.41 296.35,676.08 299.93,676.75 303.51,677.43 307.09,678.11 310.68,678.8" fill="none" stroke="#008000" stroke-width="1.0" stroke-linejoin="round"/>
<polyline points="38.5,633.8 42.08,634.28 45.66,634.78 49.24,635.3 52.83,635.83 56.41,636.37 59.99,636.93 63.57,637.5 67.15,638.09 70.73,638.69 74.31,639.3 77.89,639.93 81.47,640.57 85.06,641.24 88.64,641.92 92.22,642.62 95.8,643.34 99.38,644.07 102.96,644.81 106.54,645.56 110.12,646.33 113.71,647.1 117.29,647.88 120.87,648.69 124.45,649.51 128.03,650.36 131.61,651.21 135.19,652.09 138.77,652.97 142.36,653.85 145.94,654.74 149.52,655.62 153.1,656.5 156.68,657.37 160.26,658.24 163.84,659.09 167.42,659.95 171.01,660.8 174.59,661.66 178.17,662.52 181.75,663.39 185.33,664.28 188.91,665.18 192.49,666.1 196.07,667.04 199.66,668 203.24,668.97 206.82,669.96 210.4,670.97 213.98,671.99 217.56,673.03 221.14,674.08 224.72,675.15 228.31,676.24 231.89,677.34 235.47,678.46 239.05,679.6 242.63,680.75 246.21,681.91 249.79,683.09 253.38,684.3 256.96,685.52 260.54,686.77 264.12,688.06 267.7,689.37 271.28,690.72 274.86,692.1 278.44,693.53 282.02,695.02 285.61,696.54 289.19,698.12 292.77,699.74 296.35,701.39 299.93,703.09 303.51,704.83 307.09,706.6 310.68,708.4" fill="none" stroke="#008000" stroke-width="1.0" stroke-linejoin="round"/>
<polyline points="38.5,629.7 42.08,629.2 45.66,628.7 49.24,628.2 52.83,627.7 56.41,627.2 59.99,626.71 63.57,626.21 67.15,625.72 70.73,625.23 74.31,624.74 77.89,624.25 81.47,623.76 85.06,623.28 88.64,622.8 92.22,622.32 95.8,621.84 99.38,621.36 102.96,620.88 106.54,620.39 110.12,619.91 113.71,619.42 117.29,618.92 120.87,618.42 124.45,617.92 128.03,617.42 131.61,616.91 135.19,616.4 138.77,615.89 142.36,615.38 145.94,614.86 149.52,614.34 153.1,613.82 156.68,613.29 160.26,612.76 163.84,612.23 167.42,611.69 171.01,611.15 174.59,610.6 178.17,610.06 181.75,609.51 185.33,608.96 188.91,608.42 192.49,607.87 196.07,607.33 199.66,606.79 203.24,606.25 206.82,605.72 210.4,605.19 213.98,604.66 217.56,604.13 221.14,603.59 224.72,603.05 228.31,602.5 231.89,601.94 235.47,601.37 239.05,600.79 242.63,600.2 246.21,599.61 249.79,599.01 253.38,598.4 256.96,597.79 260.54,597.17 264.12,596.53 267.7,595.89 271.28,595.25 274.86,594.59 278.44,593.92 282.02,593.24 285.61,592.54 289.19,591.84 292.77,591.12 296.35,590.4 299.93,589.66 303.51,588.92 307.09,588.16 310.68,587.4" fill="none" stroke="#0000ff" stroke-width="1.0" stroke-linejoin="round"/>
<polyline points="38.5,629.7 42.08,629.22 45.66,628.75 49.24,628.28 52.83,627.82 56.41,627.36 59.99,626.91 63.57,626.47 67.15,626.04 70.73,625.62 74.31,625.2 77.89,624.79 81.47,624.38 85.06,623.98 88.64,623.59 92.22,623.2 95.8,622.82 99.38,622.45 102.96,622.08 106.54,621.72 110.12,621.36 113.71,621.02 117.29,620.68 120.87,620.35 124.45,620.03 128.03,619.71 131.61,619.4 135.19,619.1 138.77,618.79 142.36,618.5 145.94,618.21 149.52,617.92 153.1,617.63 156.68,617.34 160.26,617.05 163.84,616.76 167.42,616.46 171.01,616.17 174.59,615.88 178.17,615.6 181.75,615.33 185.33,615.07 188.91,614.82 192.49,614.6 196.07,614.39 199.66,614.21 203.24,614.03 206.82,613.87 210.4,613.72 213.98,613.57 217.56,613.43 221.14,613.29 224.72,613.16 228.31,613.02 231.89,612.87 235.47,612.72 239.05,612.56 242.63,612.39 246.21,612.21 249.79,612.04 253.38,611.86 256.96,611.68 260.54,611.51 264.12,611.35 267.7,611.19 271.28,611.05 274.86,610.93 278.44,610.82 282.02,610.72 285.61,610.62 289.19,610.52 292.77,610.44 296.35,610.35 299.93,610.28 303.51,610.21 307.09,610.15 310.68,610.1" fill="none" stroke="#0000ff" stroke-width="1.0" stroke-linejoin="round"/>
<polyline points="38.5,622.1 42.08,622.83 45.66,623.55 49.24,624.25 52.83,624.95 56.41,625.63 59.99,626.29 63.57,626.95 67.15,627.59 70.73,628.21 74.31,628.81 77.89,629.4 81.47,629.97 85.06,630.51 88.64,631.03 92.22,631.54 95.8,632.05 99.38,632.55 102.96,633.06 106.54,633.57 110.12,634.1 113.71,634.64 117.29,635.21 120.87,635.79 124.45,636.38 128.03,636.98 131.61,637.59 135.19,638.2 138.77,638.83 142.36,639.46 145.94,640.1 149.52,640.74 153.1,641.38 156.68,642.03 160.26,642.69 163.84,643.35 167.42,644.03 171.01,644.71 174.59,645.4 178.17,646.09 181.75,646.78 185.33,647.47 188.91,648.16 192.49,648.85 196.07,649.53 199.66,650.2 203.24,650.87 206.82,651.54 210.4,652.21 213.98,652.88 217.56,653.55 221.14,654.21 224.72,654.88 228.31,655.56 231.89,656.24 235.47,656.92 239.05,657.61 242.63,658.3 246.21,659 249.79,659.71 253.38,660.42 256.96,661.12 260.54,661.83 264.12,662.53 267.7,663.23 271.28,663.92 274.86,664.61 278.44,665.29 282.02,665.96 285.61,666.63 289.19,667.29 292.77,667.95 296.35,668.61 299.93,669.26 303.51,669.91 307.09,670.56 310.68,671.2" fill="none" stroke="#00bfbf" stroke-width="1.0" stroke-linejoin="round"/>
<polyline points="38.5,622.1 42.08,622.84 45.66,623.59 49.24,624.32 52.83,625.05 56.41,625.78 59.99,626.51 63.57,627.23 67.15,627.94 70.73,628.66 74.31,629.36 77.89,630.06 81.47,630.74 85.06,631.41 88.64,632.06 92.22,632.72 95.8,633.37 99.38,634.02 102.96,634.69 106.54,635.37 110.12,636.08 113.71,636.81 117.29,637.58 120.87,638.37 124.45,639.19 128.03,640.02 131.61,640.88 135.19,641.76 138.77,642.66 142.36,643.58 145.94,644.51 149.52,645.46 153.1,646.42 156.68,647.4 160.26,648.4 163.84,649.43 167.42,650.49 171.01,651.58 174.59,652.68 178.17,653.79 181.75,654.92 185.33,656.05 188.91,657.18 192.49,658.32 196.07,659.44 199.66,660.57 203.24,661.69 206.82,662.81 210.4,663.93 213.98,665.06 217.56,666.2 221.14,667.35 224.72,668.52 228.31,669.71 231.89,670.92 235.47,672.15 239.05,673.4 242.63,674.66 246.21,675.93 249.79,677.21 253.38,678.51 256.96,679.84 260.54,681.2 264.12,682.6 267.7,684.04 271.28,685.52 274.86,687.06 278.44,688.65 282.02,690.31 285.61,692.04 289.19,693.82 292.77,695.66 296.35,697.55 299.93,699.5 303.51,701.49 307.09,703.52 310.68,705.6" fill="none" stroke="#00bfbf" stroke-width="1.0" stroke-linejoin="round"/>
<line x1="38.5" y1="628.3" x2="325" y2="628.3" stroke="#000" stroke-width="2.1"/>
</g>
<rect x="38.5" y="572.4" width="286.5" height="142.5" fill="none" stroke="#a2a2a2" stroke-width="1.2"/>
<line x1="36.3" y1="572.5" x2="38.5" y2="572.5" stroke="#a2a2a2" stroke-width="1"/>
<text x="35.7" y="576.3" font-size="9.54" text-anchor="end" textLength="17.18" lengthAdjust="spacingAndGlyphs">100</text>
<line x1="36.3" y1="600.4" x2="38.5" y2="600.4" stroke="#a2a2a2" stroke-width="1"/>
<text x="35.7" y="604.2" font-size="9.54" text-anchor="end" textLength="11.45" lengthAdjust="spacingAndGlyphs">50</text>
<line x1="36.3" y1="628.3" x2="38.5" y2="628.3" stroke="#a2a2a2" stroke-width="1"/>
<text x="35.7" y="632.1" font-size="9.54" text-anchor="end" textLength="5.73" lengthAdjust="spacingAndGlyphs">0</text>
<line x1="36.3" y1="656.2" x2="38.5" y2="656.2" stroke="#a2a2a2" stroke-width="1"/>
<text x="35.7" y="660" font-size="9.54" text-anchor="end" textLength="18.99" lengthAdjust="spacingAndGlyphs">−50</text>
<line x1="36.3" y1="684.1" x2="38.5" y2="684.1" stroke="#a2a2a2" stroke-width="1"/>
<text x="35.7" y="687.9" font-size="9.54" text-anchor="end" textLength="24.72" lengthAdjust="spacingAndGlyphs">−100</text>
<text x="181.75" y="569.8" font-size="13.3" text-anchor="middle" textLength="65.16" lengthAdjust="spacingAndGlyphs">Saskatoon</text>
<text x="7.8" y="644.45" font-size="9.09" text-anchor="middle" textLength="129.9" lengthAdjust="spacingAndGlyphs" transform="rotate(-90 7.8 644.45)">Cost Difference [1000 Dollars]</text>
<rect x="43.1" y="656.2" width="42.26" height="54.5" rx="2" ry="2" fill="#fff" fill-opacity="0.8" stroke="#d9d9d9" stroke-opacity="0.8" stroke-width="0.9"/>
<rect x="45.9" y="660.35" width="17.3" height="5.9" fill="#ff0000" fill-opacity="0.3"/>
<text x="70.3" y="666.5" font-size="9.28" text-anchor="start" textLength="11.26" lengthAdjust="spacingAndGlyphs">PV</text>
<rect x="45.9" y="673.35" width="17.3" height="5.9" fill="#008000" fill-opacity="0.3"/>
<text x="70.3" y="679.5" font-size="9.28" text-anchor="start" textLength="11.53" lengthAdjust="spacingAndGlyphs">BE</text>
<rect x="45.9" y="686.35" width="17.3" height="5.9" fill="#0000ff" fill-opacity="0.3"/>
<text x="70.3" y="692.5" font-size="9.28" text-anchor="start" textLength="11.86" lengthAdjust="spacingAndGlyphs">HP</text>
<rect x="45.9" y="699.35" width="17.3" height="5.9" fill="#00ffff" fill-opacity="0.3"/>
<text x="70.3" y="705.5" font-size="9.28" text-anchor="start" textLength="10.85" lengthAdjust="spacingAndGlyphs">All</text>
</g>
<g>
<clipPath id="c13"><rect x="392.6" y="572.4" width="286.5" height="142.5"/></clipPath>
<g clip-path="url(#c13)">
<polygon points="392.6,615.5 396.18,615.29 399.76,615.07 403.34,614.83 406.93,614.59 410.51,614.33 414.09,614.07 417.67,613.8 421.25,613.52 424.83,613.23 428.41,612.93 431.99,612.63 435.58,612.3 439.16,611.96 442.74,611.6 446.32,611.23 449.9,610.85 453.48,610.46 457.06,610.07 460.64,609.69 464.23,609.3 467.81,608.92 471.39,608.55 474.97,608.17 478.55,607.77 482.13,607.36 485.71,606.95 489.29,606.54 492.88,606.15 496.46,605.77 500.04,605.42 503.62,605.09 507.2,604.8 510.78,604.54 514.36,604.31 517.94,604.1 521.52,603.89 525.11,603.7 528.69,603.52 532.27,603.34 535.85,603.18 539.43,603.02 543.01,602.87 546.59,602.73 550.17,602.59 553.76,602.46 557.34,602.31 560.92,602.16 564.5,602.02 568.08,601.88 571.66,601.74 575.24,601.62 578.83,601.52 582.41,601.43 585.99,601.36 589.57,601.32 593.15,601.3 596.73,601.32 600.31,601.37 603.89,601.45 607.48,601.55 611.06,601.67 614.64,601.79 618.22,601.92 621.8,602.05 625.38,602.17 628.96,602.27 632.54,602.36 636.12,602.45 639.71,602.54 643.29,602.62 646.87,602.71 650.45,602.79 654.03,602.87 657.61,602.95 661.19,603.02 664.78,603.1 664.78,617.6 661.19,617.09 657.61,616.58 654.03,616.07 650.45,615.57 646.87,615.07 643.29,614.58 639.71,614.1 636.12,613.62 632.54,613.14 628.96,612.67 625.38,612.18 621.8,611.68 618.22,611.17 614.64,610.66 611.06,610.17 607.48,609.69 603.89,609.25 600.31,608.85 596.73,608.49 593.15,608.2 589.57,607.95 585.99,607.71 582.41,607.48 578.83,607.27 575.24,607.07 571.66,606.89 568.08,606.72 564.5,606.55 560.92,606.4 557.34,606.26 553.76,606.13 550.17,606 546.59,605.88 543.01,605.76 539.43,605.64 535.85,605.52 532.27,605.4 528.69,605.3 525.11,605.2 521.52,605.12 517.94,605.06 514.36,605.02 510.78,605 507.2,605.03 503.62,605.18 500.04,605.42 496.46,605.74 492.88,606.12 489.29,606.54 485.71,607 482.13,607.46 478.55,607.92 474.97,608.36 471.39,608.76 467.81,609.11 464.23,609.47 460.64,609.83 457.06,610.2 453.48,610.57 449.9,610.93 446.32,611.29 442.74,611.64 439.16,611.99 435.58,612.32 431.99,612.63 428.41,612.93 424.83,613.22 421.25,613.5 417.67,613.78 414.09,614.05 410.51,614.31 406.93,614.57 403.34,614.81 399.76,615.05 396.18,615.28 392.6,615.5" fill="#ff0000" fill-opacity="0.3" stroke="none"/>
<polygon points="392.6,616.3 396.18,616.46 399.76,616.64 403.34,616.85 406.93,617.09 410.51,617.34 414.09,617.61 417.67,617.9 421.25,618.21 424.83,618.52 428.41,618.85 431.99,619.2 435.58,619.58 439.16,620 442.74,620.45 446.32,620.94 449.9,621.44 453.48,621.97 457.06,622.51 460.64,623.06 464.23,623.61 467.81,624.17 471.39,624.72 474.97,625.29 478.55,625.87 482.13,626.47 485.71,627.08 489.29,627.7 492.88,628.33 496.46,628.98 500.04,629.64 503.62,630.3 507.2,630.98 510.78,631.67 514.36,632.38 517.94,633.11 521.52,633.87 525.11,634.64 528.69,635.42 532.27,636.21 535.85,637 539.43,637.78 543.01,638.55 546.59,639.3 550.17,640.03 553.76,640.73 557.34,641.42 560.92,642.09 564.5,642.75 568.08,643.41 571.66,644.06 575.24,644.72 578.83,645.39 582.41,646.08 585.99,646.78 589.57,647.51 593.15,648.27 596.73,649.06 600.31,649.87 603.89,650.7 607.48,651.55 611.06,652.4 614.64,653.26 618.22,654.11 621.8,654.95 625.38,655.77 628.96,656.58 632.54,657.36 636.12,658.14 639.71,658.91 643.29,659.67 646.87,660.43 650.45,661.18 654.03,661.92 657.61,662.65 661.19,663.38 664.78,664.1 664.78,697.6 661.19,695.76 657.61,693.94 654.03,692.13 650.45,690.34 646.87,688.58 643.29,686.83 639.71,685.1 636.12,683.39 632.54,681.7 628.96,680.03 625.38,678.37 621.8,676.71 618.22,675.06 614.64,673.42 611.06,671.8 607.48,670.2 603.89,668.64 600.31,667.12 596.73,665.64 593.15,664.21 589.57,662.84 585.99,661.52 582.41,660.25 578.83,659.02 575.24,657.82 571.66,656.65 568.08,655.5 564.5,654.37 560.92,653.24 557.34,652.12 553.76,650.99 550.17,649.85 546.59,648.69 543.01,647.53 539.43,646.37 535.85,645.21 532.27,644.06 528.69,642.92 525.11,641.79 521.52,640.69 517.94,639.61 514.36,638.55 510.78,637.54 507.2,636.55 503.62,635.58 500.04,634.63 496.46,633.7 492.88,632.78 489.29,631.89 485.71,631.01 482.13,630.15 478.55,629.32 474.97,628.5 471.39,627.71 467.81,626.94 464.23,626.16 460.64,625.38 457.06,624.62 453.48,623.87 449.9,623.14 446.32,622.43 442.74,621.77 439.16,621.15 435.58,620.58 431.99,620.06 428.41,619.6 424.83,619.17 421.25,618.75 417.67,618.35 414.09,617.97 410.51,617.61 406.93,617.28 403.34,616.98 399.76,616.72 396.18,616.49 392.6,616.3" fill="#008000" fill-opacity="0.3" stroke="none"/>
<polygon points="392.6,615.5 396.18,615.25 399.76,615 403.34,614.75 406.93,614.51 410.51,614.26 414.09,614.01 417.67,613.76 421.25,613.51 424.83,613.26 428.41,613.01 431.99,612.76 435.58,612.51 439.16,612.27 442.74,612.03 446.32,611.79 449.9,611.55 453.48,611.3 457.06,611.05 460.64,610.8 464.23,610.53 467.81,610.27 471.39,609.99 474.97,609.69 478.55,609.36 482.13,609.03 485.71,608.69 489.29,608.34 492.88,608 496.46,607.67 500.04,607.35 503.62,607.05 507.2,606.78 510.78,606.55 514.36,606.33 517.94,606.13 521.52,605.94 525.11,605.75 528.69,605.58 532.27,605.41 535.85,605.25 539.43,605.09 543.01,604.92 546.59,604.76 550.17,604.59 553.76,604.42 557.34,604.25 560.92,604.08 564.5,603.92 568.08,603.75 571.66,603.59 575.24,603.42 578.83,603.27 582.41,603.11 585.99,602.96 589.57,602.82 593.15,602.68 596.73,602.55 600.31,602.43 603.89,602.32 607.48,602.2 611.06,602.09 614.64,601.98 618.22,601.86 621.8,601.73 625.38,601.59 628.96,601.44 632.54,601.28 636.12,601.1 639.71,600.91 643.29,600.71 646.87,600.5 650.45,600.28 654.03,600.04 657.61,599.8 661.19,599.56 664.78,599.3 664.78,611.1 661.19,610.95 657.61,610.79 654.03,610.64 650.45,610.48 646.87,610.31 643.29,610.15 639.71,609.98 636.12,609.8 632.54,609.63 628.96,609.45 625.38,609.25 621.8,609.03 618.22,608.8 614.64,608.56 611.06,608.32 607.48,608.09 603.89,607.88 600.31,607.68 596.73,607.51 593.15,607.38 589.57,607.29 585.99,607.22 582.41,607.15 578.83,607.09 575.24,607.03 571.66,606.97 568.08,606.92 564.5,606.88 560.92,606.85 557.34,606.82 553.76,606.81 550.17,606.8 546.59,606.8 543.01,606.81 539.43,606.82 535.85,606.83 532.27,606.84 528.69,606.86 525.11,606.88 521.52,606.9 517.94,606.93 514.36,606.96 510.78,606.99 507.2,607.05 503.62,607.21 500.04,607.44 496.46,607.73 492.88,608.07 489.29,608.45 485.71,608.84 482.13,609.24 478.55,609.62 474.97,609.98 471.39,610.29 467.81,610.56 464.23,610.81 460.64,611.05 457.06,611.29 453.48,611.52 449.9,611.74 446.32,611.97 442.74,612.19 439.16,612.41 435.58,612.64 431.99,612.87 428.41,613.1 424.83,613.34 421.25,613.58 417.67,613.82 414.09,614.06 410.51,614.29 406.93,614.53 403.34,614.77 399.76,615.02 396.18,615.26 392.6,615.5" fill="#0000ff" fill-opacity="0.3" stroke="none"/>
<polygon points="392.6,616.3 396.18,616.44 399.76,616.59 403.34,616.73 406.93,616.87 410.51,617.02 414.09,617.16 417.67,617.31 421.25,617.45 424.83,617.59 428.41,617.74 431.99,617.93 435.58,618.16 439.16,618.4 442.74,618.63 446.32,618.86 449.9,619.1 453.48,619.33 457.06,619.56 460.64,619.79 464.23,620.03 467.81,620.26 471.39,620.55 474.97,620.91 478.55,621.28 482.13,621.65 485.71,622.02 489.29,622.38 492.88,622.75 496.46,623.12 500.04,623.49 503.62,623.85 507.2,624.22 510.78,624.61 514.36,625.08 517.94,625.54 521.52,626 525.11,626.47 528.69,626.93 532.27,627.4 535.85,627.86 539.43,628.33 543.01,628.79 546.59,629.25 550.17,629.72 553.76,630.24 557.34,630.77 560.92,631.29 564.5,631.81 568.08,632.33 571.66,632.86 575.24,633.38 578.83,633.9 582.41,634.42 585.99,634.95 589.57,635.47 593.15,635.99 596.73,636.73 600.31,637.61 603.89,638.49 607.48,639.37 611.06,640.25 614.64,641.13 618.22,642.01 621.8,642.89 625.38,643.77 628.96,644.65 632.54,645.52 636.12,646.39 639.71,647.25 643.29,648.11 646.87,648.98 650.45,649.84 654.03,650.71 657.61,651.57 661.19,652.44 664.78,653.3 664.78,695.4 661.19,693.27 657.61,691.14 654.03,689.01 650.45,686.88 646.87,684.75 643.29,682.62 639.71,680.49 636.12,678.36 632.54,676.23 628.96,674.21 625.38,672.47 621.8,670.73 618.22,668.99 614.64,667.25 611.06,665.51 607.48,663.77 603.89,662.03 600.31,660.29 596.73,658.54 593.15,656.97 589.57,655.64 585.99,654.32 582.41,652.99 578.83,651.66 575.24,650.34 571.66,649.01 568.08,647.68 564.5,646.36 560.92,645.03 557.34,643.71 553.76,642.38 550.17,641.05 546.59,640.13 543.01,639.23 539.43,638.33 535.85,637.43 532.27,636.53 528.69,635.63 525.11,634.72 521.52,633.82 517.94,632.92 514.36,632.02 510.78,631.12 507.2,630.36 503.62,629.65 500.04,628.95 496.46,628.24 492.88,627.53 489.29,626.82 485.71,626.11 482.13,625.41 478.55,624.7 474.97,623.99 471.39,623.28 467.81,622.75 464.23,622.33 460.64,621.91 457.06,621.48 453.48,621.06 449.9,620.64 446.32,620.22 442.74,619.8 439.16,619.38 435.58,618.96 431.99,618.54 428.41,618.22 424.83,618.02 421.25,617.83 417.67,617.64 414.09,617.45 410.51,617.26 406.93,617.07 403.34,616.87 399.76,616.68 396.18,616.49 392.6,616.3" fill="#00ffff" fill-opacity="0.3" stroke="none"/>
<polyline points="392.6,615.5 396.18,615.29 399.76,615.07 403.34,614.83 406.93,614.59 410.51,614.33 414.09,614.07 417.67,613.8 421.25,613.52 424.83,613.23 428.41,612.93 431.99,612.63 435.58,612.3 439.16,611.96 442.74,611.6 446.32,611.23 449.9,610.85 453.48,610.46 457.06,610.07 460.64,609.69 464.23,609.3 467.81,608.92 471.39,608.55 474.97,608.17 478.55,607.77 482.13,607.36 485.71,606.95 489.29,606.54 492.88,606.15 496.46,605.77 500.04,605.42 503.62,605.09 507.2,604.8 510.78,604.54 514.36,604.31 517.94,604.1 521.52,603.89 525.11,603.7 528.69,603.52 532.27,603.34 535.85,603.18 539.43,603.02 543.01,602.87 546.59,602.73 550.17,602.59 553.76,602.46 557.34,602.31 560.92,602.16 564.5,602.02 568.08,601.88 571.66,601.74 575.24,601.62 578.83,601.52 582.41,601.43 585.99,601.36 589.57,601.32 593.15,601.3 596.73,601.32 600.31,601.37 603.89,601.45 607.48,601.55 611.06,601.67 614.64,601.79 618.22,601.92 621.8,602.05 625.38,602.17 628.96,602.27 632.54,602.36 636.12,602.45 639.71,602.54 643.29,602.62 646.87,602.71 650.45,602.79 654.03,602.87 657.61,602.95 661.19,603.02 664.78,603.1" fill="none" stroke="#ff0000" stroke-width="1.0" stroke-linejoin="round"/>
<polyline points="392.6,615.5 396.18,615.28 399.76,615.05 403.34,614.81 406.93,614.57 410.51,614.31 414.09,614.05 417.67,613.78 421.25,613.5 424.83,613.22 428.41,612.93 431.99,612.63 435.58,612.32 439.16,611.99 442.74,611.64 446.32,611.29 449.9,610.93 453.48,610.57 457.06,610.2 460.64,609.83 464.23,609.47 467.81,609.11 471.39,608.76 474.97,608.36 478.55,607.92 482.13,607.46 485.71,607 489.29,606.54 492.88,606.12 496.46,605.74 500.04,605.42 503.62,605.18 507.2,605.03 510.78,605 514.36,605.02 517.94,605.06 521.52,605.12 525.11,605.2 528.69,605.3 532.27,605.4 535.85,605.52 539.43,605.64 543.01,605.76 546.59,605.88 550.17,606 553.76,606.13 557.34,606.26 560.92,606.4 564.5,606.55 568.08,606.72 571.66,606.89 575.24,607.07 578.83,607.27 582.41,607.48 585.99,607.71 589.57,607.95 593.15,608.2 596.73,608.49 600.31,608.85 603.89,609.25 607.48,609.69 611.06,610.17 614.64,610.66 618.22,611.17 621.8,611.68 625.38,612.18 628.96,612.67 632.54,613.14 636.12,613.62 639.71,614.1 643.29,614.58 646.87,615.07 650.45,615.57 654.03,616.07 657.61,616.58 661.19,617.09 664.78,617.6" fill="none" stroke="#ff0000" stroke-width="1.0" stroke-linejoin="round"/>
<polyline points="392.6,616.3 396.18,616.46 399.76,616.64 403.34,616.85 406.93,617.09 410.51,617.34 414.09,617.61 417.67,617.9 421.25,618.21 424.83,618.52 428.41,618.85 431.99,619.2 435.58,619.58 439.16,620 442.74,620.45 446.32,620.94 449.9,621.44 453.48,621.97 457.06,622.51 460.64,623.06 464.23,623.61 467.81,624.17 471.39,624.72 474.97,625.29 478.55,625.87 482.13,626.47 485.71,627.08 489.29,627.7 492.88,628.33 496.46,628.98 500.04,629.64 503.62,630.3 507.2,630.98 510.78,631.67 514.36,632.38 517.94,633.11 521.52,633.87 525.11,634.64 528.69,635.42 532.27,636.21 535.85,637 539.43,637.78 543.01,638.55 546.59,639.3 550.17,640.03 553.76,640.73 557.34,641.42 560.92,642.09 564.5,642.75 568.08,643.41 571.66,644.06 575.24,644.72 578.83,645.39 582.41,646.08 585.99,646.78 589.57,647.51 593.15,648.27 596.73,649.06 600.31,649.87 603.89,650.7 607.48,651.55 611.06,652.4 614.64,653.26 618.22,654.11 621.8,654.95 625.38,655.77 628.96,656.58 632.54,657.36 636.12,658.14 639.71,658.91 643.29,659.67 646.87,660.43 650.45,661.18 654.03,661.92 657.61,662.65 661.19,663.38 664.78,664.1" fill="none" stroke="#008000" stroke-width="1.0" stroke-linejoin="round"/>
<polyline points="392.6,616.3 396.18,616.49 399.76,616.72 403.34,616.98 406.93,617.28 410.51,617.61 414.09,617.97 417.67,618.35 421.25,618.75 424.83,619.17 428.41,619.6 431.99,620.06 435.58,620.58 439.16,621.15 442.74,621.77 446.32,622.43 449.9,623.14 453.48,623.87 457.06,624.62 460.64,625.38 464.23,626.16 467.81,626.94 471.39,627.71 474.97,628.5 478.55,629.32 482.13,630.15 485.71,631.01 489.29,631.89 492.88,632.78 496.46,633.7 500.04,634.63 503.62,635.58 507.2,636.55 510.78,637.54 514.36,638.55 517.94,639.61 521.52,640.69 525.11,641.79 528.69,642.92 532.27,644.06 535.85,645.21 539.43,646.37 543.01,647.53 546.59,648.69 550.17,649.85 553.76,650.99 557.34,652.12 560.92,653.24 564.5,654.37 568.08,655.5 571.66,656.65 575.24,657.82 578.83,659.02 582.41,660.25 585.99,661.52 589.57,662.84 593.15,664.21 596.73,665.64 600.31,667.12 603.89,668.64 607.48,670.2 611.06,671.8 614.64,673.42 618.22,675.06 621.8,676.71 625.38,678.37 628.96,680.03 632.54,681.7 636.12,683.39 639.71,685.1 643.29,686.83 646.87,688.58 650.45,690.34 654.03,692.13 657.61,693.94 661.19,695.76 664.78,697.6" fill="none" stroke="#008000" stroke-width="1.0" stroke-linejoin="round"/>
<polyline points="392.6,615.5 396.18,615.25 399.76,615 403.34,614.75 406.93,614.51 410.51,614.26 414.09,614.01 417.67,613.76 421.25,613.51 424.83,613.26 428.41,613.01 431.99,612.76 435.58,612.51 439.16,612.27 442.74,612.03 446.32,611.79 449.9,611.55 453.48,611.3 457.06,611.05 460.64,610.8 464.23,610.53 467.81,610.27 471.39,609.99 474.97,609.69 478.55,609.36 482.13,609.03 485.71,608.69 489.29,608.34 492.88,608 496.46,607.67 500.04,607.35 503.62,607.05 507.2,606.78 510.78,606.55 514.36,606.33 517.94,606.13 521.52,605.94 525.11,605.75 528.69,605.58 532.27,605.41 535.85,605.25 539.43,605.09 543.01,604.92 546.59,604.76 550.17,604.59 553.76,604.42 557.34,604.25 560.92,604.08 564.5,603.92 568.08,603.75 571.66,603.59 575.24,603.42 578.83,603.27 582.41,603.11 585.99,602.96 589.57,602.82 593.15,602.68 596.73,602.55 600.31,602.43 603.89,602.32 607.48,602.2 611.06,602.09 614.64,601.98 618.22,601.86 621.8,601.73 625.38,601.59 628.96,601.44 632.54,601.28 636.12,601.1 639.71,600.91 643.29,600.71 646.87,600.5 650.45,600.28 654.03,600.04 657.61,599.8 661.19,599.56 664.78,599.3" fill="none" stroke="#0000ff" stroke-width="1.0" stroke-linejoin="round"/>
<polyline points="392.6,615.5 396.18,615.26 399.76,615.02 403.34,614.77 406.93,614.53 410.51,614.29 414.09,614.06 417.67,613.82 421.25,613.58 424.83,613.34 428.41,613.1 431.99,612.87 435.58,612.64 439.16,612.41 442.74,612.19 446.32,611.97 449.9,611.74 453.48,611.52 457.06,611.29 460.64,611.05 464.23,610.81 467.81,610.56 471.39,610.29 474.97,609.98 478.55,609.62 482.13,609.24 485.71,608.84 489.29,608.45 492.88,608.07 496.46,607.73 500.04,607.44 503.62,607.21 507.2,607.05 510.78,606.99 514.36,606.96 517.94,606.93 521.52,606.9 525.11,606.88 528.69,606.86 532.27,606.84 535.85,606.83 539.43,606.82 543.01,606.81 546.59,606.8 550.17,606.8 553.76,606.81 557.34,606.82 560.92,606.85 564.5,606.88 568.08,606.92 571.66,606.97 575.24,607.03 578.83,607.09 582.41,607.15 585.99,607.22 589.57,607.29 593.15,607.38 596.73,607.51 600.31,607.68 603.89,607.88 607.48,608.09 611.06,608.32 614.64,608.56 618.22,608.8 621.8,609.03 625.38,609.25 628.96,609.45 632.54,609.63 636.12,609.8 639.71,609.98 643.29,610.15 646.87,610.31 650.45,610.48 654.03,610.64 657.61,610.79 661.19,610.95 664.78,611.1" fill="none" stroke="#0000ff" stroke-width="1.0" stroke-linejoin="round"/>
<polyline points="392.6,616.3 396.18,616.44 399.76,616.59 403.34,616.73 406.93,616.87 410.51,617.02 414.09,617.16 417.67,617.31 421.25,617.45 424.83,617.59 428.41,617.74 431.99,617.93 435.58,618.16 439.16,618.4 442.74,618.63 446.32,618.86 449.9,619.1 453.48,619.33 457.06,619.56 460.64,619.79 464.23,620.03 467.81,620.26 471.39,620.55 474.97,620.91 478.55,621.28 482.13,621.65 485.71,622.02 489.29,622.38 492.88,622.75 496.46,623.12 500.04,623.49 503.62,623.85 507.2,624.22 510.78,624.61 514.36,625.08 517.94,625.54 521.52,626 525.11,626.47 528.69,626.93 532.27,627.4 535.85,627.86 539.43,628.33 543.01,628.79 546.59,629.25 550.17,629.72 553.76,630.24 557.34,630.77 560.92,631.29 564.5,631.81 568.08,632.33 571.66,632.86 575.24,633.38 578.83,633.9 582.41,634.42 585.99,634.95 589.57,635.47 593.15,635.99 596.73,636.73 600.31,637.61 603.89,638.49 607.48,639.37 611.06,640.25 614.64,641.13 618.22,642.01 621.8,642.89 625.38,643.77 628.96,644.65 632.54,645.52 636.12,646.39 639.71,647.25 643.29,648.11 646.87,648.98 650.45,649.84 654.03,650.71 657.61,651.57 661.19,652.44 664.78,653.3" fill="none" stroke="#00bfbf" stroke-width="1.0" stroke-linejoin="round"/>
<polyline points="392.6,616.3 396.18,616.49 399.76,616.68 403.34,616.87 406.93,617.07 410.51,617.26 414.09,617.45 417.67,617.64 421.25,617.83 424.83,618.02 428.41,618.22 431.99,618.54 435.58,618.96 439.16,619.38 442.74,619.8 446.32,620.22 449.9,620.64 453.48,621.06 457.06,621.48 460.64,621.91 464.23,622.33 467.81,622.75 471.39,623.28 474.97,623.99 478.55,624.7 482.13,625.41 485.71,626.11 489.29,626.82 492.88,627.53 496.46,628.24 500.04,628.95 503.62,629.65 507.2,630.36 510.78,631.12 514.36,632.02 517.94,632.92 521.52,633.82 525.11,634.72 528.69,635.63 532.27,636.53 535.85,637.43 539.43,638.33 543.01,639.23 546.59,640.13 550.17,641.05 553.76,642.38 557.34,643.71 560.92,645.03 564.5,646.36 568.08,647.68 571.66,649.01 575.24,650.34 578.83,651.66 582.41,652.99 585.99,654.32 589.57,655.64 593.15,656.97 596.73,658.54 600.31,660.29 603.89,662.03 607.48,663.77 611.06,665.51 614.64,667.25 618.22,668.99 621.8,670.73 625.38,672.47 628.96,674.21 632.54,676.23 636.12,678.36 639.71,680.49 643.29,682.62 646.87,684.75 650.45,686.88 654.03,689.01 657.61,691.14 661.19,693.27 664.78,695.4" fill="none" stroke="#00bfbf" stroke-width="1.0" stroke-linejoin="round"/>
<line x1="392.6" y1="608.3" x2="679.1" y2="608.3" stroke="#000" stroke-width="2.1"/>
</g>
<rect x="392.6" y="572.4" width="286.5" height="142.5" fill="none" stroke="#a2a2a2" stroke-width="1.2"/>
<line x1="390.4" y1="572.7" x2="392.6" y2="572.7" stroke="#a2a2a2" stroke-width="1"/>
<text x="389.8" y="576.5" font-size="9.54" text-anchor="end" textLength="11.45" lengthAdjust="spacingAndGlyphs">50</text>
<line x1="390.4" y1="608.3" x2="392.6" y2="608.3" stroke="#a2a2a2" stroke-width="1"/>
<text x="389.8" y="612.1" font-size="9.54" text-anchor="end" textLength="5.73" lengthAdjust="spacingAndGlyphs">0</text>
<line x1="390.4" y1="643.9" x2="392.6" y2="643.9" stroke="#a2a2a2" stroke-width="1"/>
<text x="389.8" y="647.7" font-size="9.54" text-anchor="end" textLength="18.99" lengthAdjust="spacingAndGlyphs">−50</text>
<line x1="390.4" y1="679.5" x2="392.6" y2="679.5" stroke="#a2a2a2" stroke-width="1"/>
<text x="389.8" y="683.3" font-size="9.54" text-anchor="end" textLength="24.72" lengthAdjust="spacingAndGlyphs">−100</text>
<line x1="390.4" y1="715.1" x2="392.6" y2="715.1" stroke="#a2a2a2" stroke-width="1"/>
<text x="389.8" y="718.9" font-size="9.54" text-anchor="end" textLength="24.72" lengthAdjust="spacingAndGlyphs">−150</text>
<text x="535.85" y="569.8" font-size="13.3" text-anchor="middle" textLength="58.67" lengthAdjust="spacingAndGlyphs">Winnipeg</text>
<text x="361.9" y="644.45" font-size="9.09" text-anchor="middle" textLength="129.9" lengthAdjust="spacingAndGlyphs" transform="rotate(-90 361.9 644.45)">Cost Difference [1000 Dollars]</text>
<rect x="397.2" y="656.2" width="42.26" height="54.5" rx="2" ry="2" fill="#fff" fill-opacity="0.8" stroke="#d9d9d9" stroke-opacity="0.8" stroke-width="0.9"/>
<rect x="400" y="660.35" width="17.3" height="5.9" fill="#ff0000" fill-opacity="0.3"/>
<text x="424.4" y="666.5" font-size="9.28" text-anchor="start" textLength="11.26" lengthAdjust="spacingAndGlyphs">PV</text>
<rect x="400" y="673.35" width="17.3" height="5.9" fill="#008000" fill-opacity="0.3"/>
<text x="424.4" y="679.5" font-size="9.28" text-anchor="start" textLength="11.53" lengthAdjust="spacingAndGlyphs">BE</text>
<rect x="400" y="686.35" width="17.3" height="5.9" fill="#0000ff" fill-opacity="0.3"/>
<text x="424.4" y="692.5" font-size="9.28" text-anchor="start" textLength="11.86" lengthAdjust="spacingAndGlyphs">HP</text>
<rect x="400" y="699.35" width="17.3" height="5.9" fill="#00ffff" fill-opacity="0.3"/>
<text x="424.4" y="705.5" font-size="9.28" text-anchor="start" textLength="10.85" lengthAdjust="spacingAndGlyphs">All</text>
</g>
<g>
<clipPath id="c04"><rect x="38.5" y="758.9" width="286.5" height="142.5"/></clipPath>
<g clip-path="url(#c04)">
<polygon points="38.5,776.6 42.08,776.48 45.66,776.35 49.24,776.23 52.83,776.1 56.41,775.98 59.99,775.87 63.57,775.78 67.15,775.7 70.73,775.64 74.31,775.61 77.89,775.6 81.47,775.59 85.06,775.58 88.64,775.58 92.22,775.57 95.8,775.57 99.38,775.56 102.96,775.56 106.54,775.55 110.12,775.55 113.71,775.54 117.29,775.54 120.87,775.53 124.45,775.53 128.03,775.53 131.61,775.52 135.19,775.52 138.77,775.52 142.36,775.52 145.94,775.51 149.52,775.51 153.1,775.51 156.68,775.51 160.26,775.51 163.84,775.51 167.42,775.5 171.01,775.5 174.59,775.5 178.17,775.5 181.75,775.5 185.33,775.5 188.91,775.5 192.49,775.5 196.07,775.5 199.66,775.5 203.24,775.5 206.82,775.51 210.4,775.52 213.98,775.52 217.56,775.53 221.14,775.55 224.72,775.56 228.31,775.57 231.89,775.59 235.47,775.61 239.05,775.63 242.63,775.65 246.21,775.67 249.79,775.69 253.38,775.71 256.96,775.74 260.54,775.76 264.12,775.79 267.7,775.82 271.28,775.85 274.86,775.88 278.44,775.91 282.02,775.94 285.61,775.97 289.19,776 292.77,776.03 296.35,776.07 299.93,776.1 303.51,776.13 307.09,776.17 310.68,776.2 310.68,779.8 307.09,779.7 303.51,779.6 299.93,779.5 296.35,779.39 292.77,779.29 289.19,779.19 285.61,779.08 282.02,778.98 278.44,778.88 274.86,778.77 271.28,778.66 267.7,778.55 264.12,778.43 260.54,778.32 256.96,778.2 253.38,778.08 249.79,777.97 246.21,777.87 242.63,777.77 239.05,777.67 235.47,777.59 231.89,777.51 228.31,777.44 224.72,777.36 221.14,777.29 217.56,777.22 213.98,777.16 210.4,777.09 206.82,777.04 203.24,776.99 199.66,776.94 196.07,776.9 192.49,776.87 188.91,776.83 185.33,776.8 181.75,776.78 178.17,776.75 174.59,776.72 171.01,776.7 167.42,776.68 163.84,776.66 160.26,776.64 156.68,776.62 153.1,776.6 149.52,776.58 145.94,776.56 142.36,776.54 138.77,776.52 135.19,776.5 131.61,776.49 128.03,776.47 124.45,776.45 120.87,776.43 117.29,776.41 113.71,776.4 110.12,776.38 106.54,776.37 102.96,776.35 99.38,776.34 95.8,776.33 92.22,776.32 88.64,776.31 85.06,776.31 81.47,776.3 77.89,776.3 74.31,776.3 70.73,776.31 67.15,776.32 63.57,776.34 59.99,776.37 56.41,776.4 52.83,776.44 49.24,776.48 45.66,776.52 42.08,776.56 38.5,776.6" fill="#ff0000" fill-opacity="0.3" stroke="none"/>
<polygon points="38.5,779 42.08,779.58 45.66,780.16 49.24,780.73 52.83,781.3 56.41,781.87 59.99,782.43 63.57,782.99 67.15,783.55 70.73,784.09 74.31,784.64 77.89,785.18 81.47,785.72 85.06,786.25 88.64,786.78 92.22,787.31 95.8,787.83 99.38,788.35 102.96,788.86 106.54,789.37 110.12,789.88 113.71,790.38 117.29,790.88 120.87,791.36 124.45,791.84 128.03,792.3 131.61,792.76 135.19,793.22 138.77,793.68 142.36,794.15 145.94,794.62 149.52,795.1 153.1,795.59 156.68,796.1 160.26,796.63 163.84,797.18 167.42,797.75 171.01,798.32 174.59,798.9 178.17,799.48 181.75,800.07 185.33,800.65 188.91,801.22 192.49,801.78 196.07,802.32 199.66,802.85 203.24,803.37 206.82,803.88 210.4,804.39 213.98,804.89 217.56,805.39 221.14,805.89 224.72,806.39 228.31,806.9 231.89,807.41 235.47,807.94 239.05,808.47 242.63,809.01 246.21,809.55 249.79,810.1 253.38,810.65 256.96,811.21 260.54,811.76 264.12,812.31 267.7,812.86 271.28,813.41 274.86,813.95 278.44,814.48 282.02,815.02 285.61,815.55 289.19,816.08 292.77,816.6 296.35,817.13 299.93,817.65 303.51,818.17 307.09,818.68 310.68,819.2 310.68,892.2 307.09,889.59 303.51,887 299.93,884.45 296.35,881.91 292.77,879.41 289.19,876.94 285.61,874.49 282.02,872.08 278.44,869.69 274.86,867.34 271.28,865.01 267.7,862.69 264.12,860.38 260.54,858.1 256.96,855.85 253.38,853.62 249.79,851.44 246.21,849.29 242.63,847.2 239.05,845.15 235.47,843.16 231.89,841.22 228.31,839.3 224.72,837.41 221.14,835.56 217.56,833.75 213.98,831.97 210.4,830.22 206.82,828.52 203.24,826.86 199.66,825.24 196.07,823.66 192.49,822.13 188.91,820.64 185.33,819.18 181.75,817.75 178.17,816.36 174.59,815 171.01,813.65 167.42,812.33 163.84,811.03 160.26,809.73 156.68,808.45 153.1,807.18 149.52,805.9 145.94,804.63 142.36,803.37 138.77,802.13 135.19,800.91 131.61,799.72 128.03,798.56 124.45,797.45 120.87,796.37 117.29,795.35 113.71,794.39 110.12,793.45 106.54,792.55 102.96,791.68 99.38,790.83 95.8,790.01 92.22,789.21 88.64,788.43 85.06,787.66 81.47,786.91 77.89,786.18 74.31,785.45 70.73,784.74 67.15,784.04 63.57,783.36 59.99,782.69 56.41,782.03 52.83,781.39 49.24,780.77 45.66,780.16 42.08,779.57 38.5,779" fill="#008000" fill-opacity="0.3" stroke="none"/>
<polygon points="38.5,776.6 42.08,776.72 45.66,776.84 49.24,776.96 52.83,777.08 56.41,777.19 59.99,777.31 63.57,777.42 67.15,777.53 70.73,777.64 74.31,777.75 77.89,777.85 81.47,777.96 85.06,778.06 88.64,778.15 92.22,778.25 95.8,778.34 99.38,778.44 102.96,778.53 106.54,778.63 110.12,778.73 113.71,778.83 117.29,778.94 120.87,779.05 124.45,779.17 128.03,779.29 131.61,779.41 135.19,779.53 138.77,779.65 142.36,779.77 145.94,779.89 149.52,780.01 153.1,780.12 156.68,780.22 160.26,780.32 163.84,780.41 167.42,780.49 171.01,780.58 174.59,780.66 178.17,780.74 181.75,780.82 185.33,780.91 188.91,781 192.49,781.1 196.07,781.2 199.66,781.32 203.24,781.44 206.82,781.58 210.4,781.72 213.98,781.86 217.56,782.01 221.14,782.16 224.72,782.32 228.31,782.47 231.89,782.63 235.47,782.78 239.05,782.94 242.63,783.1 246.21,783.28 249.79,783.46 253.38,783.64 256.96,783.81 260.54,783.99 264.12,784.15 267.7,784.31 271.28,784.45 274.86,784.57 278.44,784.68 282.02,784.78 285.61,784.88 289.19,784.98 292.77,785.06 296.35,785.15 299.93,785.22 303.51,785.29 307.09,785.35 310.68,785.4 310.68,804.3 307.09,803.51 303.51,802.73 299.93,801.97 296.35,801.23 292.77,800.51 289.19,799.81 285.61,799.13 282.02,798.47 278.44,797.84 274.86,797.23 271.28,796.64 267.7,796.07 264.12,795.52 260.54,794.98 256.96,794.46 253.38,793.94 249.79,793.44 246.21,792.96 242.63,792.48 239.05,792.01 235.47,791.54 231.89,791.09 228.31,790.66 224.72,790.23 221.14,789.82 217.56,789.41 213.98,789.01 210.4,788.61 206.82,788.22 203.24,787.82 199.66,787.42 196.07,787.02 192.49,786.6 188.91,786.17 185.33,785.72 181.75,785.28 178.17,784.83 174.59,784.4 171.01,783.98 167.42,783.58 163.84,783.2 160.26,782.86 156.68,782.56 153.1,782.29 149.52,782.04 145.94,781.82 142.36,781.61 138.77,781.41 135.19,781.22 131.61,781.03 128.03,780.85 124.45,780.66 120.87,780.47 117.29,780.27 113.71,780.07 110.12,779.85 106.54,779.63 102.96,779.41 99.38,779.19 95.8,778.96 92.22,778.75 88.64,778.54 85.06,778.34 81.47,778.15 77.89,777.98 74.31,777.83 70.73,777.68 67.15,777.53 63.57,777.39 59.99,777.26 56.41,777.13 52.83,777.01 49.24,776.89 45.66,776.79 42.08,776.69 38.5,776.6" fill="#0000ff" fill-opacity="0.3" stroke="none"/>
<polygon points="38.5,776.2 42.08,776.14 45.66,776.08 49.24,776.02 52.83,775.96 56.41,775.9 59.99,775.84 63.57,775.79 67.15,775.73 70.73,775.67 74.31,775.62 77.89,775.57 81.47,775.52 85.06,775.48 88.64,775.44 92.22,775.4 95.8,775.37 99.38,775.34 102.96,775.32 106.54,775.31 110.12,775.3 113.71,775.3 117.29,775.29 120.87,775.29 124.45,775.28 128.03,775.28 131.61,775.28 135.19,775.27 138.77,775.27 142.36,775.27 145.94,775.26 149.52,775.26 153.1,775.26 156.68,775.26 160.26,775.25 163.84,775.25 167.42,775.25 171.01,775.24 174.59,775.24 178.17,775.24 181.75,775.24 185.33,775.24 188.91,775.23 192.49,775.23 196.07,775.23 199.66,775.23 203.24,775.23 206.82,775.22 210.4,775.22 213.98,775.22 217.56,775.22 221.14,775.22 224.72,775.22 228.31,775.21 231.89,775.21 235.47,775.21 239.05,775.21 242.63,775.21 246.21,775.21 249.79,775.21 253.38,775.21 256.96,775.21 260.54,775.21 264.12,775.2 267.7,775.2 271.28,775.2 274.86,775.2 278.44,775.2 282.02,775.2 285.61,775.2 289.19,775.2 292.77,775.2 296.35,775.2 299.93,775.2 303.51,775.2 307.09,775.2 310.68,775.2 310.68,775.8 307.09,775.78 303.51,775.77 299.93,775.75 296.35,775.74 292.77,775.73 289.19,775.71 285.61,775.7 282.02,775.69 278.44,775.68 274.86,775.67 271.28,775.66 267.7,775.65 264.12,775.64 260.54,775.63 256.96,775.62 253.38,775.61 249.79,775.6 246.21,775.59 242.63,775.59 239.05,775.58 235.47,775.57 231.89,775.57 228.31,775.56 224.72,775.56 221.14,775.55 217.56,775.55 213.98,775.54 210.4,775.54 206.82,775.53 203.24,775.53 199.66,775.53 196.07,775.52 192.49,775.52 188.91,775.52 185.33,775.52 181.75,775.51 178.17,775.51 174.59,775.51 171.01,775.51 167.42,775.51 163.84,775.51 160.26,775.5 156.68,775.5 153.1,775.5 149.52,775.5 145.94,775.5 142.36,775.5 138.77,775.5 135.19,775.5 131.61,775.5 128.03,775.5 124.45,775.5 120.87,775.5 117.29,775.5 113.71,775.5 110.12,775.5 106.54,775.5 102.96,775.51 99.38,775.53 95.8,775.54 92.22,775.57 88.64,775.59 85.06,775.62 81.47,775.66 77.89,775.7 74.31,775.74 70.73,775.78 67.15,775.82 63.57,775.87 59.99,775.91 56.41,775.96 52.83,776.01 49.24,776.06 45.66,776.11 42.08,776.15 38.5,776.2" fill="#ffff00" fill-opacity="0.3" stroke="none"/>
<polygon points="38.5,773.8 42.08,774.56 45.66,775.31 49.24,776.04 52.83,776.75 56.41,777.43 59.99,778.1 63.57,778.75 67.15,779.37 70.73,779.97 74.31,780.54 77.89,781.08 81.47,781.59 85.06,782.08 88.64,782.54 92.22,782.99 95.8,783.43 99.38,783.86 102.96,784.28 106.54,784.71 110.12,785.15 113.71,785.6 117.29,786.07 120.87,786.54 124.45,787 128.03,787.47 131.61,787.94 135.19,788.41 138.77,788.89 142.36,789.38 145.94,789.87 149.52,790.37 153.1,790.88 156.68,791.41 160.26,791.95 163.84,792.51 167.42,793.09 171.01,793.68 174.59,794.27 178.17,794.87 181.75,795.48 185.33,796.07 188.91,796.67 192.49,797.25 196.07,797.82 199.66,798.38 203.24,798.93 206.82,799.48 210.4,800.02 213.98,800.56 217.56,801.1 221.14,801.64 224.72,802.18 228.31,802.73 231.89,803.28 235.47,803.83 239.05,804.4 242.63,804.98 246.21,805.56 249.79,806.15 253.38,806.74 256.96,807.34 260.54,807.92 264.12,808.5 267.7,809.07 271.28,809.62 274.86,810.15 278.44,810.67 282.02,811.18 285.61,811.68 289.19,812.16 292.77,812.64 296.35,813.11 299.93,813.58 303.51,814.03 307.09,814.47 310.68,814.9 310.68,895.4 307.09,892.27 303.51,889.18 299.93,886.16 296.35,883.19 292.77,880.28 289.19,877.44 285.61,874.67 282.02,871.97 278.44,869.34 274.86,866.79 271.28,864.31 267.7,861.89 264.12,859.51 260.54,857.19 256.96,854.92 253.38,852.7 249.79,850.51 246.21,848.37 242.63,846.27 239.05,844.2 235.47,842.16 231.89,840.14 228.31,838.15 224.72,836.18 221.14,834.24 217.56,832.33 213.98,830.46 210.4,828.64 206.82,826.86 203.24,825.14 199.66,823.47 196.07,821.86 192.49,820.32 188.91,818.85 185.33,817.43 181.75,816.06 178.17,814.72 174.59,813.4 171.01,812.09 167.42,810.79 163.84,809.48 160.26,808.14 156.68,806.78 153.1,805.36 149.52,803.89 145.94,802.38 142.36,800.85 138.77,799.32 135.19,797.8 131.61,796.31 128.03,794.88 124.45,793.52 120.87,792.25 117.29,791.09 113.71,790.04 110.12,789.05 106.54,788.11 102.96,787.23 99.38,786.38 95.8,785.56 92.22,784.76 88.64,783.99 85.06,783.22 81.47,782.46 77.89,781.7 74.31,780.93 70.73,780.17 67.15,779.41 63.57,778.67 59.99,777.94 56.41,777.22 52.83,776.51 49.24,775.82 45.66,775.13 42.08,774.46 38.5,773.8" fill="#00ffff" fill-opacity="0.3" stroke="none"/>
<polyline points="38.5,776.6 42.08,776.48 45.66,776.35 49.24,776.23 52.83,776.1 56.41,775.98 59.99,775.87 63.57,775.78 67.15,775.7 70.73,775.64 74.31,775.61 77.89,775.6 81.47,775.59 85.06,775.58 88.64,775.58 92.22,775.57 95.8,775.57 99.38,775.56 102.96,775.56 106.54,775.55 110.12,775.55 113.71,775.54 117.29,775.54 120.87,775.53 124.45,775.53 128.03,775.53 131.61,775.52 135.19,775.52 138.77,775.52 142.36,775.52 145.94,775.51 149.52,775.51 153.1,775.51 156.68,775.51 160.26,775.51 163.84,775.51 167.42,775.5 171.01,775.5 174.59,775.5 178.17,775.5 181.75,775.5 185.33,775.5 188.91,775.5 192.49,775.5 196.07,775.5 199.66,775.5 203.24,775.5 206.82,775.51 210.4,775.52 213.98,775.52 217.56,775.53 221.14,775.55 224.72,775.56 228.31,775.57 231.89,775.59 235.47,775.61 239.05,775.63 242.63,775.65 246.21,775.67 249.79,775.69 253.38,775.71 256.96,775.74 260.54,775.76 264.12,775.79 267.7,775.82 271.28,775.85 274.86,775.88 278.44,775.91 282.02,775.94 285.61,775.97 289.19,776 292.77,776.03 296.35,776.07 299.93,776.1 303.51,776.13 307.09,776.17 310.68,776.2" fill="none" stroke="#ff0000" stroke-width="1.0" stroke-linejoin="round"/>
<polyline points="38.5,776.6 42.08,776.56 45.66,776.52 49.24,776.48 52.83,776.44 56.41,776.4 59.99,776.37 63.57,776.34 67.15,776.32 70.73,776.31 74.31,776.3 77.89,776.3 81.47,776.3 85.06,776.31 88.64,776.31 92.22,776.32 95.8,776.33 99.38,776.34 102.96,776.35 106.54,776.37 110.12,776.38 113.71,776.4 117.29,776.41 120.87,776.43 124.45,776.45 128.03,776.47 131.61,776.49 135.19,776.5 138.77,776.52 142.36,776.54 145.94,776.56 149.52,776.58 153.1,776.6 156.68,776.62 160.26,776.64 163.84,776.66 167.42,776.68 171.01,776.7 174.59,776.72 178.17,776.75 181.75,776.78 185.33,776.8 188.91,776.83 192.49,776.87 196.07,776.9 199.66,776.94 203.24,776.99 206.82,777.04 210.4,777.09 213.98,777.16 217.56,777.22 221.14,777.29 224.72,777.36 228.31,777.44 231.89,777.51 235.47,777.59 239.05,777.67 242.63,777.77 246.21,777.87 249.79,777.97 253.38,778.08 256.96,778.2 260.54,778.32 264.12,778.43 267.7,778.55 271.28,778.66 274.86,778.77 278.44,778.88 282.02,778.98 285.61,779.08 289.19,779.19 292.77,779.29 296.35,779.39 299.93,779.5 303.51,779.6 307.09,779.7 310.68,779.8" fill="none" stroke="#ff0000" stroke-width="1.0" stroke-linejoin="round"/>
<polyline points="38.5,779 42.08,779.58 45.66,780.16 49.24,780.73 52.83,781.3 56.41,781.87 59.99,782.43 63.57,782.99 67.15,783.55 70.73,784.09 74.31,784.64 77.89,785.18 81.47,785.72 85.06,786.25 88.64,786.78 92.22,787.31 95.8,787.83 99.38,788.35 102.96,788.86 106.54,789.37 110.12,789.88 113.71,790.38 117.29,790.88 120.87,791.36 124.45,791.84 128.03,792.3 131.61,792.76 135.19,793.22 138.77,793.68 142.36,794.15 145.94,794.62 149.52,795.1 153.1,795.59 156.68,796.1 160.26,796.63 163.84,797.18 167.42,797.75 171.01,798.32 174.59,798.9 178.17,799.48 181.75,800.07 185.33,800.65 188.91,801.22 192.49,801.78 196.07,802.32 199.66,802.85 203.24,803.37 206.82,803.88 210.4,804.39 213.98,804.89 217.56,805.39 221.14,805.89 224.72,806.39 228.31,806.9 231.89,807.41 235.47,807.94 239.05,808.47 242.63,809.01 246.21,809.55 249.79,810.1 253.38,810.65 256.96,811.21 260.54,811.76 264.12,812.31 267.7,812.86 271.28,813.41 274.86,813.95 278.44,814.48 282.02,815.02 285.61,815.55 289.19,816.08 292.77,816.6 296.35,817.13 299.93,817.65 303.51,818.17 307.09,818.68 310.68,819.2" fill="none" stroke="#008000" stroke-width="1.0" stroke-linejoin="round"/>
<polyline points="38.5,779 42.08,779.57 45.66,780.16 49.24,780.77 52.83,781.39 56.41,782.03 59.99,782.69 63.57,783.36 67.15,784.04 70.73,784.74 74.31,785.45 77.89,786.18 81.47,786.91 85.06,787.66 88.64,788.43 92.22,789.21 95.8,790.01 99.38,790.83 102.96,791.68 106.54,792.55 110.12,793.45 113.71,794.39 117.29,795.35 120.87,796.37 124.45,797.45 128.03,798.56 131.61,799.72 135.19,800.91 138.77,802.13 142.36,803.37 145.94,804.63 149.52,805.9 153.1,807.18 156.68,808.45 160.26,809.73 163.84,811.03 167.42,812.33 171.01,813.65 174.59,815 178.17,816.36 181.75,817.75 185.33,819.18 188.91,820.64 192.49,822.13 196.07,823.66 199.66,825.24 203.24,826.86 206.82,828.52 210.4,830.22 213.98,831.97 217.56,833.75 221.14,835.56 224.72,837.41 228.31,839.3 231.89,841.22 235.47,843.16 239.05,845.15 242.63,847.2 246.21,849.29 249.79,851.44 253.38,853.62 256.96,855.85 260.54,858.1 264.12,860.38 267.7,862.69 271.28,865.01 274.86,867.34 278.44,869.69 282.02,872.08 285.61,874.49 289.19,876.94 292.77,879.41 296.35,881.91 299.93,884.45 303.51,887 307.09,889.59 310.68,892.2" fill="none" stroke="#008000" stroke-width="1.0" stroke-linejoin="round"/>
<polyline points="38.5,776.6 42.08,776.72 45.66,776.84 49.24,776.96 52.83,777.08 56.41,777.19 59.99,777.31 63.57,777.42 67.15,777.53 70.73,777.64 74.31,777.75 77.89,777.85 81.47,777.96 85.06,778.06 88.64,778.15 92.22,778.25 95.8,778.34 99.38,778.44 102.96,778.53 106.54,778.63 110.12,778.73 113.71,778.83 117.29,778.94 120.87,779.05 124.45,779.17 128.03,779.29 131.61,779.41 135.19,779.53 138.77,779.65 142.36,779.77 145.94,779.89 149.52,780.01 153.1,780.12 156.68,780.22 160.26,780.32 163.84,780.41 167.42,780.49 171.01,780.58 174.59,780.66 178.17,780.74 181.75,780.82 185.33,780.91 188.91,781 192.49,781.1 196.07,781.2 199.66,781.32 203.24,781.44 206.82,781.58 210.4,781.72 213.98,781.86 217.56,782.01 221.14,782.16 224.72,782.32 228.31,782.47 231.89,782.63 235.47,782.78 239.05,782.94 242.63,783.1 246.21,783.28 249.79,783.46 253.38,783.64 256.96,783.81 260.54,783.99 264.12,784.15 267.7,784.31 271.28,784.45 274.86,784.57 278.44,784.68 282.02,784.78 285.61,784.88 289.19,784.98 292.77,785.06 296.35,785.15 299.93,785.22 303.51,785.29 307.09,785.35 310.68,785.4" fill="none" stroke="#0000ff" stroke-width="1.0" stroke-linejoin="round"/>
<polyline points="38.5,776.6 42.08,776.69 45.66,776.79 49.24,776.89 52.83,777.01 56.41,777.13 59.99,777.26 63.57,777.39 67.15,777.53 70.73,777.68 74.31,777.83 77.89,777.98 81.47,778.15 85.06,778.34 88.64,778.54 92.22,778.75 95.8,778.96 99.38,779.19 102.96,779.41 106.54,779.63 110.12,779.85 113.71,780.07 117.29,780.27 120.87,780.47 124.45,780.66 128.03,780.85 131.61,781.03 135.19,781.22 138.77,781.41 142.36,781.61 145.94,781.82 149.52,782.04 153.1,782.29 156.68,782.56 160.26,782.86 163.84,783.2 167.42,783.58 171.01,783.98 174.59,784.4 178.17,784.83 181.75,785.28 185.33,785.72 188.91,786.17 192.49,786.6 196.07,787.02 199.66,787.42 203.24,787.82 206.82,788.22 210.4,788.61 213.98,789.01 217.56,789.41 221.14,789.82 224.72,790.23 228.31,790.66 231.89,791.09 235.47,791.54 239.05,792.01 242.63,792.48 246.21,792.96 249.79,793.44 253.38,793.94 256.96,794.46 260.54,794.98 264.12,795.52 267.7,796.07 271.28,796.64 274.86,797.23 278.44,797.84 282.02,798.47 285.61,799.13 289.19,799.81 292.77,800.51 296.35,801.23 299.93,801.97 303.51,802.73 307.09,803.51 310.68,804.3" fill="none" stroke="#0000ff" stroke-width="1.0" stroke-linejoin="round"/>
<polyline points="38.5,776.2 42.08,776.14 45.66,776.08 49.24,776.02 52.83,775.96 56.41,775.9 59.99,775.84 63.57,775.79 67.15,775.73 70.73,775.67 74.31,775.62 77.89,775.57 81.47,775.52 85.06,775.48 88.64,775.44 92.22,775.4 95.8,775.37 99.38,775.34 102.96,775.32 106.54,775.31 110.12,775.3 113.71,775.3 117.29,775.29 120.87,775.29 124.45,775.28 128.03,775.28 131.61,775.28 135.19,775.27 138.77,775.27 142.36,775.27 145.94,775.26 149.52,775.26 153.1,775.26 156.68,775.26 160.26,775.25 163.84,775.25 167.42,775.25 171.01,775.24 174.59,775.24 178.17,775.24 181.75,775.24 185.33,775.24 188.91,775.23 192.49,775.23 196.07,775.23 199.66,775.23 203.24,775.23 206.82,775.22 210.4,775.22 213.98,775.22 217.56,775.22 221.14,775.22 224.72,775.22 228.31,775.21 231.89,775.21 235.47,775.21 239.05,775.21 242.63,775.21 246.21,775.21 249.79,775.21 253.38,775.21 256.96,775.21 260.54,775.21 264.12,775.2 267.7,775.2 271.28,775.2 274.86,775.2 278.44,775.2 282.02,775.2 285.61,775.2 289.19,775.2 292.77,775.2 296.35,775.2 299.93,775.2 303.51,775.2 307.09,775.2 310.68,775.2" fill="none" stroke="#bfbf00" stroke-width="1.0" stroke-linejoin="round"/>
<polyline points="38.5,776.2 42.08,776.15 45.66,776.11 49.24,776.06 52.83,776.01 56.41,775.96 59.99,775.91 63.57,775.87 67.15,775.82 70.73,775.78 74.31,775.74 77.89,775.7 81.47,775.66 85.06,775.62 88.64,775.59 92.22,775.57 95.8,775.54 99.38,775.53 102.96,775.51 106.54,775.5 110.12,775.5 113.71,775.5 117.29,775.5 120.87,775.5 124.45,775.5 128.03,775.5 131.61,775.5 135.19,775.5 138.77,775.5 142.36,775.5 145.94,775.5 149.52,775.5 153.1,775.5 156.68,775.5 160.26,775.5 163.84,775.51 167.42,775.51 171.01,775.51 174.59,775.51 178.17,775.51 181.75,775.51 185.33,775.52 188.91,775.52 192.49,775.52 196.07,775.52 199.66,775.53 203.24,775.53 206.82,775.53 210.4,775.54 213.98,775.54 217.56,775.55 221.14,775.55 224.72,775.56 228.31,775.56 231.89,775.57 235.47,775.57 239.05,775.58 242.63,775.59 246.21,775.59 249.79,775.6 253.38,775.61 256.96,775.62 260.54,775.63 264.12,775.64 267.7,775.65 271.28,775.66 274.86,775.67 278.44,775.68 282.02,775.69 285.61,775.7 289.19,775.71 292.77,775.73 296.35,775.74 299.93,775.75 303.51,775.77 307.09,775.78 310.68,775.8" fill="none" stroke="#bfbf00" stroke-width="1.0" stroke-linejoin="round"/>
<polyline points="38.5,773.8 42.08,774.56 45.66,775.31 49.24,776.04 52.83,776.75 56.41,777.43 59.99,778.1 63.57,778.75 67.15,779.37 70.73,779.97 74.31,780.54 77.89,781.08 81.47,781.59 85.06,782.08 88.64,782.54 92.22,782.99 95.8,783.43 99.38,783.86 102.96,784.28 106.54,784.71 110.12,785.15 113.71,785.6 117.29,786.07 120.87,786.54 124.45,787 128.03,787.47 131.61,787.94 135.19,788.41 138.77,788.89 142.36,789.38 145.94,789.87 149.52,790.37 153.1,790.88 156.68,791.41 160.26,791.95 163.84,792.51 167.42,793.09 171.01,793.68 174.59,794.27 178.17,794.87 181.75,795.48 185.33,796.07 188.91,796.67 192.49,797.25 196.07,797.82 199.66,798.38 203.24,798.93 206.82,799.48 210.4,800.02 213.98,800.56 217.56,801.1 221.14,801.64 224.72,802.18 228.31,802.73 231.89,803.28 235.47,803.83 239.05,804.4 242.63,804.98 246.21,805.56 249.79,806.15 253.38,806.74 256.96,807.34 260.54,807.92 264.12,808.5 267.7,809.07 271.28,809.62 274.86,810.15 278.44,810.67 282.02,811.18 285.61,811.68 289.19,812.16 292.77,812.64 296.35,813.11 299.93,813.58 303.51,814.03 307.09,814.47 310.68,814.9" fill="none" stroke="#00bfbf" stroke-width="1.0" stroke-linejoin="round"/>
<polyline points="38.5,773.8 42.08,774.46 45.66,775.13 49.24,775.82 52.83,776.51 56.41,777.22 59.99,777.94 63.57,778.67 67.15,779.41 70.73,780.17 74.31,780.93 77.89,781.7 81.47,782.46 85.06,783.22 88.64,783.99 92.22,784.76 95.8,785.56 99.38,786.38 102.96,787.23 106.54,788.11 110.12,789.05 113.71,790.04 117.29,791.09 120.87,792.25 124.45,793.52 128.03,794.88 131.61,796.31 135.19,797.8 138.77,799.32 142.36,800.85 145.94,802.38 149.52,803.89 153.1,805.36 156.68,806.78 160.26,808.14 163.84,809.48 167.42,810.79 171.01,812.09 174.59,813.4 178.17,814.72 181.75,816.06 185.33,817.43 188.91,818.85 192.49,820.32 196.07,821.86 199.66,823.47 203.24,825.14 206.82,826.86 210.4,828.64 213.98,830.46 217.56,832.33 221.14,834.24 224.72,836.18 228.31,838.15 231.89,840.14 235.47,842.16 239.05,844.2 242.63,846.27 246.21,848.37 249.79,850.51 253.38,852.7 256.96,854.92 260.54,857.19 264.12,859.51 267.7,861.89 271.28,864.31 274.86,866.79 278.44,869.34 282.02,871.97 285.61,874.67 289.19,877.44 292.77,880.28 296.35,883.19 299.93,886.16 303.51,889.18 307.09,892.27 310.68,895.4" fill="none" stroke="#00bfbf" stroke-width="1.0" stroke-linejoin="round"/>
<line x1="38.5" y1="776.9" x2="325" y2="776.9" stroke="#000" stroke-width="2.1"/>
</g>
<rect x="38.5" y="758.9" width="286.5" height="142.5" fill="none" stroke="#a2a2a2" stroke-width="1.2"/>
<line x1="36.3" y1="759.27" x2="38.5" y2="759.27" stroke="#a2a2a2" stroke-width="1"/>
<text x="35.7" y="763.07" font-size="9.54" text-anchor="end" textLength="17.18" lengthAdjust="spacingAndGlyphs">100</text>
<line x1="36.3" y1="776.9" x2="38.5" y2="776.9" stroke="#a2a2a2" stroke-width="1"/>
<text x="35.7" y="780.7" font-size="9.54" text-anchor="end" textLength="5.73" lengthAdjust="spacingAndGlyphs">0</text>
<line x1="36.3" y1="829.79" x2="38.5" y2="829.79" stroke="#a2a2a2" stroke-width="1"/>
<text x="35.7" y="833.59" font-size="9.54" text-anchor="end" textLength="24.72" lengthAdjust="spacingAndGlyphs">−300</text>
<line x1="36.3" y1="882.68" x2="38.5" y2="882.68" stroke="#a2a2a2" stroke-width="1"/>
<text x="35.7" y="886.48" font-size="9.54" text-anchor="end" textLength="24.72" lengthAdjust="spacingAndGlyphs">−600</text>
<text x="181.75" y="756.3" font-size="13.3" text-anchor="middle" textLength="71.54" lengthAdjust="spacingAndGlyphs">Whitehorse</text>
<text x="7.8" y="830.95" font-size="9.09" text-anchor="middle" textLength="129.9" lengthAdjust="spacingAndGlyphs" transform="rotate(-90 7.8 830.95)">Cost Difference [1000 Dollars]</text>
<rect x="43.1" y="829.7" width="44.4" height="67.5" rx="2" ry="2" fill="#fff" fill-opacity="0.8" stroke="#d9d9d9" stroke-opacity="0.8" stroke-width="0.9"/>
<rect x="45.9" y="833.85" width="17.3" height="5.9" fill="#ff0000" fill-opacity="0.3"/>
<text x="70.3" y="840" font-size="9.28" text-anchor="start" textLength="11.26" lengthAdjust="spacingAndGlyphs">PV</text>
<rect x="45.9" y="846.85" width="17.3" height="5.9" fill="#008000" fill-opacity="0.3"/>
<text x="70.3" y="853" font-size="9.28" text-anchor="start" textLength="11.53" lengthAdjust="spacingAndGlyphs">BE</text>
<rect x="45.9" y="859.85" width="17.3" height="5.9" fill="#0000ff" fill-opacity="0.3"/>
<text x="70.3" y="866" font-size="9.28" text-anchor="start" textLength="11.86" lengthAdjust="spacingAndGlyphs">HP</text>
<rect x="45.9" y="872.85" width="17.3" height="5.9" fill="#ffff00" fill-opacity="0.3"/>
<text x="70.3" y="879" font-size="9.28" text-anchor="start" textLength="14" lengthAdjust="spacingAndGlyphs">WT</text>
<rect x="45.9" y="885.85" width="17.3" height="5.9" fill="#00ffff" fill-opacity="0.3"/>
<text x="70.3" y="892" font-size="9.28" text-anchor="start" textLength="10.85" lengthAdjust="spacingAndGlyphs">All</text>
<line x1="38.5" y1="901.4" x2="38.5" y2="903.6" stroke="#a2a2a2" stroke-width="1"/>
<text x="38.5" y="911.8" font-size="9.54" text-anchor="middle" textLength="5.73" lengthAdjust="spacingAndGlyphs">0</text>
<line x1="110.12" y1="901.4" x2="110.12" y2="903.6" stroke="#a2a2a2" stroke-width="1"/>
<text x="110.12" y="911.8" font-size="9.54" text-anchor="middle" textLength="5.73" lengthAdjust="spacingAndGlyphs">5</text>
<line x1="181.75" y1="901.4" x2="181.75" y2="903.6" stroke="#a2a2a2" stroke-width="1"/>
<text x="181.75" y="911.8" font-size="9.54" text-anchor="middle" textLength="11.45" lengthAdjust="spacingAndGlyphs">10</text>
<line x1="253.38" y1="901.4" x2="253.38" y2="903.6" stroke="#a2a2a2" stroke-width="1"/>
<text x="253.38" y="911.8" font-size="9.54" text-anchor="middle" textLength="11.45" lengthAdjust="spacingAndGlyphs">15</text>
<line x1="325" y1="901.4" x2="325" y2="903.6" stroke="#a2a2a2" stroke-width="1"/>
<text x="325" y="911.8" font-size="9.54" text-anchor="middle" textLength="11.45" lengthAdjust="spacingAndGlyphs">20</text>
<text x="181.75" y="921.5" font-size="8.96" text-anchor="middle" textLength="47.85" lengthAdjust="spacingAndGlyphs">Time [Year]</text>
</g>
<g>
<clipPath id="c14"><rect x="392.6" y="758.9" width="286.5" height="142.5"/></clipPath>
<g clip-path="url(#c14)">
<polygon points="392.6,774.3 396.18,774.3 399.76,774.3 403.34,774.3 406.93,774.3 410.51,774.3 414.09,774.3 417.67,774.3 421.25,774.3 424.83,774.3 428.41,774.3 431.99,774.3 435.58,774.3 439.16,774.3 442.74,774.3 446.32,774.3 449.9,774.3 453.48,774.3 457.06,774.3 460.64,774.3 464.23,774.3 467.81,774.3 471.39,774.3 474.97,774.3 478.55,774.3 482.13,774.31 485.71,774.31 489.29,774.32 492.88,774.32 496.46,774.33 500.04,774.34 503.62,774.35 507.2,774.36 510.78,774.37 514.36,774.38 517.94,774.39 521.52,774.4 525.11,774.41 528.69,774.42 532.27,774.44 535.85,774.45 539.43,774.46 543.01,774.47 546.59,774.49 550.17,774.5 553.76,774.51 557.34,774.53 560.92,774.54 564.5,774.56 568.08,774.58 571.66,774.59 575.24,774.61 578.83,774.63 582.41,774.65 585.99,774.67 589.57,774.69 593.15,774.72 596.73,774.74 600.31,774.76 603.89,774.79 607.48,774.81 611.06,774.84 614.64,774.87 618.22,774.89 621.8,774.92 625.38,774.95 628.96,774.98 632.54,775.01 636.12,775.04 639.71,775.07 643.29,775.1 646.87,775.13 650.45,775.17 654.03,775.2 657.61,775.23 661.19,775.27 664.78,775.3 664.78,779.2 661.19,779.07 657.61,778.95 654.03,778.82 650.45,778.69 646.87,778.55 643.29,778.42 639.71,778.28 636.12,778.14 632.54,778 628.96,777.86 625.38,777.71 621.8,777.55 618.22,777.39 614.64,777.22 611.06,777.06 607.48,776.89 603.89,776.73 600.31,776.58 596.73,776.44 593.15,776.31 589.57,776.19 585.99,776.07 582.41,775.96 578.83,775.85 575.24,775.74 571.66,775.64 568.08,775.54 564.5,775.46 560.92,775.38 557.34,775.31 553.76,775.25 550.17,775.2 546.59,775.16 543.01,775.13 539.43,775.09 535.85,775.05 532.27,775.02 528.69,774.99 525.11,774.95 521.52,774.92 517.94,774.89 514.36,774.86 510.78,774.82 507.2,774.8 503.62,774.77 500.04,774.74 496.46,774.71 492.88,774.68 489.29,774.66 485.71,774.63 482.13,774.61 478.55,774.59 474.97,774.56 471.39,774.54 467.81,774.52 464.23,774.5 460.64,774.48 457.06,774.46 453.48,774.45 449.9,774.43 446.32,774.41 442.74,774.4 439.16,774.39 435.58,774.37 431.99,774.36 428.41,774.35 424.83,774.34 421.25,774.33 417.67,774.33 414.09,774.32 410.51,774.31 406.93,774.31 403.34,774.3 399.76,774.3 396.18,774.3 392.6,774.3" fill="#ff0000" fill-opacity="0.3" stroke="none"/>
<polygon points="392.6,780.8 396.18,781.37 399.76,781.94 403.34,782.5 406.93,783.07 410.51,783.62 414.09,784.18 417.67,784.73 421.25,785.28 424.83,785.82 428.41,786.36 431.99,786.9 435.58,787.43 439.16,787.96 442.74,788.48 446.32,788.99 449.9,789.51 453.48,790.02 457.06,790.54 460.64,791.05 464.23,791.57 467.81,792.09 471.39,792.61 474.97,793.13 478.55,793.66 482.13,794.18 485.71,794.7 489.29,795.23 492.88,795.75 496.46,796.28 500.04,796.81 503.62,797.35 507.2,797.89 510.78,798.43 514.36,798.98 517.94,799.54 521.52,800.11 525.11,800.68 528.69,801.26 532.27,801.83 535.85,802.4 539.43,802.97 543.01,803.53 546.59,804.08 550.17,804.62 553.76,805.15 557.34,805.67 560.92,806.18 564.5,806.68 568.08,807.18 571.66,807.68 575.24,808.18 578.83,808.69 582.41,809.2 585.99,809.71 589.57,810.24 593.15,810.77 596.73,811.32 600.31,811.88 603.89,812.45 607.48,813.02 611.06,813.58 614.64,814.15 618.22,814.72 621.8,815.27 625.38,815.82 628.96,816.35 632.54,816.87 636.12,817.39 639.71,817.9 643.29,818.4 646.87,818.9 650.45,819.39 654.03,819.88 657.61,820.36 661.19,820.83 664.78,821.3 664.78,895 661.19,892.3 657.61,889.62 654.03,886.97 650.45,884.35 646.87,881.75 643.29,879.19 639.71,876.65 636.12,874.14 632.54,871.66 628.96,869.22 625.38,866.76 621.8,864.3 618.22,861.85 614.64,859.41 611.06,857.01 607.48,854.65 603.89,852.35 600.31,850.11 596.73,847.97 593.15,845.91 589.57,843.97 585.99,842.12 582.41,840.34 578.83,838.62 575.24,836.95 571.66,835.33 568.08,833.76 564.5,832.21 560.92,830.7 557.34,829.21 553.76,827.73 550.17,826.26 546.59,824.8 543.01,823.36 539.43,821.94 535.85,820.54 532.27,819.17 528.69,817.81 525.11,816.48 521.52,815.18 517.94,813.89 514.36,812.63 510.78,811.39 507.2,810.18 503.62,808.99 500.04,807.83 496.46,806.69 492.88,805.56 489.29,804.45 485.71,803.36 482.13,802.28 478.55,801.22 474.97,800.16 471.39,799.12 467.81,798.07 464.23,797.03 460.64,795.98 457.06,794.94 453.48,793.9 449.9,792.89 446.32,791.89 442.74,790.93 439.16,789.99 435.58,789.1 431.99,788.25 428.41,787.45 424.83,786.68 421.25,785.92 417.67,785.19 414.09,784.48 410.51,783.8 406.93,783.14 403.34,782.51 399.76,781.91 396.18,781.34 392.6,780.8" fill="#008000" fill-opacity="0.3" stroke="none"/>
<polygon points="392.6,773.2 396.18,773.96 399.76,774.71 403.34,775.44 406.93,776.15 410.51,776.84 414.09,777.51 417.67,778.15 421.25,778.78 424.83,779.38 428.41,779.96 431.99,780.5 435.58,781.02 439.16,781.51 442.74,781.98 446.32,782.43 449.9,782.87 453.48,783.3 457.06,783.74 460.64,784.18 464.23,784.64 467.81,785.11 471.39,785.6 474.97,786.11 478.55,786.62 482.13,787.15 485.71,787.68 489.29,788.21 492.88,788.75 496.46,789.29 500.04,789.83 503.62,790.37 507.2,790.9 510.78,791.43 514.36,791.95 517.94,792.46 521.52,792.97 525.11,793.49 528.69,794 532.27,794.51 535.85,795.02 539.43,795.54 543.01,796.06 546.59,796.59 550.17,797.12 553.76,797.67 557.34,798.22 560.92,798.79 564.5,799.36 568.08,799.93 571.66,800.5 575.24,801.07 578.83,801.63 582.41,802.18 585.99,802.72 589.57,803.24 593.15,803.74 596.73,804.23 600.31,804.7 603.89,805.16 607.48,805.62 611.06,806.07 614.64,806.52 618.22,806.98 621.8,807.43 625.38,807.89 628.96,808.37 632.54,808.85 636.12,809.33 639.71,809.82 643.29,810.31 646.87,810.8 650.45,811.29 654.03,811.79 657.61,812.29 661.19,812.79 664.78,813.3 664.78,892.2 661.19,889.31 657.61,886.45 654.03,883.64 650.45,880.86 646.87,878.12 643.29,875.42 639.71,872.77 636.12,870.17 632.54,867.61 628.96,865.1 625.38,862.62 621.8,860.16 618.22,857.74 614.64,855.34 611.06,852.99 607.48,850.67 603.89,848.4 600.31,846.18 596.73,844.01 593.15,841.9 589.57,839.86 585.99,837.85 582.41,835.88 578.83,833.95 575.24,832.05 571.66,830.19 568.08,828.37 564.5,826.61 560.92,824.89 557.34,823.22 553.76,821.61 550.17,820.06 546.59,818.57 543.01,817.14 539.43,815.76 535.85,814.42 532.27,813.12 528.69,811.84 525.11,810.59 521.52,809.34 517.94,808.1 514.36,806.86 510.78,805.6 507.2,804.33 503.62,803.05 500.04,801.76 496.46,800.47 492.88,799.18 489.29,797.92 485.71,796.67 482.13,795.45 478.55,794.26 474.97,793.12 471.39,792.02 467.81,790.98 464.23,789.97 460.64,788.99 457.06,788.03 453.48,787.11 449.9,786.2 446.32,785.31 442.74,784.43 439.16,783.57 435.58,782.72 431.99,781.87 428.41,781.03 424.83,780.2 421.25,779.37 417.67,778.56 414.09,777.76 410.51,776.97 406.93,776.19 403.34,775.43 399.76,774.67 396.18,773.93 392.6,773.2" fill="#00ffff" fill-opacity="0.3" stroke="none"/>
<polyline points="392.6,774.3 396.18,774.3 399.76,774.3 403.34,774.3 406.93,774.3 410.51,774.3 414.09,774.3 417.67,774.3 421.25,774.3 424.83,774.3 428.41,774.3 431.99,774.3 435.58,774.3 439.16,774.3 442.74,774.3 446.32,774.3 449.9,774.3 453.48,774.3 457.06,774.3 460.64,774.3 464.23,774.3 467.81,774.3 471.39,774.3 474.97,774.3 478.55,774.3 482.13,774.31 485.71,774.31 489.29,774.32 492.88,774.32 496.46,774.33 500.04,774.34 503.62,774.35 507.2,774.36 510.78,774.37 514.36,774.38 517.94,774.39 521.52,774.4 525.11,774.41 528.69,774.42 532.27,774.44 535.85,774.45 539.43,774.46 543.01,774.47 546.59,774.49 550.17,774.5 553.76,774.51 557.34,774.53 560.92,774.54 564.5,774.56 568.08,774.58 571.66,774.59 575.24,774.61 578.83,774.63 582.41,774.65 585.99,774.67 589.57,774.69 593.15,774.72 596.73,774.74 600.31,774.76 603.89,774.79 607.48,774.81 611.06,774.84 614.64,774.87 618.22,774.89 621.8,774.92 625.38,774.95 628.96,774.98 632.54,775.01 636.12,775.04 639.71,775.07 643.29,775.1 646.87,775.13 650.45,775.17 654.03,775.2 657.61,775.23 661.19,775.27 664.78,775.3" fill="none" stroke="#ff0000" stroke-width="1.0" stroke-linejoin="round"/>
<polyline points="392.6,774.3 396.18,774.3 399.76,774.3 403.34,774.3 406.93,774.31 410.51,774.31 414.09,774.32 417.67,774.33 421.25,774.33 424.83,774.34 428.41,774.35 431.99,774.36 435.58,774.37 439.16,774.39 442.74,774.4 446.32,774.41 449.9,774.43 453.48,774.45 457.06,774.46 460.64,774.48 464.23,774.5 467.81,774.52 471.39,774.54 474.97,774.56 478.55,774.59 482.13,774.61 485.71,774.63 489.29,774.66 492.88,774.68 496.46,774.71 500.04,774.74 503.62,774.77 507.2,774.8 510.78,774.82 514.36,774.86 517.94,774.89 521.52,774.92 525.11,774.95 528.69,774.99 532.27,775.02 535.85,775.05 539.43,775.09 543.01,775.13 546.59,775.16 550.17,775.2 553.76,775.25 557.34,775.31 560.92,775.38 564.5,775.46 568.08,775.54 571.66,775.64 575.24,775.74 578.83,775.85 582.41,775.96 585.99,776.07 589.57,776.19 593.15,776.31 596.73,776.44 600.31,776.58 603.89,776.73 607.48,776.89 611.06,777.06 614.64,777.22 618.22,777.39 621.8,777.55 625.38,777.71 628.96,777.86 632.54,778 636.12,778.14 639.71,778.28 643.29,778.42 646.87,778.55 650.45,778.69 654.03,778.82 657.61,778.95 661.19,779.07 664.78,779.2" fill="none" stroke="#ff0000" stroke-width="1.0" stroke-linejoin="round"/>
<polyline points="392.6,780.8 396.18,781.37 399.76,781.94 403.34,782.5 406.93,783.07 410.51,783.62 414.09,784.18 417.67,784.73 421.25,785.28 424.83,785.82 428.41,786.36 431.99,786.9 435.58,787.43 439.16,787.96 442.74,788.48 446.32,788.99 449.9,789.51 453.48,790.02 457.06,790.54 460.64,791.05 464.23,791.57 467.81,792.09 471.39,792.61 474.97,793.13 478.55,793.66 482.13,794.18 485.71,794.7 489.29,795.23 492.88,795.75 496.46,796.28 500.04,796.81 503.62,797.35 507.2,797.89 510.78,798.43 514.36,798.98 517.94,799.54 521.52,800.11 525.11,800.68 528.69,801.26 532.27,801.83 535.85,802.4 539.43,802.97 543.01,803.53 546.59,804.08 550.17,804.62 553.76,805.15 557.34,805.67 560.92,806.18 564.5,806.68 568.08,807.18 571.66,807.68 575.24,808.18 578.83,808.69 582.41,809.2 585.99,809.71 589.57,810.24 593.15,810.77 596.73,811.32 600.31,811.88 603.89,812.45 607.48,813.02 611.06,813.58 614.64,814.15 618.22,814.72 621.8,815.27 625.38,815.82 628.96,816.35 632.54,816.87 636.12,817.39 639.71,817.9 643.29,818.4 646.87,818.9 650.45,819.39 654.03,819.88 657.61,820.36 661.19,820.83 664.78,821.3" fill="none" stroke="#008000" stroke-width="1.0" stroke-linejoin="round"/>
<polyline points="392.6,780.8 396.18,781.34 399.76,781.91 403.34,782.51 406.93,783.14 410.51,783.8 414.09,784.48 417.67,785.19 421.25,785.92 424.83,786.68 428.41,787.45 431.99,788.25 435.58,789.1 439.16,789.99 442.74,790.93 446.32,791.89 449.9,792.89 453.48,793.9 457.06,794.94 460.64,795.98 464.23,797.03 467.81,798.07 471.39,799.12 474.97,800.16 478.55,801.22 482.13,802.28 485.71,803.36 489.29,804.45 492.88,805.56 496.46,806.69 500.04,807.83 503.62,808.99 507.2,810.18 510.78,811.39 514.36,812.63 517.94,813.89 521.52,815.18 525.11,816.48 528.69,817.81 532.27,819.17 535.85,820.54 539.43,821.94 543.01,823.36 546.59,824.8 550.17,826.26 553.76,827.73 557.34,829.21 560.92,830.7 564.5,832.21 568.08,833.76 571.66,835.33 575.24,836.95 578.83,838.62 582.41,840.34 585.99,842.12 589.57,843.97 593.15,845.91 596.73,847.97 600.31,850.11 603.89,852.35 607.48,854.65 611.06,857.01 614.64,859.41 618.22,861.85 621.8,864.3 625.38,866.76 628.96,869.22 632.54,871.66 636.12,874.14 639.71,876.65 643.29,879.19 646.87,881.75 650.45,884.35 654.03,886.97 657.61,889.62 661.19,892.3 664.78,895" fill="none" stroke="#008000" stroke-width="1.0" stroke-linejoin="round"/>
<polyline points="392.6,773.2 396.18,773.96 399.76,774.71 403.34,775.44 406.93,776.15 410.51,776.84 414.09,777.51 417.67,778.15 421.25,778.78 424.83,779.38 428.41,779.96 431.99,780.5 435.58,781.02 439.16,781.51 442.74,781.98 446.32,782.43 449.9,782.87 453.48,783.3 457.06,783.74 460.64,784.18 464.23,784.64 467.81,785.11 471.39,785.6 474.97,786.11 478.55,786.62 482.13,787.15 485.71,787.68 489.29,788.21 492.88,788.75 496.46,789.29 500.04,789.83 503.62,790.37 507.2,790.9 510.78,791.43 514.36,791.95 517.94,792.46 521.52,792.97 525.11,793.49 528.69,794 532.27,794.51 535.85,795.02 539.43,795.54 543.01,796.06 546.59,796.59 550.17,797.12 553.76,797.67 557.34,798.22 560.92,798.79 564.5,799.36 568.08,799.93 571.66,800.5 575.24,801.07 578.83,801.63 582.41,802.18 585.99,802.72 589.57,803.24 593.15,803.74 596.73,804.23 600.31,804.7 603.89,805.16 607.48,805.62 611.06,806.07 614.64,806.52 618.22,806.98 621.8,807.43 625.38,807.89 628.96,808.37 632.54,808.85 636.12,809.33 639.71,809.82 643.29,810.31 646.87,810.8 650.45,811.29 654.03,811.79 657.61,812.29 661.19,812.79 664.78,813.3" fill="none" stroke="#00bfbf" stroke-width="1.0" stroke-linejoin="round"/>
<polyline points="392.6,773.2 396.18,773.93 399.76,774.67 403.34,775.43 406.93,776.19 410.51,776.97 414.09,777.76 417.67,778.56 421.25,779.37 424.83,780.2 428.41,781.03 431.99,781.87 435.58,782.72 439.16,783.57 442.74,784.43 446.32,785.31 449.9,786.2 453.48,787.11 457.06,788.03 460.64,788.99 464.23,789.97 467.81,790.98 471.39,792.02 474.97,793.12 478.55,794.26 482.13,795.45 485.71,796.67 489.29,797.92 492.88,799.18 496.46,800.47 500.04,801.76 503.62,803.05 507.2,804.33 510.78,805.6 514.36,806.86 517.94,808.1 521.52,809.34 525.11,810.59 528.69,811.84 532.27,813.12 535.85,814.42 539.43,815.76 543.01,817.14 546.59,818.57 550.17,820.06 553.76,821.61 557.34,823.22 560.92,824.89 564.5,826.61 568.08,828.37 571.66,830.19 575.24,832.05 578.83,833.95 582.41,835.88 585.99,837.85 589.57,839.86 593.15,841.9 596.73,844.01 600.31,846.18 603.89,848.4 607.48,850.67 611.06,852.99 614.64,855.34 618.22,857.74 621.8,860.16 625.38,862.62 628.96,865.1 632.54,867.61 636.12,870.17 639.71,872.77 643.29,875.42 646.87,878.12 650.45,880.86 654.03,883.64 657.61,886.45 661.19,889.31 664.78,892.2" fill="none" stroke="#00bfbf" stroke-width="1.0" stroke-linejoin="round"/>
<line x1="392.6" y1="776.7" x2="679.1" y2="776.7" stroke="#000" stroke-width="2.1"/>
</g>
<rect x="392.6" y="758.9" width="286.5" height="142.5" fill="none" stroke="#a2a2a2" stroke-width="1.2"/>
<line x1="390.4" y1="759.47" x2="392.6" y2="759.47" stroke="#a2a2a2" stroke-width="1"/>
<text x="389.8" y="763.27" font-size="9.54" text-anchor="end" textLength="17.18" lengthAdjust="spacingAndGlyphs">100</text>
<line x1="390.4" y1="776.7" x2="392.6" y2="776.7" stroke="#a2a2a2" stroke-width="1"/>
<text x="389.8" y="780.5" font-size="9.54" text-anchor="end" textLength="5.73" lengthAdjust="spacingAndGlyphs">0</text>
<line x1="390.4" y1="828.39" x2="392.6" y2="828.39" stroke="#a2a2a2" stroke-width="1"/>
<text x="389.8" y="832.19" font-size="9.54" text-anchor="end" textLength="24.72" lengthAdjust="spacingAndGlyphs">−300</text>
<line x1="390.4" y1="880.08" x2="392.6" y2="880.08" stroke="#a2a2a2" stroke-width="1"/>
<text x="389.8" y="883.88" font-size="9.54" text-anchor="end" textLength="24.72" lengthAdjust="spacingAndGlyphs">−600</text>
<text x="535.85" y="756.3" font-size="13.3" text-anchor="middle" textLength="69.48" lengthAdjust="spacingAndGlyphs">Yellowknife</text>
<text x="361.9" y="830.95" font-size="9.09" text-anchor="middle" textLength="129.9" lengthAdjust="spacingAndGlyphs" transform="rotate(-90 361.9 830.95)">Cost Difference [1000 Dollars]</text>
<rect x="397.2" y="855.7" width="41.93" height="41.5" rx="2" ry="2" fill="#fff" fill-opacity="0.8" stroke="#d9d9d9" stroke-opacity="0.8" stroke-width="0.9"/>
<rect x="400" y="859.85" width="17.3" height="5.9" fill="#ff0000" fill-opacity="0.3"/>
<text x="424.4" y="866" font-size="9.28" text-anchor="start" textLength="11.26" lengthAdjust="spacingAndGlyphs">PV</text>
<rect x="400" y="872.85" width="17.3" height="5.9" fill="#008000" fill-opacity="0.3"/>
<text x="424.4" y="879" font-size="9.28" text-anchor="start" textLength="11.53" lengthAdjust="spacingAndGlyphs">BE</text>
<rect x="400" y="885.85" width="17.3" height="5.9" fill="#00ffff" fill-opacity="0.3"/>
<text x="424.4" y="892" font-size="9.28" text-anchor="start" textLength="10.85" lengthAdjust="spacingAndGlyphs">All</text>
<line x1="392.6" y1="901.4" x2="392.6" y2="903.6" stroke="#a2a2a2" stroke-width="1"/>
<text x="392.6" y="911.8" font-size="9.54" text-anchor="middle" textLength="5.73" lengthAdjust="spacingAndGlyphs">0</text>
<line x1="464.23" y1="901.4" x2="464.23" y2="903.6" stroke="#a2a2a2" stroke-width="1"/>
<text x="464.23" y="911.8" font-size="9.54" text-anchor="middle" textLength="5.73" lengthAdjust="spacingAndGlyphs">5</text>
<line x1="535.85" y1="901.4" x2="535.85" y2="903.6" stroke="#a2a2a2" stroke-width="1"/>
<text x="535.85" y="911.8" font-size="9.54" text-anchor="middle" textLength="11.45" lengthAdjust="spacingAndGlyphs">10</text>
<line x1="607.48" y1="901.4" x2="607.48" y2="903.6" stroke="#a2a2a2" stroke-width="1"/>
<text x="607.48" y="911.8" font-size="9.54" text-anchor="middle" textLength="11.45" lengthAdjust="spacingAndGlyphs">15</text>
<line x1="679.1" y1="901.4" x2="679.1" y2="903.6" stroke="#a2a2a2" stroke-width="1"/>
<text x="679.1" y="911.8" font-size="9.54" text-anchor="middle" textLength="11.45" lengthAdjust="spacingAndGlyphs">20</text>
<text x="535.85" y="921.5" font-size="8.96" text-anchor="middle" textLength="47.85" lengthAdjust="spacingAndGlyphs">Time [Year]</text>
</g>
</svg>
</body></html>
